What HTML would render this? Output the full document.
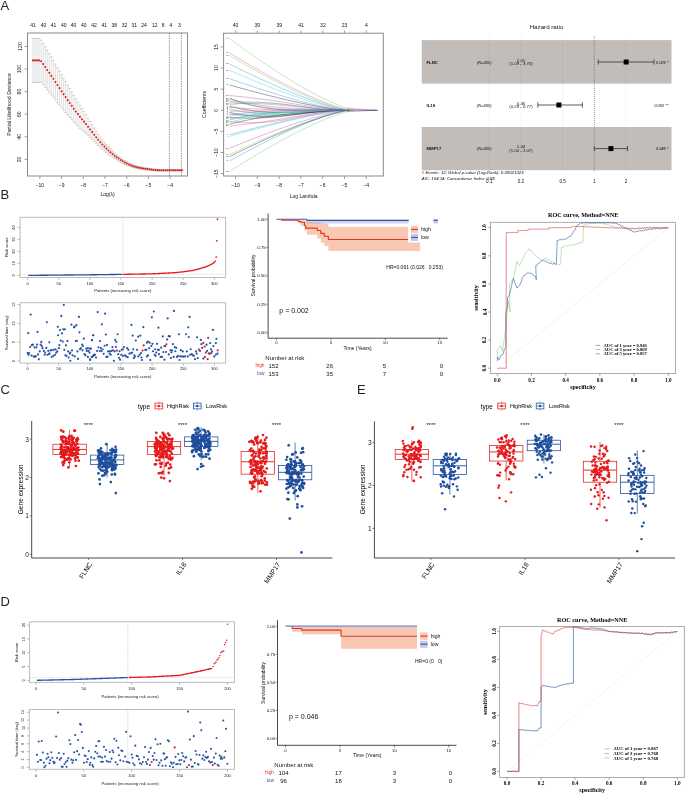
<!DOCTYPE html>
<html><head><meta charset="utf-8"><style>
html,body{margin:0;padding:0;background:#fff;}
svg{display:block;will-change:transform;}
text{font-family:"Liberation Sans",sans-serif;dominant-baseline:central;}
text.sf{font-family:"Liberation Serif",serif;}
</style></head><body>
<svg width="685" height="794" viewBox="0 0 685 794">
<rect x="0" y="0" width="685" height="794" fill="#fff"/>
<text x="0.5" y="5.2" font-size="13" fill="#231f20">A</text>
<text x="0.5" y="194" font-size="13" fill="#231f20">B</text>
<text x="0.5" y="389.7" font-size="13" fill="#231f20">C</text>
<text x="357" y="389.5" font-size="13" fill="#231f20">E</text>
<text x="0.5" y="601.3" font-size="13" fill="#231f20">D</text>
<rect x="27.5" y="33" width="160" height="143" fill="none" stroke="#8a8a8a" stroke-width="1"/>
<text x="33.1" y="24.9" font-size="5" fill="#111" text-anchor="middle">41</text>
<text x="43.5" y="24.9" font-size="5" fill="#111" text-anchor="middle">40</text>
<text x="53.6" y="24.9" font-size="5" fill="#111" text-anchor="middle">41</text>
<text x="63.8" y="24.9" font-size="5" fill="#111" text-anchor="middle">40</text>
<text x="73.6" y="24.9" font-size="5" fill="#111" text-anchor="middle">40</text>
<text x="83.7" y="24.9" font-size="5" fill="#111" text-anchor="middle">40</text>
<text x="94.1" y="24.9" font-size="5" fill="#111" text-anchor="middle">42</text>
<text x="104.2" y="24.9" font-size="5" fill="#111" text-anchor="middle">41</text>
<text x="114.3" y="24.9" font-size="5" fill="#111" text-anchor="middle">38</text>
<text x="124.5" y="24.9" font-size="5" fill="#111" text-anchor="middle">32</text>
<text x="134.3" y="24.9" font-size="5" fill="#111" text-anchor="middle">31</text>
<text x="144.1" y="24.9" font-size="5" fill="#111" text-anchor="middle">24</text>
<text x="154.8" y="24.9" font-size="5" fill="#111" text-anchor="middle">12</text>
<text x="163.1" y="24.9" font-size="5" fill="#111" text-anchor="middle">8</text>
<text x="170.8" y="24.9" font-size="5" fill="#111" text-anchor="middle">4</text>
<text x="179.3" y="24.9" font-size="5" fill="#111" text-anchor="middle">3</text>
<line x1="24.5" y1="46.5" x2="27.5" y2="46.5" stroke="#8a8a8a" stroke-width="0.8"/>
<text x="19.5" y="46.5" font-size="5" fill="#111" text-anchor="middle" transform="rotate(-90 19.5 46.5)">120</text>
<line x1="24.5" y1="69.1" x2="27.5" y2="69.1" stroke="#8a8a8a" stroke-width="0.8"/>
<text x="19.5" y="69.1" font-size="5" fill="#111" text-anchor="middle" transform="rotate(-90 19.5 69.1)">100</text>
<line x1="24.5" y1="91.6" x2="27.5" y2="91.6" stroke="#8a8a8a" stroke-width="0.8"/>
<text x="19.5" y="91.6" font-size="5" fill="#111" text-anchor="middle" transform="rotate(-90 19.5 91.6)">80</text>
<line x1="24.5" y1="114.2" x2="27.5" y2="114.2" stroke="#8a8a8a" stroke-width="0.8"/>
<text x="19.5" y="114.2" font-size="5" fill="#111" text-anchor="middle" transform="rotate(-90 19.5 114.2)">60</text>
<line x1="24.5" y1="136.8" x2="27.5" y2="136.8" stroke="#8a8a8a" stroke-width="0.8"/>
<text x="19.5" y="136.8" font-size="5" fill="#111" text-anchor="middle" transform="rotate(-90 19.5 136.8)">40</text>
<line x1="24.5" y1="159.4" x2="27.5" y2="159.4" stroke="#8a8a8a" stroke-width="0.8"/>
<text x="19.5" y="159.4" font-size="5" fill="#111" text-anchor="middle" transform="rotate(-90 19.5 159.4)">20</text>
<text x="9.2" y="104.5" font-size="5.2" fill="#111" text-anchor="middle" transform="rotate(-90 9.2 104.5)">Partial Likelihood Deviance</text>
<line x1="39.9" y1="176" x2="39.9" y2="179" stroke="#8a8a8a" stroke-width="0.8"/>
<text x="39.9" y="185" font-size="5" fill="#111" text-anchor="middle">&#8722;10</text>
<line x1="61.6" y1="176" x2="61.6" y2="179" stroke="#8a8a8a" stroke-width="0.8"/>
<text x="61.6" y="185" font-size="5" fill="#111" text-anchor="middle">&#8722;9</text>
<line x1="83.3" y1="176" x2="83.3" y2="179" stroke="#8a8a8a" stroke-width="0.8"/>
<text x="83.3" y="185" font-size="5" fill="#111" text-anchor="middle">&#8722;8</text>
<line x1="105" y1="176" x2="105" y2="179" stroke="#8a8a8a" stroke-width="0.8"/>
<text x="105" y="185" font-size="5" fill="#111" text-anchor="middle">&#8722;7</text>
<line x1="126.7" y1="176" x2="126.7" y2="179" stroke="#8a8a8a" stroke-width="0.8"/>
<text x="126.7" y="185" font-size="5" fill="#111" text-anchor="middle">&#8722;6</text>
<line x1="148.4" y1="176" x2="148.4" y2="179" stroke="#8a8a8a" stroke-width="0.8"/>
<text x="148.4" y="185" font-size="5" fill="#111" text-anchor="middle">&#8722;5</text>
<line x1="170.1" y1="176" x2="170.1" y2="179" stroke="#8a8a8a" stroke-width="0.8"/>
<text x="170.1" y="185" font-size="5" fill="#111" text-anchor="middle">&#8722;4</text>
<text x="107.5" y="194.2" font-size="5" fill="#111" text-anchor="middle">Log(&#955;)</text>
<line x1="33" y1="38.4" x2="33" y2="82.4" stroke="#c9c9c9" stroke-width="0.6"/>
<line x1="31.7" y1="38.4" x2="34.3" y2="38.4" stroke="#b5b5b5" stroke-width="0.6"/>
<line x1="31.7" y1="82.4" x2="34.3" y2="82.4" stroke="#b5b5b5" stroke-width="0.6"/>
<line x1="35.04" y1="38.4" x2="35.04" y2="82.4" stroke="#c9c9c9" stroke-width="0.6"/>
<line x1="33.74" y1="38.4" x2="36.34" y2="38.4" stroke="#b5b5b5" stroke-width="0.6"/>
<line x1="33.74" y1="82.4" x2="36.34" y2="82.4" stroke="#b5b5b5" stroke-width="0.6"/>
<line x1="37.08" y1="38.4" x2="37.08" y2="82.4" stroke="#c9c9c9" stroke-width="0.6"/>
<line x1="35.78" y1="38.4" x2="38.38" y2="38.4" stroke="#b5b5b5" stroke-width="0.6"/>
<line x1="35.78" y1="82.4" x2="38.38" y2="82.4" stroke="#b5b5b5" stroke-width="0.6"/>
<line x1="39.12" y1="38.4" x2="39.12" y2="82.4" stroke="#c9c9c9" stroke-width="0.6"/>
<line x1="37.82" y1="38.4" x2="40.42" y2="38.4" stroke="#b5b5b5" stroke-width="0.6"/>
<line x1="37.82" y1="82.4" x2="40.42" y2="82.4" stroke="#b5b5b5" stroke-width="0.6"/>
<line x1="41.16" y1="40.09" x2="41.16" y2="82.28" stroke="#c9c9c9" stroke-width="0.6"/>
<line x1="39.86" y1="40.09" x2="42.46" y2="40.09" stroke="#b5b5b5" stroke-width="0.6"/>
<line x1="39.86" y1="82.28" x2="42.46" y2="82.28" stroke="#b5b5b5" stroke-width="0.6"/>
<line x1="43.2" y1="43.53" x2="43.2" y2="84.71" stroke="#c9c9c9" stroke-width="0.6"/>
<line x1="41.9" y1="43.53" x2="44.5" y2="43.53" stroke="#b5b5b5" stroke-width="0.6"/>
<line x1="41.9" y1="84.71" x2="44.5" y2="84.71" stroke="#b5b5b5" stroke-width="0.6"/>
<line x1="45.24" y1="46.83" x2="45.24" y2="87.28" stroke="#c9c9c9" stroke-width="0.6"/>
<line x1="43.94" y1="46.83" x2="46.54" y2="46.83" stroke="#b5b5b5" stroke-width="0.6"/>
<line x1="43.94" y1="87.28" x2="46.54" y2="87.28" stroke="#b5b5b5" stroke-width="0.6"/>
<line x1="47.28" y1="50.14" x2="47.28" y2="89.85" stroke="#c9c9c9" stroke-width="0.6"/>
<line x1="45.98" y1="50.14" x2="48.58" y2="50.14" stroke="#b5b5b5" stroke-width="0.6"/>
<line x1="45.98" y1="89.85" x2="48.58" y2="89.85" stroke="#b5b5b5" stroke-width="0.6"/>
<line x1="49.32" y1="53.35" x2="49.32" y2="92.32" stroke="#c9c9c9" stroke-width="0.6"/>
<line x1="48.02" y1="53.35" x2="50.62" y2="53.35" stroke="#b5b5b5" stroke-width="0.6"/>
<line x1="48.02" y1="92.32" x2="50.62" y2="92.32" stroke="#b5b5b5" stroke-width="0.6"/>
<line x1="51.36" y1="56.87" x2="51.36" y2="94.89" stroke="#c9c9c9" stroke-width="0.6"/>
<line x1="50.06" y1="56.87" x2="52.66" y2="56.87" stroke="#b5b5b5" stroke-width="0.6"/>
<line x1="50.06" y1="94.89" x2="52.66" y2="94.89" stroke="#b5b5b5" stroke-width="0.6"/>
<line x1="53.4" y1="60.25" x2="53.4" y2="97.25" stroke="#c9c9c9" stroke-width="0.6"/>
<line x1="52.1" y1="60.25" x2="54.7" y2="60.25" stroke="#b5b5b5" stroke-width="0.6"/>
<line x1="52.1" y1="97.25" x2="54.7" y2="97.25" stroke="#b5b5b5" stroke-width="0.6"/>
<line x1="55.44" y1="64.02" x2="55.44" y2="100" stroke="#c9c9c9" stroke-width="0.6"/>
<line x1="54.14" y1="64.02" x2="56.74" y2="64.02" stroke="#b5b5b5" stroke-width="0.6"/>
<line x1="54.14" y1="100" x2="56.74" y2="100" stroke="#b5b5b5" stroke-width="0.6"/>
<line x1="57.48" y1="67.64" x2="57.48" y2="102.6" stroke="#c9c9c9" stroke-width="0.6"/>
<line x1="56.18" y1="67.64" x2="58.78" y2="67.64" stroke="#b5b5b5" stroke-width="0.6"/>
<line x1="56.18" y1="102.6" x2="58.78" y2="102.6" stroke="#b5b5b5" stroke-width="0.6"/>
<line x1="59.52" y1="71.14" x2="59.52" y2="105.14" stroke="#c9c9c9" stroke-width="0.6"/>
<line x1="58.22" y1="71.14" x2="60.82" y2="71.14" stroke="#b5b5b5" stroke-width="0.6"/>
<line x1="58.22" y1="105.14" x2="60.82" y2="105.14" stroke="#b5b5b5" stroke-width="0.6"/>
<line x1="61.56" y1="74.74" x2="61.56" y2="107.8" stroke="#c9c9c9" stroke-width="0.6"/>
<line x1="60.26" y1="74.74" x2="62.86" y2="74.74" stroke="#b5b5b5" stroke-width="0.6"/>
<line x1="60.26" y1="107.8" x2="62.86" y2="107.8" stroke="#b5b5b5" stroke-width="0.6"/>
<line x1="63.6" y1="78.09" x2="63.6" y2="110.2" stroke="#c9c9c9" stroke-width="0.6"/>
<line x1="62.3" y1="78.09" x2="64.9" y2="78.09" stroke="#b5b5b5" stroke-width="0.6"/>
<line x1="62.3" y1="110.2" x2="64.9" y2="110.2" stroke="#b5b5b5" stroke-width="0.6"/>
<line x1="65.64" y1="81.49" x2="65.64" y2="112.66" stroke="#c9c9c9" stroke-width="0.6"/>
<line x1="64.34" y1="81.49" x2="66.94" y2="81.49" stroke="#b5b5b5" stroke-width="0.6"/>
<line x1="64.34" y1="112.66" x2="66.94" y2="112.66" stroke="#b5b5b5" stroke-width="0.6"/>
<line x1="67.68" y1="85.12" x2="67.68" y2="115.2" stroke="#c9c9c9" stroke-width="0.6"/>
<line x1="66.38" y1="85.12" x2="68.98" y2="85.12" stroke="#b5b5b5" stroke-width="0.6"/>
<line x1="66.38" y1="115.2" x2="68.98" y2="115.2" stroke="#b5b5b5" stroke-width="0.6"/>
<line x1="69.72" y1="88.54" x2="69.72" y2="117.49" stroke="#c9c9c9" stroke-width="0.6"/>
<line x1="68.42" y1="88.54" x2="71.02" y2="88.54" stroke="#b5b5b5" stroke-width="0.6"/>
<line x1="68.42" y1="117.49" x2="71.02" y2="117.49" stroke="#b5b5b5" stroke-width="0.6"/>
<line x1="71.76" y1="91.95" x2="71.76" y2="119.78" stroke="#c9c9c9" stroke-width="0.6"/>
<line x1="70.46" y1="91.95" x2="73.06" y2="91.95" stroke="#b5b5b5" stroke-width="0.6"/>
<line x1="70.46" y1="119.78" x2="73.06" y2="119.78" stroke="#b5b5b5" stroke-width="0.6"/>
<line x1="73.8" y1="95.33" x2="73.8" y2="122.04" stroke="#c9c9c9" stroke-width="0.6"/>
<line x1="72.5" y1="95.33" x2="75.1" y2="95.33" stroke="#b5b5b5" stroke-width="0.6"/>
<line x1="72.5" y1="122.04" x2="75.1" y2="122.04" stroke="#b5b5b5" stroke-width="0.6"/>
<line x1="75.84" y1="98.73" x2="75.84" y2="124.17" stroke="#c9c9c9" stroke-width="0.6"/>
<line x1="74.54" y1="98.73" x2="77.14" y2="98.73" stroke="#b5b5b5" stroke-width="0.6"/>
<line x1="74.54" y1="124.17" x2="77.14" y2="124.17" stroke="#b5b5b5" stroke-width="0.6"/>
<line x1="77.88" y1="102.04" x2="77.88" y2="126.18" stroke="#c9c9c9" stroke-width="0.6"/>
<line x1="76.58" y1="102.04" x2="79.18" y2="102.04" stroke="#b5b5b5" stroke-width="0.6"/>
<line x1="76.58" y1="126.18" x2="79.18" y2="126.18" stroke="#b5b5b5" stroke-width="0.6"/>
<line x1="79.92" y1="105.4" x2="79.92" y2="128.25" stroke="#c9c9c9" stroke-width="0.6"/>
<line x1="78.62" y1="105.4" x2="81.22" y2="105.4" stroke="#b5b5b5" stroke-width="0.6"/>
<line x1="78.62" y1="128.25" x2="81.22" y2="128.25" stroke="#b5b5b5" stroke-width="0.6"/>
<line x1="81.96" y1="108.45" x2="81.96" y2="130" stroke="#c9c9c9" stroke-width="0.6"/>
<line x1="80.66" y1="108.45" x2="83.26" y2="108.45" stroke="#b5b5b5" stroke-width="0.6"/>
<line x1="80.66" y1="130" x2="83.26" y2="130" stroke="#b5b5b5" stroke-width="0.6"/>
<line x1="84" y1="111.58" x2="84" y2="131.71" stroke="#c9c9c9" stroke-width="0.6"/>
<line x1="82.7" y1="111.58" x2="85.3" y2="111.58" stroke="#b5b5b5" stroke-width="0.6"/>
<line x1="82.7" y1="131.71" x2="85.3" y2="131.71" stroke="#b5b5b5" stroke-width="0.6"/>
<line x1="86.04" y1="114.76" x2="86.04" y2="133.45" stroke="#c9c9c9" stroke-width="0.6"/>
<line x1="84.74" y1="114.76" x2="87.34" y2="114.76" stroke="#b5b5b5" stroke-width="0.6"/>
<line x1="84.74" y1="133.45" x2="87.34" y2="133.45" stroke="#b5b5b5" stroke-width="0.6"/>
<line x1="88.08" y1="118.14" x2="88.08" y2="135.38" stroke="#c9c9c9" stroke-width="0.6"/>
<line x1="86.78" y1="118.14" x2="89.38" y2="118.14" stroke="#b5b5b5" stroke-width="0.6"/>
<line x1="86.78" y1="135.38" x2="89.38" y2="135.38" stroke="#b5b5b5" stroke-width="0.6"/>
<line x1="90.12" y1="121.53" x2="90.12" y2="137.33" stroke="#c9c9c9" stroke-width="0.6"/>
<line x1="88.82" y1="121.53" x2="91.42" y2="121.53" stroke="#b5b5b5" stroke-width="0.6"/>
<line x1="88.82" y1="137.33" x2="91.42" y2="137.33" stroke="#b5b5b5" stroke-width="0.6"/>
<line x1="92.16" y1="124.8" x2="92.16" y2="139.38" stroke="#c9c9c9" stroke-width="0.6"/>
<line x1="90.86" y1="124.8" x2="93.46" y2="124.8" stroke="#b5b5b5" stroke-width="0.6"/>
<line x1="90.86" y1="139.38" x2="93.46" y2="139.38" stroke="#b5b5b5" stroke-width="0.6"/>
<line x1="94.2" y1="128.05" x2="94.2" y2="141.45" stroke="#c9c9c9" stroke-width="0.6"/>
<line x1="92.9" y1="128.05" x2="95.5" y2="128.05" stroke="#b5b5b5" stroke-width="0.6"/>
<line x1="92.9" y1="141.45" x2="95.5" y2="141.45" stroke="#b5b5b5" stroke-width="0.6"/>
<line x1="96.24" y1="131.18" x2="96.24" y2="143.4" stroke="#c9c9c9" stroke-width="0.6"/>
<line x1="94.94" y1="131.18" x2="97.54" y2="131.18" stroke="#b5b5b5" stroke-width="0.6"/>
<line x1="94.94" y1="143.4" x2="97.54" y2="143.4" stroke="#b5b5b5" stroke-width="0.6"/>
<line x1="98.28" y1="134.27" x2="98.28" y2="145.36" stroke="#c9c9c9" stroke-width="0.6"/>
<line x1="96.98" y1="134.27" x2="99.58" y2="134.27" stroke="#b5b5b5" stroke-width="0.6"/>
<line x1="96.98" y1="145.36" x2="99.58" y2="145.36" stroke="#b5b5b5" stroke-width="0.6"/>
<line x1="100.32" y1="137.07" x2="100.32" y2="147.34" stroke="#c9c9c9" stroke-width="0.6"/>
<line x1="99.02" y1="137.07" x2="101.62" y2="137.07" stroke="#b5b5b5" stroke-width="0.6"/>
<line x1="99.02" y1="147.34" x2="101.62" y2="147.34" stroke="#b5b5b5" stroke-width="0.6"/>
<line x1="102.36" y1="139.83" x2="102.36" y2="149.29" stroke="#c9c9c9" stroke-width="0.6"/>
<line x1="101.06" y1="139.83" x2="103.66" y2="139.83" stroke="#b5b5b5" stroke-width="0.6"/>
<line x1="101.06" y1="149.29" x2="103.66" y2="149.29" stroke="#b5b5b5" stroke-width="0.6"/>
<line x1="104.4" y1="142.28" x2="104.4" y2="150.92" stroke="#c9c9c9" stroke-width="0.6"/>
<line x1="103.1" y1="142.28" x2="105.7" y2="142.28" stroke="#b5b5b5" stroke-width="0.6"/>
<line x1="103.1" y1="150.92" x2="105.7" y2="150.92" stroke="#b5b5b5" stroke-width="0.6"/>
<line x1="106.44" y1="144.68" x2="106.44" y2="152.56" stroke="#c9c9c9" stroke-width="0.6"/>
<line x1="105.14" y1="144.68" x2="107.74" y2="144.68" stroke="#b5b5b5" stroke-width="0.6"/>
<line x1="105.14" y1="152.56" x2="107.74" y2="152.56" stroke="#b5b5b5" stroke-width="0.6"/>
<line x1="108.48" y1="146.85" x2="108.48" y2="154.16" stroke="#c9c9c9" stroke-width="0.6"/>
<line x1="107.18" y1="146.85" x2="109.78" y2="146.85" stroke="#b5b5b5" stroke-width="0.6"/>
<line x1="107.18" y1="154.16" x2="109.78" y2="154.16" stroke="#b5b5b5" stroke-width="0.6"/>
<line x1="110.52" y1="148.97" x2="110.52" y2="155.73" stroke="#c9c9c9" stroke-width="0.6"/>
<line x1="109.22" y1="148.97" x2="111.82" y2="148.97" stroke="#b5b5b5" stroke-width="0.6"/>
<line x1="109.22" y1="155.73" x2="111.82" y2="155.73" stroke="#b5b5b5" stroke-width="0.6"/>
<line x1="112.56" y1="150.94" x2="112.56" y2="157.14" stroke="#c9c9c9" stroke-width="0.6"/>
<line x1="111.26" y1="150.94" x2="113.86" y2="150.94" stroke="#b5b5b5" stroke-width="0.6"/>
<line x1="111.26" y1="157.14" x2="113.86" y2="157.14" stroke="#b5b5b5" stroke-width="0.6"/>
<line x1="114.6" y1="152.84" x2="114.6" y2="158.52" stroke="#c9c9c9" stroke-width="0.6"/>
<line x1="113.3" y1="152.84" x2="115.9" y2="152.84" stroke="#b5b5b5" stroke-width="0.6"/>
<line x1="113.3" y1="158.52" x2="115.9" y2="158.52" stroke="#b5b5b5" stroke-width="0.6"/>
<line x1="116.64" y1="154.49" x2="116.64" y2="159.76" stroke="#c9c9c9" stroke-width="0.6"/>
<line x1="115.34" y1="154.49" x2="117.94" y2="154.49" stroke="#b5b5b5" stroke-width="0.6"/>
<line x1="115.34" y1="159.76" x2="117.94" y2="159.76" stroke="#b5b5b5" stroke-width="0.6"/>
<line x1="118.68" y1="156.13" x2="118.68" y2="160.99" stroke="#c9c9c9" stroke-width="0.6"/>
<line x1="117.38" y1="156.13" x2="119.98" y2="156.13" stroke="#b5b5b5" stroke-width="0.6"/>
<line x1="117.38" y1="160.99" x2="119.98" y2="160.99" stroke="#b5b5b5" stroke-width="0.6"/>
<line x1="120.72" y1="157.72" x2="120.72" y2="162.18" stroke="#c9c9c9" stroke-width="0.6"/>
<line x1="119.42" y1="157.72" x2="122.02" y2="157.72" stroke="#b5b5b5" stroke-width="0.6"/>
<line x1="119.42" y1="162.18" x2="122.02" y2="162.18" stroke="#b5b5b5" stroke-width="0.6"/>
<line x1="122.76" y1="159.25" x2="122.76" y2="163.36" stroke="#c9c9c9" stroke-width="0.6"/>
<line x1="121.46" y1="159.25" x2="124.06" y2="159.25" stroke="#b5b5b5" stroke-width="0.6"/>
<line x1="121.46" y1="163.36" x2="124.06" y2="163.36" stroke="#b5b5b5" stroke-width="0.6"/>
<line x1="124.8" y1="160.51" x2="124.8" y2="164.38" stroke="#c9c9c9" stroke-width="0.6"/>
<line x1="123.5" y1="160.51" x2="126.1" y2="160.51" stroke="#b5b5b5" stroke-width="0.6"/>
<line x1="123.5" y1="164.38" x2="126.1" y2="164.38" stroke="#b5b5b5" stroke-width="0.6"/>
<line x1="126.84" y1="161.74" x2="126.84" y2="165.37" stroke="#c9c9c9" stroke-width="0.6"/>
<line x1="125.54" y1="161.74" x2="128.14" y2="161.74" stroke="#b5b5b5" stroke-width="0.6"/>
<line x1="125.54" y1="165.37" x2="128.14" y2="165.37" stroke="#b5b5b5" stroke-width="0.6"/>
<line x1="128.88" y1="162.77" x2="128.88" y2="166.17" stroke="#c9c9c9" stroke-width="0.6"/>
<line x1="127.58" y1="162.77" x2="130.18" y2="162.77" stroke="#b5b5b5" stroke-width="0.6"/>
<line x1="127.58" y1="166.17" x2="130.18" y2="166.17" stroke="#b5b5b5" stroke-width="0.6"/>
<line x1="130.92" y1="163.76" x2="130.92" y2="166.92" stroke="#c9c9c9" stroke-width="0.6"/>
<line x1="129.62" y1="163.76" x2="132.22" y2="163.76" stroke="#b5b5b5" stroke-width="0.6"/>
<line x1="129.62" y1="166.92" x2="132.22" y2="166.92" stroke="#b5b5b5" stroke-width="0.6"/>
<line x1="132.96" y1="164.58" x2="132.96" y2="167.5" stroke="#c9c9c9" stroke-width="0.6"/>
<line x1="131.66" y1="164.58" x2="134.26" y2="164.58" stroke="#b5b5b5" stroke-width="0.6"/>
<line x1="131.66" y1="167.5" x2="134.26" y2="167.5" stroke="#b5b5b5" stroke-width="0.6"/>
<line x1="135" y1="165.33" x2="135" y2="168.07" stroke="#c9c9c9" stroke-width="0.6"/>
<line x1="133.7" y1="165.33" x2="136.3" y2="165.33" stroke="#b5b5b5" stroke-width="0.6"/>
<line x1="133.7" y1="168.07" x2="136.3" y2="168.07" stroke="#b5b5b5" stroke-width="0.6"/>
<line x1="137.04" y1="165.91" x2="137.04" y2="168.52" stroke="#c9c9c9" stroke-width="0.6"/>
<line x1="135.74" y1="165.91" x2="138.34" y2="165.91" stroke="#b5b5b5" stroke-width="0.6"/>
<line x1="135.74" y1="168.52" x2="138.34" y2="168.52" stroke="#b5b5b5" stroke-width="0.6"/>
<line x1="139.08" y1="166.47" x2="139.08" y2="168.96" stroke="#c9c9c9" stroke-width="0.6"/>
<line x1="137.78" y1="166.47" x2="140.38" y2="166.47" stroke="#b5b5b5" stroke-width="0.6"/>
<line x1="137.78" y1="168.96" x2="140.38" y2="168.96" stroke="#b5b5b5" stroke-width="0.6"/>
<line x1="141.12" y1="166.91" x2="141.12" y2="169.26" stroke="#c9c9c9" stroke-width="0.6"/>
<line x1="139.82" y1="166.91" x2="142.42" y2="166.91" stroke="#b5b5b5" stroke-width="0.6"/>
<line x1="139.82" y1="169.26" x2="142.42" y2="169.26" stroke="#b5b5b5" stroke-width="0.6"/>
<line x1="143.16" y1="167.34" x2="143.16" y2="169.57" stroke="#c9c9c9" stroke-width="0.6"/>
<line x1="141.86" y1="167.34" x2="144.46" y2="167.34" stroke="#b5b5b5" stroke-width="0.6"/>
<line x1="141.86" y1="169.57" x2="144.46" y2="169.57" stroke="#b5b5b5" stroke-width="0.6"/>
<line x1="145.2" y1="167.7" x2="145.2" y2="169.8" stroke="#c9c9c9" stroke-width="0.6"/>
<line x1="143.9" y1="167.7" x2="146.5" y2="167.7" stroke="#b5b5b5" stroke-width="0.6"/>
<line x1="143.9" y1="169.8" x2="146.5" y2="169.8" stroke="#b5b5b5" stroke-width="0.6"/>
<line x1="147.24" y1="168.04" x2="147.24" y2="170.01" stroke="#c9c9c9" stroke-width="0.6"/>
<line x1="145.94" y1="168.04" x2="148.54" y2="168.04" stroke="#b5b5b5" stroke-width="0.6"/>
<line x1="145.94" y1="170.01" x2="148.54" y2="170.01" stroke="#b5b5b5" stroke-width="0.6"/>
<line x1="149.28" y1="168.38" x2="149.28" y2="170.23" stroke="#c9c9c9" stroke-width="0.6"/>
<line x1="147.98" y1="168.38" x2="150.58" y2="168.38" stroke="#b5b5b5" stroke-width="0.6"/>
<line x1="147.98" y1="170.23" x2="150.58" y2="170.23" stroke="#b5b5b5" stroke-width="0.6"/>
<line x1="151.32" y1="168.7" x2="151.32" y2="170.47" stroke="#c9c9c9" stroke-width="0.6"/>
<line x1="150.02" y1="168.7" x2="152.62" y2="168.7" stroke="#b5b5b5" stroke-width="0.6"/>
<line x1="150.02" y1="170.47" x2="152.62" y2="170.47" stroke="#b5b5b5" stroke-width="0.6"/>
<line x1="153.36" y1="169" x2="153.36" y2="170.74" stroke="#c9c9c9" stroke-width="0.6"/>
<line x1="152.06" y1="169" x2="154.66" y2="169" stroke="#b5b5b5" stroke-width="0.6"/>
<line x1="152.06" y1="170.74" x2="154.66" y2="170.74" stroke="#b5b5b5" stroke-width="0.6"/>
<line x1="155.4" y1="169.17" x2="155.4" y2="170.87" stroke="#c9c9c9" stroke-width="0.6"/>
<line x1="154.1" y1="169.17" x2="156.7" y2="169.17" stroke="#b5b5b5" stroke-width="0.6"/>
<line x1="154.1" y1="170.87" x2="156.7" y2="170.87" stroke="#b5b5b5" stroke-width="0.6"/>
<line x1="157.44" y1="169.33" x2="157.44" y2="170.99" stroke="#c9c9c9" stroke-width="0.6"/>
<line x1="156.14" y1="169.33" x2="158.74" y2="169.33" stroke="#b5b5b5" stroke-width="0.6"/>
<line x1="156.14" y1="170.99" x2="158.74" y2="170.99" stroke="#b5b5b5" stroke-width="0.6"/>
<line x1="159.48" y1="169.49" x2="159.48" y2="171.11" stroke="#c9c9c9" stroke-width="0.6"/>
<line x1="158.18" y1="169.49" x2="160.78" y2="169.49" stroke="#b5b5b5" stroke-width="0.6"/>
<line x1="158.18" y1="171.11" x2="160.78" y2="171.11" stroke="#b5b5b5" stroke-width="0.6"/>
<line x1="161.52" y1="169.51" x2="161.52" y2="171.09" stroke="#c9c9c9" stroke-width="0.6"/>
<line x1="160.22" y1="169.51" x2="162.82" y2="169.51" stroke="#b5b5b5" stroke-width="0.6"/>
<line x1="160.22" y1="171.09" x2="162.82" y2="171.09" stroke="#b5b5b5" stroke-width="0.6"/>
<line x1="163.56" y1="169.53" x2="163.56" y2="171.07" stroke="#c9c9c9" stroke-width="0.6"/>
<line x1="162.26" y1="169.53" x2="164.86" y2="169.53" stroke="#b5b5b5" stroke-width="0.6"/>
<line x1="162.26" y1="171.07" x2="164.86" y2="171.07" stroke="#b5b5b5" stroke-width="0.6"/>
<line x1="165.6" y1="169.55" x2="165.6" y2="171.05" stroke="#c9c9c9" stroke-width="0.6"/>
<line x1="164.3" y1="169.55" x2="166.9" y2="169.55" stroke="#b5b5b5" stroke-width="0.6"/>
<line x1="164.3" y1="171.05" x2="166.9" y2="171.05" stroke="#b5b5b5" stroke-width="0.6"/>
<line x1="167.64" y1="169.57" x2="167.64" y2="171.03" stroke="#c9c9c9" stroke-width="0.6"/>
<line x1="166.34" y1="169.57" x2="168.94" y2="169.57" stroke="#b5b5b5" stroke-width="0.6"/>
<line x1="166.34" y1="171.03" x2="168.94" y2="171.03" stroke="#b5b5b5" stroke-width="0.6"/>
<line x1="169.68" y1="169.58" x2="169.68" y2="171.02" stroke="#c9c9c9" stroke-width="0.6"/>
<line x1="168.38" y1="169.58" x2="170.98" y2="169.58" stroke="#b5b5b5" stroke-width="0.6"/>
<line x1="168.38" y1="171.02" x2="170.98" y2="171.02" stroke="#b5b5b5" stroke-width="0.6"/>
<line x1="171.72" y1="169.6" x2="171.72" y2="171" stroke="#c9c9c9" stroke-width="0.6"/>
<line x1="170.42" y1="169.6" x2="173.02" y2="169.6" stroke="#b5b5b5" stroke-width="0.6"/>
<line x1="170.42" y1="171" x2="173.02" y2="171" stroke="#b5b5b5" stroke-width="0.6"/>
<line x1="173.76" y1="169.62" x2="173.76" y2="170.98" stroke="#c9c9c9" stroke-width="0.6"/>
<line x1="172.46" y1="169.62" x2="175.06" y2="169.62" stroke="#b5b5b5" stroke-width="0.6"/>
<line x1="172.46" y1="170.98" x2="175.06" y2="170.98" stroke="#b5b5b5" stroke-width="0.6"/>
<line x1="175.8" y1="169.64" x2="175.8" y2="170.96" stroke="#c9c9c9" stroke-width="0.6"/>
<line x1="174.5" y1="169.64" x2="177.1" y2="169.64" stroke="#b5b5b5" stroke-width="0.6"/>
<line x1="174.5" y1="170.96" x2="177.1" y2="170.96" stroke="#b5b5b5" stroke-width="0.6"/>
<line x1="177.84" y1="169.66" x2="177.84" y2="170.94" stroke="#c9c9c9" stroke-width="0.6"/>
<line x1="176.54" y1="169.66" x2="179.14" y2="169.66" stroke="#b5b5b5" stroke-width="0.6"/>
<line x1="176.54" y1="170.94" x2="179.14" y2="170.94" stroke="#b5b5b5" stroke-width="0.6"/>
<line x1="179.88" y1="169.68" x2="179.88" y2="170.92" stroke="#c9c9c9" stroke-width="0.6"/>
<line x1="178.58" y1="169.68" x2="181.18" y2="169.68" stroke="#b5b5b5" stroke-width="0.6"/>
<line x1="178.58" y1="170.92" x2="181.18" y2="170.92" stroke="#b5b5b5" stroke-width="0.6"/>
<line x1="181.92" y1="169.7" x2="181.92" y2="170.9" stroke="#c9c9c9" stroke-width="0.6"/>
<line x1="180.62" y1="169.7" x2="183.22" y2="169.7" stroke="#b5b5b5" stroke-width="0.6"/>
<line x1="180.62" y1="170.9" x2="183.22" y2="170.9" stroke="#b5b5b5" stroke-width="0.6"/>
<circle cx="33" cy="60.4" r="1.05" fill="#e0201e"/>
<circle cx="35.04" cy="60.4" r="1.05" fill="#e0201e"/>
<circle cx="37.08" cy="60.4" r="1.05" fill="#e0201e"/>
<circle cx="39.12" cy="60.4" r="1.05" fill="#e0201e"/>
<circle cx="41.16" cy="61.19" r="1.05" fill="#e0201e"/>
<circle cx="43.2" cy="64.12" r="1.05" fill="#e0201e"/>
<circle cx="45.24" cy="67.05" r="1.05" fill="#e0201e"/>
<circle cx="47.28" cy="69.99" r="1.05" fill="#e0201e"/>
<circle cx="49.32" cy="72.84" r="1.05" fill="#e0201e"/>
<circle cx="51.36" cy="75.88" r="1.05" fill="#e0201e"/>
<circle cx="53.4" cy="78.75" r="1.05" fill="#e0201e"/>
<circle cx="55.44" cy="82.01" r="1.05" fill="#e0201e"/>
<circle cx="57.48" cy="85.12" r="1.05" fill="#e0201e"/>
<circle cx="59.52" cy="88.14" r="1.05" fill="#e0201e"/>
<circle cx="61.56" cy="91.27" r="1.05" fill="#e0201e"/>
<circle cx="63.6" cy="94.15" r="1.05" fill="#e0201e"/>
<circle cx="65.64" cy="97.08" r="1.05" fill="#e0201e"/>
<circle cx="67.68" cy="100.16" r="1.05" fill="#e0201e"/>
<circle cx="69.72" cy="103.02" r="1.05" fill="#e0201e"/>
<circle cx="71.76" cy="105.86" r="1.05" fill="#e0201e"/>
<circle cx="73.8" cy="108.69" r="1.05" fill="#e0201e"/>
<circle cx="75.84" cy="111.45" r="1.05" fill="#e0201e"/>
<circle cx="77.88" cy="114.11" r="1.05" fill="#e0201e"/>
<circle cx="79.92" cy="116.83" r="1.05" fill="#e0201e"/>
<circle cx="81.96" cy="119.22" r="1.05" fill="#e0201e"/>
<circle cx="84" cy="121.64" r="1.05" fill="#e0201e"/>
<circle cx="86.04" cy="124.11" r="1.05" fill="#e0201e"/>
<circle cx="88.08" cy="126.76" r="1.05" fill="#e0201e"/>
<circle cx="90.12" cy="129.43" r="1.05" fill="#e0201e"/>
<circle cx="92.16" cy="132.09" r="1.05" fill="#e0201e"/>
<circle cx="94.2" cy="134.75" r="1.05" fill="#e0201e"/>
<circle cx="96.24" cy="137.29" r="1.05" fill="#e0201e"/>
<circle cx="98.28" cy="139.81" r="1.05" fill="#e0201e"/>
<circle cx="100.32" cy="142.21" r="1.05" fill="#e0201e"/>
<circle cx="102.36" cy="144.56" r="1.05" fill="#e0201e"/>
<circle cx="104.4" cy="146.6" r="1.05" fill="#e0201e"/>
<circle cx="106.44" cy="148.62" r="1.05" fill="#e0201e"/>
<circle cx="108.48" cy="150.5" r="1.05" fill="#e0201e"/>
<circle cx="110.52" cy="152.35" r="1.05" fill="#e0201e"/>
<circle cx="112.56" cy="154.04" r="1.05" fill="#e0201e"/>
<circle cx="114.6" cy="155.68" r="1.05" fill="#e0201e"/>
<circle cx="116.64" cy="157.13" r="1.05" fill="#e0201e"/>
<circle cx="118.68" cy="158.56" r="1.05" fill="#e0201e"/>
<circle cx="120.72" cy="159.95" r="1.05" fill="#e0201e"/>
<circle cx="122.76" cy="161.3" r="1.05" fill="#e0201e"/>
<circle cx="124.8" cy="162.45" r="1.05" fill="#e0201e"/>
<circle cx="126.84" cy="163.55" r="1.05" fill="#e0201e"/>
<circle cx="128.88" cy="164.47" r="1.05" fill="#e0201e"/>
<circle cx="130.92" cy="165.34" r="1.05" fill="#e0201e"/>
<circle cx="132.96" cy="166.04" r="1.05" fill="#e0201e"/>
<circle cx="135" cy="166.7" r="1.05" fill="#e0201e"/>
<circle cx="137.04" cy="167.21" r="1.05" fill="#e0201e"/>
<circle cx="139.08" cy="167.71" r="1.05" fill="#e0201e"/>
<circle cx="141.12" cy="168.09" r="1.05" fill="#e0201e"/>
<circle cx="143.16" cy="168.46" r="1.05" fill="#e0201e"/>
<circle cx="145.2" cy="168.75" r="1.05" fill="#e0201e"/>
<circle cx="147.24" cy="169.02" r="1.05" fill="#e0201e"/>
<circle cx="149.28" cy="169.3" r="1.05" fill="#e0201e"/>
<circle cx="151.32" cy="169.59" r="1.05" fill="#e0201e"/>
<circle cx="153.36" cy="169.87" r="1.05" fill="#e0201e"/>
<circle cx="155.4" cy="170.02" r="1.05" fill="#e0201e"/>
<circle cx="157.44" cy="170.16" r="1.05" fill="#e0201e"/>
<circle cx="159.48" cy="170.3" r="1.05" fill="#e0201e"/>
<circle cx="161.52" cy="170.3" r="1.05" fill="#e0201e"/>
<circle cx="163.56" cy="170.3" r="1.05" fill="#e0201e"/>
<circle cx="165.6" cy="170.3" r="1.05" fill="#e0201e"/>
<circle cx="167.64" cy="170.3" r="1.05" fill="#e0201e"/>
<circle cx="169.68" cy="170.3" r="1.05" fill="#e0201e"/>
<circle cx="171.72" cy="170.3" r="1.05" fill="#e0201e"/>
<circle cx="173.76" cy="170.3" r="1.05" fill="#e0201e"/>
<circle cx="175.8" cy="170.3" r="1.05" fill="#e0201e"/>
<circle cx="177.84" cy="170.3" r="1.05" fill="#e0201e"/>
<circle cx="179.88" cy="170.3" r="1.05" fill="#e0201e"/>
<circle cx="181.92" cy="170.3" r="1.05" fill="#e0201e"/>
<line x1="169.4" y1="33" x2="169.4" y2="176" stroke="#333" stroke-width="0.6" stroke-dasharray="1.2,1.2"/>
<line x1="181.4" y1="33" x2="181.4" y2="176" stroke="#333" stroke-width="0.6" stroke-dasharray="1.2,1.2"/>
<rect x="223.6" y="33.2" width="159.7" height="142.8" fill="none" stroke="#8a8a8a" stroke-width="1"/>
<line x1="235.6" y1="33.2" x2="235.6" y2="30.5" stroke="#8a8a8a" stroke-width="0.8"/>
<text x="235.6" y="24.9" font-size="5" fill="#111" text-anchor="middle">40</text>
<line x1="257.3" y1="33.2" x2="257.3" y2="30.5" stroke="#8a8a8a" stroke-width="0.8"/>
<text x="257.3" y="24.9" font-size="5" fill="#111" text-anchor="middle">39</text>
<line x1="279.2" y1="33.2" x2="279.2" y2="30.5" stroke="#8a8a8a" stroke-width="0.8"/>
<text x="279.2" y="24.9" font-size="5" fill="#111" text-anchor="middle">39</text>
<line x1="301" y1="33.2" x2="301" y2="30.5" stroke="#8a8a8a" stroke-width="0.8"/>
<text x="301" y="24.9" font-size="5" fill="#111" text-anchor="middle">41</text>
<line x1="322.9" y1="33.2" x2="322.9" y2="30.5" stroke="#8a8a8a" stroke-width="0.8"/>
<text x="322.9" y="24.9" font-size="5" fill="#111" text-anchor="middle">32</text>
<line x1="344.5" y1="33.2" x2="344.5" y2="30.5" stroke="#8a8a8a" stroke-width="0.8"/>
<text x="344.5" y="24.9" font-size="5" fill="#111" text-anchor="middle">23</text>
<line x1="366.3" y1="33.2" x2="366.3" y2="30.5" stroke="#8a8a8a" stroke-width="0.8"/>
<text x="366.3" y="24.9" font-size="5" fill="#111" text-anchor="middle">4</text>
<line x1="220.6" y1="47" x2="223.6" y2="47" stroke="#8a8a8a" stroke-width="0.8"/>
<text x="216" y="47" font-size="5" fill="#111" text-anchor="middle" transform="rotate(-90 216 47)">15</text>
<line x1="220.6" y1="68.1" x2="223.6" y2="68.1" stroke="#8a8a8a" stroke-width="0.8"/>
<text x="216" y="68.1" font-size="5" fill="#111" text-anchor="middle" transform="rotate(-90 216 68.1)">10</text>
<line x1="220.6" y1="89.2" x2="223.6" y2="89.2" stroke="#8a8a8a" stroke-width="0.8"/>
<text x="216" y="89.2" font-size="5" fill="#111" text-anchor="middle" transform="rotate(-90 216 89.2)">5</text>
<line x1="220.6" y1="110.3" x2="223.6" y2="110.3" stroke="#8a8a8a" stroke-width="0.8"/>
<text x="216" y="110.3" font-size="5" fill="#111" text-anchor="middle" transform="rotate(-90 216 110.3)">0</text>
<line x1="220.6" y1="131.4" x2="223.6" y2="131.4" stroke="#8a8a8a" stroke-width="0.8"/>
<text x="216" y="131.4" font-size="5" fill="#111" text-anchor="middle" transform="rotate(-90 216 131.4)">&#8722;5</text>
<line x1="220.6" y1="152.5" x2="223.6" y2="152.5" stroke="#8a8a8a" stroke-width="0.8"/>
<text x="216" y="152.5" font-size="5" fill="#111" text-anchor="middle" transform="rotate(-90 216 152.5)">&#8722;10</text>
<line x1="220.6" y1="173.6" x2="223.6" y2="173.6" stroke="#8a8a8a" stroke-width="0.8"/>
<text x="216" y="173.6" font-size="5" fill="#111" text-anchor="middle" transform="rotate(-90 216 173.6)">&#8722;15</text>
<text x="204.3" y="104.4" font-size="5.2" fill="#111" text-anchor="middle" transform="rotate(-90 204.3 104.4)">Coefficients</text>
<line x1="235.6" y1="176" x2="235.6" y2="179" stroke="#8a8a8a" stroke-width="0.8"/>
<text x="235.6" y="184.8" font-size="5" fill="#111" text-anchor="middle">&#8722;10</text>
<line x1="257.38" y1="176" x2="257.38" y2="179" stroke="#8a8a8a" stroke-width="0.8"/>
<text x="257.38" y="184.8" font-size="5" fill="#111" text-anchor="middle">&#8722;9</text>
<line x1="279.16" y1="176" x2="279.16" y2="179" stroke="#8a8a8a" stroke-width="0.8"/>
<text x="279.16" y="184.8" font-size="5" fill="#111" text-anchor="middle">&#8722;8</text>
<line x1="300.94" y1="176" x2="300.94" y2="179" stroke="#8a8a8a" stroke-width="0.8"/>
<text x="300.94" y="184.8" font-size="5" fill="#111" text-anchor="middle">&#8722;7</text>
<line x1="322.72" y1="176" x2="322.72" y2="179" stroke="#8a8a8a" stroke-width="0.8"/>
<text x="322.72" y="184.8" font-size="5" fill="#111" text-anchor="middle">&#8722;6</text>
<line x1="344.5" y1="176" x2="344.5" y2="179" stroke="#8a8a8a" stroke-width="0.8"/>
<text x="344.5" y="184.8" font-size="5" fill="#111" text-anchor="middle">&#8722;5</text>
<line x1="366.28" y1="176" x2="366.28" y2="179" stroke="#8a8a8a" stroke-width="0.8"/>
<text x="366.28" y="184.8" font-size="5" fill="#111" text-anchor="middle">&#8722;4</text>
<text x="303.6" y="195.9" font-size="5" fill="#111" text-anchor="middle">Log Lambda</text>
<polyline points="229.5,38.56 232.63,40.88 235.77,43.19 238.9,45.47 242.03,47.74 245.17,49.99 248.3,52.22 251.44,54.43 254.57,56.62 257.7,58.79 260.84,60.94 263.97,63.07 267.11,65.18 270.24,67.26 273.37,69.32 276.51,71.36 279.64,73.37 282.77,75.36 285.91,77.32 289.04,79.26 292.18,81.16 295.31,83.04 298.44,84.89 301.58,86.71 304.71,88.5 307.84,90.26 310.98,91.97 314.11,93.66 317.25,95.3 320.38,96.91 323.51,98.47 326.65,99.98 329.78,101.45 332.91,102.86 336.05,104.21 339.18,105.49 342.31,106.7 345.45,107.83 348.58,108.84 351.72,109.71 354.85,110.3" fill="none" stroke="#6fc65e" stroke-width="0.5" stroke-linejoin="round" stroke-opacity="0.8"/>
<polyline points="229.5,52.91 232.55,54.77 235.59,56.61 238.64,58.44 241.68,60.25 244.73,62.05 247.77,63.84 250.82,65.61 253.87,67.36 256.91,69.1 259.96,70.82 263,72.52 266.05,74.2 269.09,75.87 272.14,77.52 275.19,79.15 278.23,80.76 281.28,82.35 284.32,83.92 287.37,85.47 290.41,86.99 293.46,88.5 296.51,89.98 299.55,91.43 302.6,92.86 305.64,94.26 308.69,95.64 311.74,96.99 314.78,98.3 317.83,99.59 320.87,100.83 323.92,102.05 326.96,103.22 330.01,104.35 333.06,105.43 336.1,106.46 339.15,107.42 342.19,108.32 345.24,109.13 348.28,109.83 351.33,110.3" fill="none" stroke="#d9546a" stroke-width="0.5" stroke-linejoin="round" stroke-opacity="0.8"/>
<polyline points="229.5,55.44 232.47,57.22 235.43,58.98 238.4,60.73 241.37,62.46 244.33,64.18 247.3,65.89 250.26,67.58 253.23,69.25 256.2,70.91 259.16,72.56 262.13,74.18 265.09,75.79 268.06,77.39 271.03,78.96 273.99,80.52 276.96,82.06 279.93,83.58 282.89,85.08 285.86,86.56 288.82,88.02 291.79,89.46 294.76,90.87 297.72,92.26 300.69,93.63 303.66,94.97 306.62,96.29 309.59,97.57 312.55,98.83 315.52,100.06 318.49,101.25 321.45,102.41 324.42,103.53 327.39,104.61 330.35,105.64 333.32,106.63 336.28,107.55 339.25,108.41 342.22,109.18 345.18,109.85 348.15,110.3" fill="none" stroke="#6fc65e" stroke-width="0.5" stroke-linejoin="round" stroke-opacity="0.8"/>
<polyline points="229.5,63.88 232.48,65.38 235.47,66.87 238.45,68.35 241.43,69.82 244.41,71.28 247.4,72.72 250.38,74.15 253.36,75.57 256.34,76.97 259.32,78.36 262.31,79.74 265.29,81.1 268.27,82.45 271.25,83.78 274.24,85.1 277.22,86.41 280.2,87.69 283.19,88.96 286.17,90.21 289.15,91.45 292.13,92.66 295.12,93.86 298.1,95.04 301.08,96.19 304.06,97.33 307.05,98.44 310.03,99.53 313.01,100.6 315.99,101.63 318.98,102.64 321.96,103.62 324.94,104.57 327.92,105.48 330.9,106.36 333.89,107.19 336.87,107.97 339.85,108.7 342.84,109.36 345.82,109.92 348.8,110.3" fill="none" stroke="#2f8fd8" stroke-width="0.5" stroke-linejoin="round" stroke-opacity="0.8"/>
<polyline points="229.5,70.21 232.45,71.51 235.41,72.8 238.36,74.07 241.31,75.34 244.26,76.6 247.22,77.85 250.17,79.08 253.12,80.3 256.07,81.52 259.02,82.72 261.98,83.91 264.93,85.08 267.88,86.25 270.84,87.4 273.79,88.54 276.74,89.66 279.69,90.77 282.64,91.87 285.6,92.95 288.55,94.02 291.5,95.07 294.46,96.1 297.41,97.12 300.36,98.12 303.31,99.1 306.26,100.06 309.22,101 312.17,101.92 315.12,102.82 318.08,103.69 321.03,104.53 323.98,105.35 326.93,106.14 329.88,106.9 332.84,107.61 335.79,108.29 338.74,108.92 341.7,109.48 344.65,109.97 347.6,110.3" fill="none" stroke="#3ccbd6" stroke-width="0.5" stroke-linejoin="round" stroke-opacity="0.8"/>
<polyline points="229.5,78.65 232.39,79.67 235.29,80.69 238.18,81.7 241.07,82.7 243.97,83.69 246.86,84.68 249.76,85.65 252.65,86.62 255.54,87.58 258.44,88.53 261.33,89.46 264.23,90.39 267.12,91.31 270.01,92.22 272.91,93.12 275.8,94.01 278.69,94.89 281.59,95.75 284.48,96.6 287.38,97.45 290.27,98.28 293.16,99.09 296.06,99.89 298.95,100.68 301.84,101.46 304.74,102.22 307.63,102.96 310.52,103.68 313.42,104.39 316.31,105.08 319.21,105.75 322.1,106.39 324.99,107.02 327.89,107.61 330.78,108.18 333.68,108.71 336.57,109.21 339.46,109.66 342.36,110.04 345.25,110.3" fill="none" stroke="#2f8fd8" stroke-width="0.5" stroke-linejoin="round" stroke-opacity="0.8"/>
<polyline points="229.5,84.98 232.4,85.8 235.3,86.61 238.2,87.42 241.1,88.22 244.01,89.01 246.91,89.8 249.81,90.58 252.71,91.36 255.61,92.12 258.51,92.88 261.41,93.63 264.31,94.37 267.22,95.11 270.12,95.84 273.02,96.56 275.92,97.27 278.82,97.97 281.72,98.66 284.62,99.34 287.52,100.02 290.43,100.68 293.33,101.33 296.23,101.98 299.13,102.61 302.03,103.23 304.93,103.83 307.83,104.43 310.74,105.01 313.64,105.57 316.54,106.12 319.44,106.66 322.34,107.18 325.24,107.67 328.14,108.15 331.04,108.6 333.94,109.03 336.85,109.43 339.75,109.78 342.65,110.09 345.55,110.3" fill="none" stroke="#1a1a1a" stroke-width="0.5" stroke-linejoin="round" stroke-opacity="0.8"/>
<polyline points="229.5,95.53 232.44,95.81 235.39,96.1 238.34,96.39 241.28,96.7 244.22,97.02 247.17,97.34 250.12,97.68 253.06,98.03 256,98.39 258.95,98.77 261.89,99.15 264.84,99.54 267.79,99.95 270.73,100.36 273.68,100.79 276.62,101.22 279.56,101.66 282.51,102.1 285.45,102.55 288.4,103.01 291.35,103.46 294.29,103.92 297.24,104.37 300.18,104.83 303.12,105.28 306.07,105.72 309.01,106.16 311.96,106.58 314.9,107 317.85,107.41 320.8,107.8 323.74,108.17 326.69,108.53 329.63,108.87 332.57,109.19 335.52,109.48 338.47,109.75 341.41,109.98 344.36,110.17 347.3,110.3" fill="none" stroke="#c23cb2" stroke-width="0.5" stroke-linejoin="round" stroke-opacity="0.8"/>
<polyline points="229.5,98.06 232.33,99.13 235.16,100.16 237.98,101.15 240.81,102.08 243.64,102.97 246.47,103.8 249.3,104.57 252.12,105.29 254.95,105.95 257.78,106.56 260.61,107.11 263.44,107.6 266.26,108.03 269.09,108.42 271.92,108.75 274.75,109.03 277.58,109.27 280.4,109.47 283.23,109.62 286.06,109.74 288.89,109.83 291.72,109.89 294.54,109.92 297.37,109.94 300.2,109.94 303.03,109.92 305.86,109.91 308.68,109.88 311.51,109.86 314.34,109.84 317.17,109.83 320,109.83 322.82,109.84 325.65,109.86 328.48,109.9 331.31,109.96 334.14,110.03 336.96,110.12 339.79,110.22 342.62,110.3" fill="none" stroke="#1a1a1a" stroke-width="0.5" stroke-linejoin="round" stroke-opacity="0.8"/>
<polyline points="229.5,99.33 232.42,100 235.34,100.66 238.26,101.29 241.18,101.89 244.1,102.48 247.02,103.03 249.94,103.56 252.86,104.06 255.78,104.53 258.69,104.97 261.61,105.38 264.53,105.76 267.45,106.12 270.37,106.45 273.29,106.76 276.21,107.04 279.13,107.29 282.05,107.53 284.97,107.74 287.89,107.93 290.81,108.11 293.73,108.27 296.65,108.42 299.57,108.56 302.49,108.68 305.41,108.8 308.33,108.91 311.25,109.02 314.17,109.13 317.08,109.23 320,109.33 322.92,109.44 325.84,109.54 328.76,109.65 331.68,109.76 334.6,109.88 337.52,109.99 340.44,110.11 343.36,110.22 346.28,110.3" fill="none" stroke="#d9546a" stroke-width="0.5" stroke-linejoin="round" stroke-opacity="0.8"/>
<polyline points="229.5,100.59 232.35,101.3 235.21,101.98 238.06,102.64 240.92,103.27 243.77,103.86 246.63,104.43 249.48,104.96 252.34,105.45 255.19,105.92 258.05,106.35 260.9,106.74 263.76,107.11 266.61,107.44 269.47,107.73 272.32,108 275.18,108.24 278.03,108.45 280.89,108.63 283.74,108.79 286.6,108.93 289.45,109.05 292.3,109.15 295.16,109.23 298.01,109.31 300.87,109.37 303.72,109.42 306.58,109.47 309.43,109.52 312.29,109.56 315.14,109.61 318,109.66 320.85,109.71 323.71,109.76 326.56,109.83 329.42,109.9 332.27,109.97 335.13,110.06 337.98,110.14 340.84,110.23 343.69,110.3" fill="none" stroke="#3ccbd6" stroke-width="0.5" stroke-linejoin="round" stroke-opacity="0.8"/>
<polyline points="229.5,101.86 232.29,101.8 235.08,101.75 237.87,101.73 240.66,101.72 243.45,101.73 246.24,101.77 249.03,101.83 251.82,101.92 254.61,102.03 257.4,102.16 260.19,102.32 262.98,102.5 265.77,102.71 268.56,102.94 271.35,103.18 274.14,103.45 276.93,103.73 279.72,104.03 282.51,104.35 285.3,104.68 288.09,105.01 290.88,105.36 293.67,105.71 296.46,106.07 299.25,106.42 302.04,106.77 304.83,107.13 307.62,107.47 310.41,107.81 313.2,108.13 315.99,108.44 318.78,108.74 321.57,109.02 324.36,109.28 327.15,109.52 329.94,109.74 332.73,109.93 335.52,110.09 338.31,110.22 341.1,110.3" fill="none" stroke="#6fc65e" stroke-width="0.5" stroke-linejoin="round" stroke-opacity="0.8"/>
<polyline points="229.5,103.13 232.38,103.11 235.26,103.1 238.14,103.11 241.03,103.13 243.91,103.17 246.79,103.23 249.67,103.3 252.55,103.39 255.43,103.5 258.31,103.62 261.2,103.77 264.08,103.93 266.96,104.11 269.84,104.3 272.72,104.51 275.6,104.73 278.49,104.97 281.37,105.22 284.25,105.48 287.13,105.75 290.01,106.02 292.89,106.3 295.77,106.59 298.66,106.87 301.54,107.16 304.42,107.44 307.3,107.73 310.18,108 313.06,108.27 315.94,108.54 318.83,108.79 321.71,109.03 324.59,109.26 327.47,109.47 330.35,109.66 333.23,109.84 336.12,110 339,110.13 341.88,110.23 344.76,110.3" fill="none" stroke="#d9546a" stroke-width="0.5" stroke-linejoin="round" stroke-opacity="0.8"/>
<polyline points="229.5,104.81 232.32,104.43 235.13,104.09 237.95,103.77 240.76,103.49 243.58,103.25 246.4,103.05 249.21,102.89 252.03,102.77 254.84,102.7 257.66,102.66 260.48,102.67 263.29,102.73 266.11,102.82 268.92,102.95 271.74,103.12 274.56,103.32 277.37,103.56 280.19,103.82 283,104.11 285.82,104.43 288.64,104.77 291.45,105.12 294.27,105.49 297.08,105.86 299.9,106.24 302.72,106.63 305.53,107.01 308.35,107.39 311.16,107.75 313.98,108.11 316.8,108.45 319.61,108.77 322.43,109.07 325.24,109.34 328.06,109.58 330.88,109.8 333.69,109.98 336.51,110.13 339.32,110.24 342.14,110.3" fill="none" stroke="#2f8fd8" stroke-width="0.5" stroke-linejoin="round" stroke-opacity="0.8"/>
<polyline points="229.5,106.08 232.34,106.8 235.19,107.49 238.03,108.14 240.88,108.75 243.72,109.32 246.57,109.84 249.41,110.32 252.26,110.75 255.1,111.13 257.95,111.46 260.8,111.75 263.64,111.99 266.49,112.18 269.33,112.33 272.18,112.44 275.02,112.5 277.87,112.53 280.71,112.53 283.56,112.49 286.4,112.42 289.25,112.33 292.09,112.21 294.94,112.08 297.78,111.94 300.62,111.78 303.47,111.61 306.31,111.45 309.16,111.28 312,111.12 314.85,110.96 317.69,110.81 320.54,110.68 323.38,110.56 326.23,110.46 329.08,110.38 331.92,110.33 334.76,110.29 337.61,110.27 340.46,110.28 343.3,110.3" fill="none" stroke="#1a1a1a" stroke-width="0.5" stroke-linejoin="round" stroke-opacity="0.8"/>
<polyline points="229.5,107.35 232.25,107.55 235,107.75 237.75,107.94 240.5,108.13 243.25,108.3 245.99,108.47 248.74,108.62 251.49,108.77 254.24,108.91 256.99,109.04 259.74,109.15 262.49,109.26 265.24,109.36 267.99,109.45 270.74,109.53 273.48,109.61 276.23,109.67 278.98,109.73 281.73,109.78 284.48,109.83 287.23,109.86 289.98,109.9 292.73,109.93 295.48,109.95 298.23,109.98 300.97,110 303.72,110.02 306.47,110.03 309.22,110.05 311.97,110.07 314.72,110.09 317.47,110.11 320.22,110.13 322.97,110.15 325.71,110.17 328.46,110.2 331.21,110.22 333.96,110.25 336.71,110.28 339.46,110.3" fill="none" stroke="#c23cb2" stroke-width="0.5" stroke-linejoin="round" stroke-opacity="0.8"/>
<polyline points="229.5,108.61 232.31,109.33 235.12,110.02 237.93,110.66 240.74,111.26 243.55,111.8 246.36,112.3 249.16,112.75 251.97,113.14 254.78,113.48 257.59,113.77 260.4,114 263.21,114.18 266.02,114.31 268.83,114.39 271.64,114.43 274.45,114.41 277.26,114.36 280.07,114.27 282.88,114.14 285.69,113.98 288.49,113.79 291.3,113.58 294.11,113.35 296.92,113.11 299.73,112.85 302.54,112.59 305.35,112.33 308.16,112.07 310.97,111.81 313.78,111.56 316.59,111.33 319.4,111.12 322.21,110.92 325.01,110.75 327.82,110.6 330.63,110.49 333.44,110.39 336.25,110.33 339.06,110.3 341.87,110.3" fill="none" stroke="#3ccbd6" stroke-width="0.5" stroke-linejoin="round" stroke-opacity="0.8"/>
<polyline points="229.5,109.88 232.21,110.29 234.93,110.68 237.64,111.05 240.35,111.38 243.07,111.69 245.78,111.97 248.49,112.22 251.21,112.44 253.92,112.63 256.63,112.78 259.35,112.9 262.06,112.99 264.77,113.05 267.49,113.08 270.2,113.09 272.91,113.06 275.63,113.02 278.34,112.94 281.05,112.85 283.76,112.74 286.48,112.61 289.19,112.47 291.9,112.32 294.62,112.16 297.33,111.99 300.04,111.82 302.76,111.65 305.47,111.48 308.18,111.31 310.9,111.15 313.61,111 316.32,110.86 319.04,110.73 321.75,110.62 324.46,110.52 327.18,110.44 329.89,110.38 332.6,110.33 335.32,110.31 338.03,110.3" fill="none" stroke="#6fc65e" stroke-width="0.5" stroke-linejoin="round" stroke-opacity="0.8"/>
<polyline points="229.5,111.14 232.31,111.11 235.12,111.07 237.92,111.04 240.73,111.01 243.54,110.98 246.35,110.94 249.15,110.91 251.96,110.88 254.77,110.86 257.58,110.83 260.39,110.8 263.19,110.77 266,110.75 268.81,110.72 271.62,110.7 274.42,110.68 277.23,110.66 280.04,110.63 282.85,110.61 285.65,110.59 288.46,110.57 291.27,110.55 294.08,110.54 296.89,110.52 299.69,110.5 302.5,110.48 305.31,110.47 308.12,110.45 310.92,110.44 313.73,110.42 316.54,110.41 319.35,110.39 322.16,110.38 324.96,110.36 327.77,110.35 330.58,110.34 333.39,110.33 336.19,110.32 339,110.31 341.81,110.3" fill="none" stroke="#d9546a" stroke-width="0.5" stroke-linejoin="round" stroke-opacity="0.8"/>
<polyline points="229.5,112.41 232.25,113.01 235,113.58 237.74,114.1 240.49,114.58 243.24,115.02 245.98,115.4 248.73,115.73 251.48,116.01 254.23,116.24 256.98,116.41 259.72,116.54 262.47,116.61 265.22,116.63 267.96,116.6 270.71,116.52 273.46,116.4 276.21,116.24 278.95,116.05 281.7,115.81 284.45,115.55 287.2,115.26 289.94,114.95 292.69,114.63 295.44,114.29 298.19,113.94 300.94,113.58 303.68,113.23 306.43,112.87 309.18,112.53 311.92,112.2 314.67,111.89 317.42,111.59 320.17,111.32 322.91,111.08 325.66,110.86 328.41,110.68 331.16,110.53 333.9,110.41 336.65,110.33 339.4,110.3" fill="none" stroke="#1a1a1a" stroke-width="0.5" stroke-linejoin="round" stroke-opacity="0.8"/>
<polyline points="229.5,113.68 232.34,113.99 235.19,114.29 238.03,114.56 240.87,114.8 243.72,115.01 246.56,115.19 249.4,115.34 252.25,115.46 255.09,115.54 257.94,115.59 260.78,115.61 263.62,115.59 266.47,115.54 269.31,115.47 272.15,115.36 275,115.23 277.84,115.07 280.68,114.89 283.53,114.69 286.37,114.47 289.21,114.23 292.06,113.98 294.9,113.72 297.74,113.45 300.59,113.18 303.43,112.91 306.27,112.63 309.12,112.36 311.96,112.1 314.81,111.85 317.65,111.6 320.49,111.37 323.34,111.16 326.18,110.97 329.02,110.79 331.87,110.64 334.71,110.51 337.55,110.41 340.4,110.34 343.24,110.3" fill="none" stroke="#2f8fd8" stroke-width="0.5" stroke-linejoin="round" stroke-opacity="0.8"/>
<polyline points="229.5,114.94 232.28,114.58 235.07,114.23 237.85,113.89 240.63,113.57 243.42,113.27 246.2,112.98 248.98,112.72 251.77,112.46 254.55,112.23 257.33,112.02 260.12,111.82 262.9,111.64 265.68,111.48 268.47,111.34 271.25,111.21 274.03,111.1 276.82,111 279.6,110.92 282.38,110.85 285.16,110.79 287.95,110.75 290.73,110.71 293.51,110.68 296.3,110.65 299.08,110.63 301.86,110.62 304.65,110.61 307.43,110.59 310.21,110.58 313,110.57 315.78,110.56 318.56,110.55 321.35,110.53 324.13,110.5 326.91,110.48 329.7,110.45 332.48,110.41 335.26,110.37 338.05,110.33 340.83,110.3" fill="none" stroke="#c23cb2" stroke-width="0.5" stroke-linejoin="round" stroke-opacity="0.8"/>
<polyline points="229.5,116.21 232.38,115.95 235.26,115.7 238.14,115.46 241.02,115.22 243.9,114.99 246.78,114.76 249.65,114.54 252.53,114.33 255.41,114.12 258.29,113.92 261.17,113.73 264.05,113.54 266.93,113.36 269.81,113.19 272.69,113.03 275.57,112.86 278.45,112.71 281.33,112.56 284.21,112.42 287.09,112.28 289.96,112.15 292.84,112.02 295.72,111.9 298.6,111.78 301.48,111.66 304.36,111.55 307.24,111.44 310.12,111.33 313,111.23 315.88,111.13 318.76,111.03 321.64,110.93 324.52,110.84 327.39,110.74 330.27,110.66 333.15,110.57 336.03,110.49 338.91,110.41 341.79,110.35 344.67,110.3" fill="none" stroke="#3ccbd6" stroke-width="0.5" stroke-linejoin="round" stroke-opacity="0.8"/>
<polyline points="229.5,117.47 232.32,117.64 235.14,117.78 237.96,117.9 240.78,118 243.59,118.07 246.41,118.11 249.23,118.12 252.05,118.11 254.87,118.06 257.69,117.99 260.51,117.88 263.33,117.75 266.15,117.59 268.97,117.4 271.78,117.19 274.6,116.95 277.42,116.7 280.24,116.42 283.06,116.12 285.88,115.81 288.7,115.48 291.52,115.15 294.34,114.8 297.16,114.45 299.98,114.1 302.79,113.75 305.61,113.4 308.43,113.06 311.25,112.72 314.07,112.4 316.89,112.09 319.71,111.8 322.53,111.52 325.35,111.26 328.16,111.03 330.98,110.82 333.8,110.64 336.62,110.49 339.44,110.37 342.26,110.3" fill="none" stroke="#1a1a1a" stroke-width="0.5" stroke-linejoin="round" stroke-opacity="0.8"/>
<polyline points="229.5,118.74 232.26,118.34 235.02,117.95 237.78,117.57 240.53,117.2 243.29,116.84 246.05,116.49 248.81,116.16 251.57,115.84 254.33,115.53 257.09,115.23 259.85,114.94 262.61,114.67 265.36,114.41 268.12,114.16 270.88,113.92 273.64,113.7 276.4,113.48 279.16,113.28 281.92,113.08 284.68,112.9 287.43,112.72 290.19,112.55 292.95,112.39 295.71,112.23 298.47,112.08 301.23,111.94 303.99,111.8 306.75,111.66 309.5,111.53 312.26,111.4 315.02,111.27 317.78,111.15 320.54,111.02 323.3,110.9 326.06,110.79 328.82,110.67 331.57,110.56 334.33,110.46 337.09,110.37 339.85,110.3" fill="none" stroke="#6fc65e" stroke-width="0.5" stroke-linejoin="round" stroke-opacity="0.8"/>
<polyline points="229.5,120.01 232.42,119.25 235.33,118.53 238.25,117.83 241.17,117.17 244.09,116.54 247,115.94 249.92,115.38 252.84,114.86 255.76,114.38 258.67,113.93 261.59,113.52 264.51,113.15 267.42,112.82 270.34,112.52 273.26,112.25 276.18,112.02 279.09,111.81 282.01,111.64 284.93,111.49 287.85,111.37 290.76,111.27 293.68,111.18 296.6,111.12 299.51,111.06 302.43,111.02 305.35,110.99 308.27,110.96 311.18,110.93 314.1,110.91 317.02,110.89 319.93,110.86 322.85,110.82 325.77,110.78 328.69,110.73 331.6,110.68 334.52,110.61 337.44,110.53 340.36,110.45 343.27,110.37 346.19,110.3" fill="none" stroke="#2f8fd8" stroke-width="0.5" stroke-linejoin="round" stroke-opacity="0.8"/>
<polyline points="229.5,121.27 232.36,121.62 235.21,121.93 238.07,122.19 240.93,122.42 243.78,122.59 246.64,122.72 249.5,122.79 252.36,122.82 255.21,122.79 258.07,122.71 260.93,122.57 263.78,122.39 266.64,122.16 269.5,121.87 272.36,121.55 275.21,121.18 278.07,120.77 280.93,120.32 283.78,119.84 286.64,119.34 289.5,118.81 292.35,118.26 295.21,117.69 298.07,117.12 300.92,116.54 303.78,115.96 306.64,115.38 309.5,114.82 312.35,114.26 315.21,113.73 318.07,113.22 320.92,112.73 323.78,112.28 326.64,111.86 329.5,111.47 332.35,111.13 335.21,110.84 338.07,110.6 340.92,110.41 343.78,110.3" fill="none" stroke="#d9546a" stroke-width="0.5" stroke-linejoin="round" stroke-opacity="0.8"/>
<polyline points="229.5,122.54 232.3,121.71 235.09,120.9 237.89,120.13 240.69,119.39 243.48,118.69 246.28,118.02 249.08,117.38 251.87,116.79 254.67,116.23 257.47,115.71 260.26,115.23 263.06,114.78 265.86,114.37 268.65,114 271.45,113.66 274.25,113.36 277.04,113.09 279.84,112.84 282.64,112.62 285.44,112.43 288.23,112.26 291.03,112.11 293.83,111.98 296.62,111.86 299.42,111.75 302.22,111.66 305.01,111.57 307.81,111.48 310.61,111.4 313.4,111.31 316.2,111.23 319,111.14 321.79,111.05 324.59,110.95 327.39,110.85 330.18,110.74 332.98,110.62 335.78,110.5 338.57,110.39 341.37,110.3" fill="none" stroke="#3ccbd6" stroke-width="0.5" stroke-linejoin="round" stroke-opacity="0.8"/>
<polyline points="229.5,124.23 232.42,123.49 235.35,122.78 238.27,122.09 241.2,121.42 244.12,120.77 247.05,120.15 249.97,119.56 252.9,118.99 255.82,118.45 258.75,117.93 261.67,117.44 264.6,116.98 267.52,116.54 270.45,116.12 273.37,115.73 276.3,115.37 279.22,115.03 282.15,114.7 285.07,114.4 288,114.12 290.92,113.85 293.84,113.6 296.77,113.36 299.69,113.13 302.62,112.92 305.54,112.71 308.47,112.51 311.39,112.32 314.32,112.13 317.24,111.95 320.17,111.77 323.09,111.59 326.02,111.41 328.94,111.23 331.87,111.06 334.79,110.88 337.72,110.72 340.64,110.55 343.57,110.41 346.49,110.3" fill="none" stroke="#1a1a1a" stroke-width="0.5" stroke-linejoin="round" stroke-opacity="0.8"/>
<polyline points="229.5,125.91 232.33,125.64 235.17,125.35 238,125.05 240.84,124.74 243.67,124.42 246.5,124.08 249.34,123.74 252.17,123.38 255.01,123 257.84,122.62 260.67,122.21 263.51,121.8 266.34,121.37 269.18,120.94 272.01,120.49 274.84,120.03 277.68,119.56 280.51,119.09 283.35,118.61 286.18,118.12 289.01,117.64 291.85,117.15 294.68,116.66 297.52,116.17 300.35,115.69 303.18,115.21 306.02,114.74 308.85,114.28 311.69,113.84 314.52,113.4 317.35,112.98 320.19,112.58 323.02,112.19 325.86,111.83 328.69,111.49 331.52,111.17 334.36,110.89 337.19,110.64 340.03,110.43 342.86,110.3" fill="none" stroke="#c23cb2" stroke-width="0.5" stroke-linejoin="round" stroke-opacity="0.8"/>
<polyline points="229.5,134.78 232.41,133.98 235.32,133.2 238.24,132.42 241.15,131.64 244.06,130.88 246.97,130.11 249.89,129.36 252.8,128.61 255.71,127.87 258.62,127.14 261.53,126.41 264.45,125.69 267.36,124.98 270.27,124.28 273.18,123.59 276.1,122.9 279.01,122.22 281.92,121.55 284.83,120.89 287.75,120.24 290.66,119.6 293.57,118.97 296.48,118.35 299.39,117.74 302.31,117.14 305.22,116.55 308.13,115.98 311.04,115.42 313.96,114.87 316.87,114.34 319.78,113.82 322.69,113.32 325.6,112.84 328.52,112.38 331.43,111.94 334.34,111.53 337.25,111.14 340.17,110.8 343.08,110.5 345.99,110.3" fill="none" stroke="#2f8fd8" stroke-width="0.5" stroke-linejoin="round" stroke-opacity="0.8"/>
<polyline points="229.5,136.46 232.45,135.62 235.39,134.78 238.34,133.94 241.29,133.11 244.23,132.29 247.18,131.48 250.13,130.67 253.07,129.88 256.02,129.08 258.97,128.3 261.91,127.52 264.86,126.76 267.8,126 270.75,125.24 273.7,124.5 276.64,123.77 279.59,123.04 282.54,122.33 285.48,121.62 288.43,120.93 291.38,120.24 294.32,119.57 297.27,118.9 300.22,118.25 303.16,117.61 306.11,116.98 309.06,116.37 312,115.77 314.95,115.18 317.89,114.62 320.84,114.06 323.79,113.53 326.73,113.01 329.68,112.52 332.63,112.05 335.57,111.61 338.52,111.2 341.47,110.83 344.41,110.52 347.36,110.3" fill="none" stroke="#3ccbd6" stroke-width="0.5" stroke-linejoin="round" stroke-opacity="0.8"/>
<polyline points="229.5,148.28 232.47,147.05 235.44,145.83 238.4,144.62 241.37,143.42 244.34,142.23 247.31,141.05 250.27,139.88 253.24,138.72 256.21,137.57 259.18,136.43 262.14,135.3 265.11,134.19 268.08,133.09 271.05,131.99 274.01,130.92 276.98,129.85 279.95,128.8 282.92,127.76 285.88,126.73 288.85,125.72 291.82,124.73 294.78,123.75 297.75,122.79 300.72,121.84 303.69,120.91 306.65,120 309.62,119.11 312.59,118.24 315.56,117.39 318.52,116.56 321.49,115.76 324.46,114.99 327.43,114.24 330.39,113.52 333.36,112.84 336.33,112.2 339.3,111.61 342.26,111.07 345.23,110.61 348.2,110.3" fill="none" stroke="#c23cb2" stroke-width="0.5" stroke-linejoin="round" stroke-opacity="0.8"/>
<polyline points="229.5,154.61 232.51,153.18 235.52,151.75 238.53,150.34 241.54,148.94 244.55,147.55 247.56,146.17 250.57,144.81 253.58,143.45 256.59,142.11 259.6,140.78 262.61,139.47 265.62,138.17 268.63,136.88 271.64,135.61 274.65,134.35 277.66,133.11 280.67,131.88 283.68,130.67 286.69,129.47 289.7,128.3 292.71,127.13 295.72,125.99 298.73,124.87 301.74,123.76 304.75,122.68 307.76,121.62 310.77,120.58 313.78,119.56 316.79,118.57 319.8,117.61 322.81,116.67 325.82,115.77 328.83,114.9 331.84,114.06 334.85,113.27 337.86,112.52 340.87,111.83 343.88,111.2 346.89,110.67 349.9,110.3" fill="none" stroke="#6fc65e" stroke-width="0.5" stroke-linejoin="round" stroke-opacity="0.8"/>
<polyline points="229.5,156.72 232.5,155.22 235.5,153.73 238.5,152.25 241.5,150.78 244.51,149.32 247.51,147.88 250.51,146.45 253.51,145.03 256.51,143.63 259.51,142.24 262.51,140.86 265.51,139.5 268.52,138.15 271.52,136.82 274.52,135.5 277.52,134.19 280.52,132.91 283.52,131.64 286.52,130.39 289.52,129.15 292.53,127.94 295.53,126.74 298.53,125.56 301.53,124.41 304.53,123.27 307.53,122.16 310.53,121.07 313.54,120 316.54,118.97 319.54,117.96 322.54,116.98 325.54,116.03 328.54,115.12 331.54,114.24 334.54,113.41 337.55,112.63 340.55,111.9 343.55,111.24 346.55,110.68 349.55,110.3" fill="none" stroke="#1a1a1a" stroke-width="0.5" stroke-linejoin="round" stroke-opacity="0.8"/>
<polyline points="229.5,160.94 232.47,159.3 235.44,157.67 238.41,156.06 241.38,154.46 244.36,152.87 247.33,151.3 250.3,149.74 253.27,148.19 256.24,146.66 259.21,145.14 262.18,143.64 265.16,142.15 268.13,140.68 271.1,139.23 274.07,137.79 277.04,136.37 280.01,134.96 282.98,133.58 285.95,132.21 288.93,130.87 291.9,129.54 294.87,128.23 297.84,126.95 300.81,125.69 303.78,124.45 306.75,123.24 309.72,122.05 312.7,120.89 315.67,119.75 318.64,118.65 321.61,117.58 324.58,116.55 327.55,115.55 330.52,114.6 333.49,113.69 336.47,112.84 339.44,112.05 342.41,111.33 345.38,110.72 348.35,110.3" fill="none" stroke="#2f8fd8" stroke-width="0.5" stroke-linejoin="round" stroke-opacity="0.8"/>
<polyline points="229.5,171.49 232.6,169.51 235.71,167.54 238.81,165.59 241.91,163.66 245.01,161.74 248.12,159.84 251.22,157.95 254.32,156.08 257.42,154.23 260.52,152.4 263.63,150.58 266.73,148.79 269.83,147.01 272.94,145.25 276.04,143.51 279.14,141.8 282.24,140.1 285.35,138.43 288.45,136.78 291.55,135.15 294.65,133.55 297.75,131.97 300.86,130.42 303.96,128.89 307.06,127.4 310.17,125.93 313.27,124.49 316.37,123.09 319.47,121.72 322.58,120.39 325.68,119.1 328.78,117.85 331.88,116.65 334.99,115.5 338.09,114.4 341.19,113.37 344.29,112.41 347.4,111.55 350.5,110.81 353.6,110.3" fill="none" stroke="#6fc65e" stroke-width="0.5" stroke-linejoin="round" stroke-opacity="0.8"/>
<polyline points="347,108.19 348.52,108.3 350.05,108.4 351.57,108.51 353.1,108.61 354.62,108.72 356.15,108.82 357.68,108.93 359.2,109.03 360.73,109.14 362.25,109.24 363.77,109.35 365.3,109.46 366.82,109.56 368.35,109.67 369.88,109.77 371.4,109.88 372.93,109.98 374.45,110.09 375.98,110.19 377.5,110.3" fill="none" stroke="#DF536B" stroke-width="0.55" stroke-linejoin="round" stroke-opacity="0.8"/>
<polyline points="347,111.78 348.52,111.7 350.05,111.63 351.57,111.56 353.1,111.48 354.62,111.41 356.15,111.33 357.68,111.26 359.2,111.19 360.73,111.11 362.25,111.04 363.77,110.96 365.3,110.89 366.82,110.82 368.35,110.74 369.88,110.67 371.4,110.6 372.93,110.52 374.45,110.45 375.98,110.37 377.5,110.3" fill="none" stroke="#28E2E5" stroke-width="0.55" stroke-linejoin="round" stroke-opacity="0.8"/>
<polyline points="347,109.24 348.52,109.3 350.05,109.35 351.57,109.4 353.1,109.46 354.62,109.51 356.15,109.56 357.68,109.61 359.2,109.67 360.73,109.72 362.25,109.77 363.77,109.83 365.3,109.88 366.82,109.93 368.35,109.98 369.88,110.04 371.4,110.09 372.93,110.14 374.45,110.19 375.98,110.25 377.5,110.3" fill="none" stroke="#CD0BBC" stroke-width="0.55" stroke-linejoin="round" stroke-opacity="0.8"/>
<polyline points="347,110.93 348.52,110.9 350.05,110.87 351.57,110.84 353.1,110.81 354.62,110.77 356.15,110.74 357.68,110.71 359.2,110.68 360.73,110.65 362.25,110.62 363.77,110.58 365.3,110.55 366.82,110.52 368.35,110.49 369.88,110.46 371.4,110.43 372.93,110.39 374.45,110.36 375.98,110.33 377.5,110.3" fill="none" stroke="#000000" stroke-width="0.55" stroke-linejoin="round" stroke-opacity="0.8"/>
<text x="227.3" y="38.56" font-size="2.4" fill="#444" text-anchor="middle">40</text>
<text x="227.3" y="52.91" font-size="2.4" fill="#444" text-anchor="middle">16</text>
<text x="227.3" y="55.44" font-size="2.4" fill="#444" text-anchor="middle">12</text>
<text x="227.3" y="63.88" font-size="2.4" fill="#444" text-anchor="middle">38</text>
<text x="227.3" y="70.21" font-size="2.4" fill="#444" text-anchor="middle">27</text>
<text x="227.3" y="78.65" font-size="2.4" fill="#444" text-anchor="middle">13</text>
<text x="227.3" y="84.98" font-size="2.4" fill="#444" text-anchor="middle">3</text>
<text x="227.3" y="95.53" font-size="2.4" fill="#444" text-anchor="middle">25</text>
<text x="227.3" y="98.06" font-size="2.4" fill="#444" text-anchor="middle">21</text>
<text x="227.3" y="99.33" font-size="2.4" fill="#444" text-anchor="middle">19</text>
<text x="227.3" y="100.59" font-size="2.4" fill="#444" text-anchor="middle">17</text>
<text x="227.3" y="101.86" font-size="2.4" fill="#444" text-anchor="middle">15</text>
<text x="227.3" y="103.13" font-size="2.4" fill="#444" text-anchor="middle">12</text>
<text x="227.3" y="104.81" font-size="2.4" fill="#444" text-anchor="middle">10</text>
<text x="227.3" y="106.08" font-size="2.4" fill="#444" text-anchor="middle">8</text>
<text x="227.3" y="107.35" font-size="2.4" fill="#444" text-anchor="middle">5</text>
<text x="227.3" y="108.61" font-size="2.4" fill="#444" text-anchor="middle">3</text>
<text x="227.3" y="109.88" font-size="2.4" fill="#444" text-anchor="middle">1</text>
<text x="227.3" y="111.14" font-size="2.4" fill="#444" text-anchor="middle">2</text>
<text x="227.3" y="112.41" font-size="2.4" fill="#444" text-anchor="middle">4</text>
<text x="227.3" y="113.68" font-size="2.4" fill="#444" text-anchor="middle">6</text>
<text x="227.3" y="114.94" font-size="2.4" fill="#444" text-anchor="middle">8</text>
<text x="227.3" y="116.21" font-size="2.4" fill="#444" text-anchor="middle">10</text>
<text x="227.3" y="117.47" font-size="2.4" fill="#444" text-anchor="middle">12</text>
<text x="227.3" y="118.74" font-size="2.4" fill="#444" text-anchor="middle">15</text>
<text x="227.3" y="120.01" font-size="2.4" fill="#444" text-anchor="middle">17</text>
<text x="227.3" y="121.27" font-size="2.4" fill="#444" text-anchor="middle">19</text>
<text x="227.3" y="122.54" font-size="2.4" fill="#444" text-anchor="middle">21</text>
<text x="227.3" y="124.23" font-size="2.4" fill="#444" text-anchor="middle">24</text>
<text x="227.3" y="125.91" font-size="2.4" fill="#444" text-anchor="middle">26</text>
<text x="227.3" y="134.78" font-size="2.4" fill="#444" text-anchor="middle">1</text>
<text x="227.3" y="136.46" font-size="2.4" fill="#444" text-anchor="middle">4</text>
<text x="227.3" y="148.28" font-size="2.4" fill="#444" text-anchor="middle">24</text>
<text x="227.3" y="154.61" font-size="2.4" fill="#444" text-anchor="middle">34</text>
<text x="227.3" y="156.72" font-size="2.4" fill="#444" text-anchor="middle">38</text>
<text x="227.3" y="160.94" font-size="2.4" fill="#444" text-anchor="middle">5</text>
<text x="227.3" y="171.49" font-size="2.4" fill="#444" text-anchor="middle">22</text>
<text x="546.5" y="26.8" font-size="6.2" fill="#111" text-anchor="middle">Hazard ratio</text>
<rect x="421.75" y="40.1" width="249.75" height="43.5" fill="#c2bdb9" stroke="none" stroke-width="1"/>
<rect x="421.75" y="127" width="249.75" height="43.2" fill="#c2bdb9" stroke="none" stroke-width="1"/>
<line x1="489.3" y1="36" x2="489.3" y2="172" stroke="rgba(0,0,0,0.07)" stroke-width="0.6"/>
<text x="489.3" y="181.3" font-size="4.6" fill="#111" text-anchor="middle">0.1</text>
<line x1="520.91" y1="36" x2="520.91" y2="172" stroke="rgba(0,0,0,0.07)" stroke-width="0.6"/>
<text x="520.91" y="181.3" font-size="4.6" fill="#111" text-anchor="middle">0.2</text>
<line x1="562.69" y1="36" x2="562.69" y2="172" stroke="rgba(0,0,0,0.07)" stroke-width="0.6"/>
<text x="562.69" y="181.3" font-size="4.6" fill="#111" text-anchor="middle">0.5</text>
<text x="594.3" y="181.3" font-size="4.6" fill="#111" text-anchor="middle">1</text>
<line x1="625.91" y1="36" x2="625.91" y2="172" stroke="rgba(0,0,0,0.07)" stroke-width="0.6"/>
<text x="625.91" y="181.3" font-size="4.6" fill="#111" text-anchor="middle">2</text>
<line x1="594.3" y1="36" x2="594.3" y2="172" stroke="#555" stroke-width="0.6" stroke-dasharray="1,1"/>
<text x="426.5" y="62" font-size="4.3" fill="#111" font-weight="bold">FLNC</text>
<text x="477" y="62" font-size="4" fill="#111" font-style="italic">(N=305)</text>
<text x="521" y="60.2" font-size="4.3" fill="#111" text-anchor="middle">2.01</text>
<text x="521" y="63.8" font-size="4.3" fill="#111" text-anchor="middle">(1.09 - 3.70)</text>
<line x1="598.23" y1="62" x2="653.96" y2="62" stroke="#333" stroke-width="0.8"/>
<line x1="598.23" y1="59.4" x2="598.23" y2="64.6" stroke="#333" stroke-width="0.8"/>
<line x1="653.96" y1="59.4" x2="653.96" y2="64.6" stroke="#333" stroke-width="0.8"/>
<rect x="623.64" y="59.5" width="5" height="5" fill="#000" stroke="none" stroke-width="1"/>
<text x="668.5" y="62" font-size="4" fill="#111" text-anchor="end" font-style="italic">0.026 *</text>
<text x="426.5" y="105" font-size="4.3" fill="#111" font-weight="bold">IL18</text>
<text x="477" y="105" font-size="4" fill="#111" font-style="italic">(N=305)</text>
<text x="521" y="103.2" font-size="4.3" fill="#111" text-anchor="middle">0.46</text>
<text x="521" y="106.8" font-size="4.3" fill="#111" text-anchor="middle">(0.29 - 0.77)</text>
<line x1="537.85" y1="105" x2="582.38" y2="105" stroke="#333" stroke-width="0.8"/>
<line x1="537.85" y1="102.4" x2="537.85" y2="107.6" stroke="#333" stroke-width="0.8"/>
<line x1="582.38" y1="102.4" x2="582.38" y2="107.6" stroke="#333" stroke-width="0.8"/>
<rect x="556.39" y="102.5" width="5" height="5" fill="#000" stroke="none" stroke-width="1"/>
<text x="668.5" y="105" font-size="4" fill="#111" text-anchor="end" font-style="italic">0.002 **</text>
<text x="426.5" y="148.6" font-size="4.3" fill="#111" font-weight="bold">MMP17</text>
<text x="477" y="148.6" font-size="4" fill="#111" font-style="italic">(N=305)</text>
<text x="521" y="146.8" font-size="4.3" fill="#111" text-anchor="middle">1.44</text>
<text x="521" y="150.4" font-size="4.3" fill="#111" text-anchor="middle">(1.00 - 2.07)</text>
<line x1="594.3" y1="148.6" x2="627.48" y2="148.6" stroke="#333" stroke-width="0.8"/>
<line x1="594.3" y1="146" x2="594.3" y2="151.2" stroke="#333" stroke-width="0.8"/>
<line x1="627.48" y1="146" x2="627.48" y2="151.2" stroke="#333" stroke-width="0.8"/>
<rect x="608.43" y="146.1" width="5" height="5" fill="#000" stroke="none" stroke-width="1"/>
<text x="668.5" y="148.6" font-size="4" fill="#111" text-anchor="end" font-style="italic">0.046 *</text>
<text x="421.8" y="172.5" font-size="4.3" fill="#111" font-style="italic"># Events: 12; Global p-value (Log-Rank): 0.00021023</text>
<text x="421.8" y="178" font-size="4.3" fill="#111" font-style="italic">AIC: 104.14; Concordance Index: 0.86</text>
<rect x="20.1" y="217.3" width="205.5" height="60.2" fill="none" stroke="#bdbdbd" stroke-width="1"/>
<line x1="122.8" y1="217.3" x2="122.8" y2="277.5" stroke="#aaa" stroke-width="0.5" stroke-dasharray="1.2,1"/>
<line x1="20.1" y1="274.4" x2="225.6" y2="274.4" stroke="#bbb" stroke-width="0.5" stroke-dasharray="1.2,1"/>
<line x1="17.3" y1="275.4" x2="20.1" y2="275.4" stroke="#999" stroke-width="0.6"/>
<text x="13.6" y="275.4" font-size="4" fill="#151515" text-anchor="middle" transform="rotate(-90 13.6 275.4)">0</text>
<line x1="17.3" y1="263.3" x2="20.1" y2="263.3" stroke="#999" stroke-width="0.6"/>
<text x="13.6" y="263.3" font-size="4" fill="#151515" text-anchor="middle" transform="rotate(-90 13.6 263.3)">10</text>
<line x1="17.3" y1="251.4" x2="20.1" y2="251.4" stroke="#999" stroke-width="0.6"/>
<text x="13.6" y="251.4" font-size="4" fill="#151515" text-anchor="middle" transform="rotate(-90 13.6 251.4)">20</text>
<line x1="17.3" y1="239.4" x2="20.1" y2="239.4" stroke="#999" stroke-width="0.6"/>
<text x="13.6" y="239.4" font-size="4" fill="#151515" text-anchor="middle" transform="rotate(-90 13.6 239.4)">30</text>
<line x1="17.3" y1="227.4" x2="20.1" y2="227.4" stroke="#999" stroke-width="0.6"/>
<text x="13.6" y="227.4" font-size="4" fill="#151515" text-anchor="middle" transform="rotate(-90 13.6 227.4)">40</text>
<text x="6.6" y="247.3" font-size="4.2" fill="#151515" text-anchor="middle" transform="rotate(-90 6.6 247.3)">Risk score</text>
<line x1="27.6" y1="277.5" x2="27.6" y2="280" stroke="#999" stroke-width="0.6"/>
<text x="27.6" y="283.6" font-size="4" fill="#151515" text-anchor="middle">0</text>
<line x1="58.73" y1="277.5" x2="58.73" y2="280" stroke="#999" stroke-width="0.6"/>
<text x="58.73" y="283.6" font-size="4" fill="#151515" text-anchor="middle">50</text>
<line x1="89.85" y1="277.5" x2="89.85" y2="280" stroke="#999" stroke-width="0.6"/>
<text x="89.85" y="283.6" font-size="4" fill="#151515" text-anchor="middle">100</text>
<line x1="120.98" y1="277.5" x2="120.98" y2="280" stroke="#999" stroke-width="0.6"/>
<text x="120.98" y="283.6" font-size="4" fill="#151515" text-anchor="middle">150</text>
<line x1="152.1" y1="277.5" x2="152.1" y2="280" stroke="#999" stroke-width="0.6"/>
<text x="152.1" y="283.6" font-size="4" fill="#151515" text-anchor="middle">200</text>
<line x1="183.22" y1="277.5" x2="183.22" y2="280" stroke="#999" stroke-width="0.6"/>
<text x="183.22" y="283.6" font-size="4" fill="#151515" text-anchor="middle">250</text>
<line x1="214.35" y1="277.5" x2="214.35" y2="280" stroke="#999" stroke-width="0.6"/>
<text x="214.35" y="283.6" font-size="4" fill="#151515" text-anchor="middle">300</text>
<text x="122.8" y="290.4" font-size="4.2" fill="#151515" text-anchor="middle">Patients (increasing risk score)</text>
<polyline points="28.22,275.4 28.85,275.39 29.47,275.39 30.09,275.38 30.71,275.38 31.34,275.37 31.96,275.36 32.58,275.36 33.2,275.35 33.83,275.34 34.45,275.34 35.07,275.33 35.69,275.33 36.31,275.32 36.94,275.31 37.56,275.31 38.18,275.3 38.81,275.3 39.43,275.29 40.05,275.28 40.67,275.28 41.3,275.27 41.92,275.27 42.54,275.26 43.16,275.25 43.79,275.25 44.41,275.24 45.03,275.23 45.65,275.23 46.28,275.22 46.9,275.22 47.52,275.21 48.14,275.2 48.77,275.2 49.39,275.19 50.01,275.19 50.63,275.18 51.26,275.17 51.88,275.17 52.5,275.16 53.12,275.16 53.75,275.15 54.37,275.14 54.99,275.14 55.61,275.13 56.23,275.12 56.86,275.12 57.48,275.11 58.1,275.11 58.73,275.1 59.35,275.09 59.97,275.09 60.59,275.08 61.22,275.08 61.84,275.07 62.46,275.06 63.08,275.06 63.71,275.05 64.33,275.05 64.95,275.04 65.57,275.03 66.2,275.03 66.82,275.02 67.44,275.02 68.06,275.01 68.69,275 69.31,275 69.93,274.99 70.55,274.99 71.18,274.98 71.8,274.97 72.42,274.97 73.04,274.96 73.67,274.96 74.29,274.95 74.91,274.94 75.53,274.94 76.16,274.93 76.78,274.93 77.4,274.92 78.02,274.91 78.65,274.91 79.27,274.9 79.89,274.9 80.51,274.89 81.14,274.88 81.76,274.88 82.38,274.87 83,274.87 83.62,274.86 84.25,274.85 84.87,274.85 85.49,274.84 86.12,274.84 86.74,274.83 87.36,274.82 87.98,274.82 88.61,274.81 89.23,274.81 89.85,274.8 90.47,274.79 91.09,274.78 91.72,274.78 92.34,274.77 92.96,274.76 93.59,274.75 94.21,274.74 94.83,274.74 95.45,274.73 96.08,274.72 96.7,274.71 97.32,274.7 97.94,274.69 98.56,274.69 99.19,274.68 99.81,274.67 100.43,274.66 101.06,274.65 101.68,274.65 102.3,274.64 102.92,274.63 103.55,274.62 104.17,274.61 104.79,274.61 105.41,274.6 106.03,274.59 106.66,274.58 107.28,274.57 107.9,274.57 108.53,274.56 109.15,274.55 109.77,274.54 110.39,274.53 111.02,274.53 111.64,274.52 112.26,274.51 112.88,274.5 113.5,274.49 114.13,274.48 114.75,274.48 115.37,274.47 116,274.46 116.62,274.45 117.24,274.44 117.86,274.44 118.49,274.43 119.11,274.42 119.73,274.41 120.35,274.4 120.98,274.4 121.6,274.39 122.22,274.38" fill="none" stroke="#2a54a3" stroke-width="1.35" stroke-linejoin="round"/>
<polyline points="122.84,274.37 123.47,274.36 124.09,274.35 124.71,274.33 125.33,274.32 125.96,274.31 126.58,274.3 127.2,274.29 127.82,274.28 128.45,274.27 129.07,274.26 129.69,274.25 130.31,274.23 130.94,274.22 131.56,274.21 132.18,274.2 132.8,274.19 133.43,274.18 134.05,274.17 134.67,274.15 135.29,274.14 135.92,274.13 136.54,274.12 137.16,274.11 137.78,274.1 138.41,274.09 139.03,274.08 139.65,274.06 140.27,274.05 140.9,274.04 141.52,274.03 142.14,274.02 142.76,274.01 143.39,274 144.01,273.99 144.63,273.97 145.25,273.96 145.88,273.95 146.5,273.94 147.12,273.93 147.74,273.92 148.37,273.91 148.99,273.9 149.61,273.88 150.23,273.87 150.86,273.86 151.48,273.85 152.1,273.84 152.72,273.81 153.34,273.78 153.97,273.75 154.59,273.72 155.21,273.69 155.84,273.65 156.46,273.62 157.08,273.59 157.7,273.56 158.33,273.53 158.95,273.5 159.57,273.47 160.19,273.44 160.81,273.41 161.44,273.38 162.06,273.35 162.68,273.32 163.31,273.28 163.93,273.25 164.55,273.22 165.17,273.19 165.8,273.16 166.42,273.13 167.04,273.1 167.66,273.07 168.28,273.04 168.91,273.01 169.53,272.98 170.15,272.95 170.78,272.91 171.4,272.88 172.02,272.85 172.64,272.82 173.27,272.79 173.89,272.76 174.51,272.7 175.13,272.63 175.75,272.57 176.38,272.5 177,272.44 177.62,272.38 178.25,272.31 178.87,272.25 179.49,272.18 180.11,272.12 180.74,272.06 181.36,271.99 181.98,271.93 182.6,271.86 183.22,271.8 183.85,271.71 184.47,271.62 185.09,271.54 185.72,271.45 186.34,271.36 186.96,271.27 187.58,271.18 188.21,271.1 188.83,271.01 189.45,270.92 190.07,270.83 190.7,270.74 191.32,270.66 191.94,270.57 192.56,270.48 193.19,270.32 193.81,270.17 194.43,270.01 195.05,269.86 195.68,269.7 196.3,269.54 196.92,269.39 197.54,269.23 198.17,269.08 198.79,268.92 199.41,268.74 200.03,268.55 200.66,268.37 201.28,268.18 201.9,268 202.52,267.81 203.15,267.63 203.77,267.44 204.39,267.26 205.01,267.07 205.64,266.89 206.26,266.7 206.88,266.52 207.5,266.2 208.12,265.89 208.75,265.57 209.37,265.26 209.99,264.94 210.62,264.63 211.24,264.31 211.86,264 212.48,263.61 213.11,263.22 213.73,262.83 214.35,262.44 214.97,261.48 215.59,260.64" fill="none" stroke="#e41a1c" stroke-width="1.35" stroke-linejoin="round"/>
<circle cx="216.22" cy="257.04" r="0.9" fill="#e41a1c"/>
<circle cx="216.84" cy="240.84" r="0.9" fill="#e41a1c"/>
<circle cx="217.46" cy="219.24" r="0.9" fill="#e41a1c"/>
<rect x="20.1" y="302.7" width="205.5" height="60.4" fill="none" stroke="#bdbdbd" stroke-width="1"/>
<line x1="122.8" y1="302.7" x2="122.8" y2="363.1" stroke="#aaa" stroke-width="0.5" stroke-dasharray="1.2,1"/>
<line x1="17.3" y1="361" x2="20.1" y2="361" stroke="#999" stroke-width="0.6"/>
<text x="13.6" y="361" font-size="4" fill="#151515" text-anchor="middle" transform="rotate(-90 13.6 361)">0</text>
<line x1="17.3" y1="342.2" x2="20.1" y2="342.2" stroke="#999" stroke-width="0.6"/>
<text x="13.6" y="342.2" font-size="4" fill="#151515" text-anchor="middle" transform="rotate(-90 13.6 342.2)">5</text>
<line x1="17.3" y1="323.4" x2="20.1" y2="323.4" stroke="#999" stroke-width="0.6"/>
<text x="13.6" y="323.4" font-size="4" fill="#151515" text-anchor="middle" transform="rotate(-90 13.6 323.4)">10</text>
<line x1="17.3" y1="304.6" x2="20.1" y2="304.6" stroke="#999" stroke-width="0.6"/>
<text x="13.6" y="304.6" font-size="4" fill="#151515" text-anchor="middle" transform="rotate(-90 13.6 304.6)">15</text>
<text x="6.8" y="333" font-size="4.2" fill="#151515" text-anchor="middle" transform="rotate(-90 6.8 333)">Survival time (day)</text>
<line x1="27.6" y1="363.1" x2="27.6" y2="365.8" stroke="#999" stroke-width="0.6"/>
<text x="27.6" y="368.9" font-size="4" fill="#151515" text-anchor="middle">0</text>
<line x1="58.73" y1="363.1" x2="58.73" y2="365.8" stroke="#999" stroke-width="0.6"/>
<text x="58.73" y="368.9" font-size="4" fill="#151515" text-anchor="middle">50</text>
<line x1="89.85" y1="363.1" x2="89.85" y2="365.8" stroke="#999" stroke-width="0.6"/>
<text x="89.85" y="368.9" font-size="4" fill="#151515" text-anchor="middle">100</text>
<line x1="120.98" y1="363.1" x2="120.98" y2="365.8" stroke="#999" stroke-width="0.6"/>
<text x="120.98" y="368.9" font-size="4" fill="#151515" text-anchor="middle">150</text>
<line x1="152.1" y1="363.1" x2="152.1" y2="365.8" stroke="#999" stroke-width="0.6"/>
<text x="152.1" y="368.9" font-size="4" fill="#151515" text-anchor="middle">200</text>
<line x1="183.22" y1="363.1" x2="183.22" y2="365.8" stroke="#999" stroke-width="0.6"/>
<text x="183.22" y="368.9" font-size="4" fill="#151515" text-anchor="middle">250</text>
<line x1="214.35" y1="363.1" x2="214.35" y2="365.8" stroke="#999" stroke-width="0.6"/>
<text x="214.35" y="368.9" font-size="4" fill="#151515" text-anchor="middle">300</text>
<text x="122.8" y="376.5" font-size="4.2" fill="#151515" text-anchor="middle">Patients (increasing risk score)</text>
<circle cx="30.62" cy="314.56" r="1.1" fill="#2a54a3"/>
<circle cx="28.21" cy="333.07" r="1.1" fill="#2a54a3"/>
<circle cx="37.52" cy="331.97" r="1.1" fill="#2a54a3"/>
<circle cx="46.83" cy="322.23" r="1.1" fill="#2a54a3"/>
<circle cx="63.8" cy="304.93" r="1.1" fill="#2a54a3"/>
<circle cx="61.28" cy="315.88" r="1.1" fill="#2a54a3"/>
<circle cx="78.91" cy="316.97" r="1.1" fill="#2a54a3"/>
<circle cx="57.78" cy="326.83" r="1.1" fill="#2a54a3"/>
<circle cx="59.96" cy="330.11" r="1.1" fill="#2a54a3"/>
<circle cx="63.25" cy="329.34" r="1.1" fill="#2a54a3"/>
<circle cx="64.89" cy="329.34" r="1.1" fill="#2a54a3"/>
<circle cx="61.94" cy="333.4" r="1.1" fill="#2a54a3"/>
<circle cx="58.1" cy="335.26" r="1.1" fill="#2a54a3"/>
<circle cx="71.46" cy="324.64" r="1.1" fill="#2a54a3"/>
<circle cx="73.98" cy="327.37" r="1.1" fill="#2a54a3"/>
<circle cx="74.75" cy="326.61" r="1.1" fill="#2a54a3"/>
<circle cx="76.39" cy="325.18" r="1.1" fill="#2a54a3"/>
<circle cx="79.45" cy="332.3" r="1.1" fill="#2a54a3"/>
<circle cx="93.36" cy="335.26" r="1.1" fill="#2a54a3"/>
<circle cx="41.35" cy="341.94" r="1.1" fill="#2a54a3"/>
<circle cx="49.34" cy="342.37" r="1.1" fill="#2a54a3"/>
<circle cx="60.73" cy="340.51" r="1.1" fill="#2a54a3"/>
<circle cx="62.7" cy="341.61" r="1.1" fill="#2a54a3"/>
<circle cx="67.41" cy="341.06" r="1.1" fill="#2a54a3"/>
<circle cx="75.84" cy="341.06" r="1.1" fill="#2a54a3"/>
<circle cx="76.94" cy="340.73" r="1.1" fill="#2a54a3"/>
<circle cx="83.83" cy="338.65" r="1.1" fill="#2a54a3"/>
<circle cx="92.05" cy="340.18" r="1.1" fill="#2a54a3"/>
<circle cx="32.92" cy="344.67" r="1.1" fill="#2a54a3"/>
<circle cx="31.83" cy="345.22" r="1.1" fill="#2a54a3"/>
<circle cx="30.07" cy="347.08" r="1.1" fill="#2a54a3"/>
<circle cx="34.56" cy="347.41" r="1.1" fill="#2a54a3"/>
<circle cx="36.42" cy="347.3" r="1.1" fill="#2a54a3"/>
<circle cx="36.97" cy="344.56" r="1.1" fill="#2a54a3"/>
<circle cx="40.58" cy="344.67" r="1.1" fill="#2a54a3"/>
<circle cx="41.9" cy="345.99" r="1.1" fill="#2a54a3"/>
<circle cx="42.45" cy="348.18" r="1.1" fill="#2a54a3"/>
<circle cx="46.28" cy="347.96" r="1.1" fill="#2a54a3"/>
<circle cx="39.71" cy="351.46" r="1.1" fill="#2a54a3"/>
<circle cx="43.87" cy="350.91" r="1.1" fill="#2a54a3"/>
<circle cx="45.18" cy="352.56" r="1.1" fill="#2a54a3"/>
<circle cx="48.25" cy="350.91" r="1.1" fill="#2a54a3"/>
<circle cx="50.66" cy="350.37" r="1.1" fill="#2a54a3"/>
<circle cx="51.75" cy="350.15" r="1.1" fill="#2a54a3"/>
<circle cx="53.94" cy="349.82" r="1.1" fill="#2a54a3"/>
<circle cx="55.59" cy="349.27" r="1.1" fill="#2a54a3"/>
<circle cx="59.42" cy="345.11" r="1.1" fill="#2a54a3"/>
<circle cx="58.87" cy="348.18" r="1.1" fill="#2a54a3"/>
<circle cx="65.99" cy="345.44" r="1.1" fill="#2a54a3"/>
<circle cx="64.34" cy="349.82" r="1.1" fill="#2a54a3"/>
<circle cx="68.18" cy="351.46" r="1.1" fill="#2a54a3"/>
<circle cx="72.01" cy="350.37" r="1.1" fill="#2a54a3"/>
<circle cx="77.48" cy="351.46" r="1.1" fill="#2a54a3"/>
<circle cx="82.19" cy="344.67" r="1.1" fill="#2a54a3"/>
<circle cx="82.96" cy="345.99" r="1.1" fill="#2a54a3"/>
<circle cx="80.77" cy="348.18" r="1.1" fill="#2a54a3"/>
<circle cx="80" cy="349.27" r="1.1" fill="#2a54a3"/>
<circle cx="82.41" cy="350.37" r="1.1" fill="#2a54a3"/>
<circle cx="86.24" cy="348.72" r="1.1" fill="#2a54a3"/>
<circle cx="87.89" cy="348.18" r="1.1" fill="#2a54a3"/>
<circle cx="90.08" cy="348.72" r="1.1" fill="#2a54a3"/>
<circle cx="86.79" cy="350.91" r="1.1" fill="#2a54a3"/>
<circle cx="88.43" cy="350.91" r="1.1" fill="#2a54a3"/>
<circle cx="89.53" cy="352.56" r="1.1" fill="#2a54a3"/>
<circle cx="27.66" cy="353.1" r="1.1" fill="#2a54a3"/>
<circle cx="28.98" cy="353.1" r="1.1" fill="#2a54a3"/>
<circle cx="28.54" cy="354.75" r="1.1" fill="#2a54a3"/>
<circle cx="31.5" cy="355.62" r="1.1" fill="#2a54a3"/>
<circle cx="33.69" cy="356.39" r="1.1" fill="#2a54a3"/>
<circle cx="34.78" cy="356.94" r="1.1" fill="#2a54a3"/>
<circle cx="35.88" cy="356.06" r="1.1" fill="#2a54a3"/>
<circle cx="38.07" cy="354.42" r="1.1" fill="#2a54a3"/>
<circle cx="38.83" cy="359.35" r="1.1" fill="#2a54a3"/>
<circle cx="44.64" cy="354.75" r="1.1" fill="#2a54a3"/>
<circle cx="47.37" cy="354.75" r="1.1" fill="#2a54a3"/>
<circle cx="49.02" cy="354.2" r="1.1" fill="#2a54a3"/>
<circle cx="49.56" cy="353.43" r="1.1" fill="#2a54a3"/>
<circle cx="51.75" cy="356.94" r="1.1" fill="#2a54a3"/>
<circle cx="53.4" cy="355.84" r="1.1" fill="#2a54a3"/>
<circle cx="55.04" cy="354.75" r="1.1" fill="#2a54a3"/>
<circle cx="56.13" cy="352.56" r="1.1" fill="#2a54a3"/>
<circle cx="57.23" cy="351.46" r="1.1" fill="#2a54a3"/>
<circle cx="65.44" cy="355.29" r="1.1" fill="#2a54a3"/>
<circle cx="66.53" cy="355.84" r="1.1" fill="#2a54a3"/>
<circle cx="68.72" cy="357.48" r="1.1" fill="#2a54a3"/>
<circle cx="70.37" cy="360.77" r="1.1" fill="#2a54a3"/>
<circle cx="69.82" cy="353.65" r="1.1" fill="#2a54a3"/>
<circle cx="70.37" cy="352.56" r="1.1" fill="#2a54a3"/>
<circle cx="72.56" cy="355.29" r="1.1" fill="#2a54a3"/>
<circle cx="74.75" cy="356.39" r="1.1" fill="#2a54a3"/>
<circle cx="78.03" cy="358.91" r="1.1" fill="#2a54a3"/>
<circle cx="84.6" cy="354.2" r="1.1" fill="#2a54a3"/>
<circle cx="85.48" cy="355.29" r="1.1" fill="#2a54a3"/>
<circle cx="87.89" cy="356.94" r="1.1" fill="#2a54a3"/>
<circle cx="90.08" cy="359.67" r="1.1" fill="#2a54a3"/>
<circle cx="91.72" cy="356.94" r="1.1" fill="#2a54a3"/>
<circle cx="93.36" cy="355.84" r="1.1" fill="#2a54a3"/>
<circle cx="94.46" cy="354.75" r="1.1" fill="#2a54a3"/>
<circle cx="97.66" cy="312.04" r="1.1" fill="#2a54a3"/>
<circle cx="105.11" cy="313.69" r="1.1" fill="#2a54a3"/>
<circle cx="101.83" cy="324.31" r="1.1" fill="#2a54a3"/>
<circle cx="93.07" cy="335.26" r="1.1" fill="#2a54a3"/>
<circle cx="105.88" cy="334.49" r="1.1" fill="#2a54a3"/>
<circle cx="117.7" cy="334.27" r="1.1" fill="#2a54a3"/>
<circle cx="91.97" cy="340.18" r="1.1" fill="#2a54a3"/>
<circle cx="100.07" cy="341.06" r="1.1" fill="#2a54a3"/>
<circle cx="115.18" cy="339.96" r="1.1" fill="#2a54a3"/>
<circle cx="116.28" cy="341.83" r="1.1" fill="#2a54a3"/>
<circle cx="104.56" cy="345.77" r="1.1" fill="#2a54a3"/>
<circle cx="106.97" cy="344.89" r="1.1" fill="#2a54a3"/>
<circle cx="98.54" cy="347.3" r="1.1" fill="#2a54a3"/>
<circle cx="100.95" cy="348.18" r="1.1" fill="#2a54a3"/>
<circle cx="102.59" cy="349.49" r="1.1" fill="#2a54a3"/>
<circle cx="90.88" cy="348.72" r="1.1" fill="#2a54a3"/>
<circle cx="97.12" cy="350.91" r="1.1" fill="#2a54a3"/>
<circle cx="99.85" cy="350.91" r="1.1" fill="#2a54a3"/>
<circle cx="101.5" cy="351.24" r="1.1" fill="#2a54a3"/>
<circle cx="112.45" cy="347.08" r="1.1" fill="#2a54a3"/>
<circle cx="115.95" cy="346.86" r="1.1" fill="#2a54a3"/>
<circle cx="108.07" cy="351.46" r="1.1" fill="#2a54a3"/>
<circle cx="109.71" cy="351.24" r="1.1" fill="#2a54a3"/>
<circle cx="111.35" cy="350.91" r="1.1" fill="#2a54a3"/>
<circle cx="112.99" cy="350.37" r="1.1" fill="#2a54a3"/>
<circle cx="114.64" cy="351.46" r="1.1" fill="#2a54a3"/>
<circle cx="118.25" cy="354.2" r="1.1" fill="#2a54a3"/>
<circle cx="119.56" cy="351.24" r="1.1" fill="#2a54a3"/>
<circle cx="121.75" cy="349.82" r="1.1" fill="#2a54a3"/>
<circle cx="122.85" cy="349.27" r="1.1" fill="#2a54a3"/>
<circle cx="123.94" cy="347.08" r="1.1" fill="#2a54a3"/>
<circle cx="127.23" cy="348.18" r="1.1" fill="#2a54a3"/>
<circle cx="128.32" cy="349.82" r="1.1" fill="#2a54a3"/>
<circle cx="103.69" cy="353.87" r="1.1" fill="#2a54a3"/>
<circle cx="106.42" cy="356.94" r="1.1" fill="#2a54a3"/>
<circle cx="107.52" cy="356.72" r="1.1" fill="#2a54a3"/>
<circle cx="109.71" cy="353.65" r="1.1" fill="#2a54a3"/>
<circle cx="110.8" cy="354.75" r="1.1" fill="#2a54a3"/>
<circle cx="93.83" cy="354.75" r="1.1" fill="#2a54a3"/>
<circle cx="94.93" cy="354.75" r="1.1" fill="#2a54a3"/>
<circle cx="92.19" cy="356.94" r="1.1" fill="#2a54a3"/>
<circle cx="96.02" cy="357.48" r="1.1" fill="#2a54a3"/>
<circle cx="90" cy="359.67" r="1.1" fill="#2a54a3"/>
<circle cx="113.87" cy="360.77" r="1.1" fill="#2a54a3"/>
<circle cx="119.02" cy="357.81" r="1.1" fill="#2a54a3"/>
<circle cx="120.11" cy="359.67" r="1.1" fill="#2a54a3"/>
<circle cx="121.21" cy="354.75" r="1.1" fill="#2a54a3"/>
<circle cx="122.85" cy="355.84" r="1.1" fill="#2a54a3"/>
<circle cx="125.04" cy="355.29" r="1.1" fill="#2a54a3"/>
<circle cx="126.13" cy="356.39" r="1.1" fill="#2a54a3"/>
<circle cx="127.78" cy="357.16" r="1.1" fill="#2a54a3"/>
<circle cx="129.42" cy="353.65" r="1.1" fill="#2a54a3"/>
<circle cx="131.06" cy="353.1" r="1.1" fill="#2a54a3"/>
<circle cx="132.15" cy="352.56" r="1.1" fill="#2a54a3"/>
<circle cx="134.34" cy="355.29" r="1.1" fill="#2a54a3"/>
<circle cx="134.89" cy="356.72" r="1.1" fill="#2a54a3"/>
<circle cx="133.8" cy="358.03" r="1.1" fill="#2a54a3"/>
<circle cx="137.08" cy="349.82" r="1.1" fill="#2a54a3"/>
<circle cx="138.18" cy="356.39" r="1.1" fill="#2a54a3"/>
<circle cx="139.82" cy="354.75" r="1.1" fill="#2a54a3"/>
<circle cx="140.91" cy="353.1" r="1.1" fill="#2a54a3"/>
<circle cx="141.46" cy="357.48" r="1.1" fill="#2a54a3"/>
<circle cx="142.01" cy="360" r="1.1" fill="#2a54a3"/>
<circle cx="131.39" cy="324.96" r="1.1" fill="#2a54a3"/>
<circle cx="143.32" cy="327.15" r="1.1" fill="#2a54a3"/>
<circle cx="132.7" cy="335.59" r="1.1" fill="#2a54a3"/>
<circle cx="138.18" cy="336.68" r="1.1" fill="#2a54a3"/>
<circle cx="140.37" cy="335.59" r="1.1" fill="#2a54a3"/>
<circle cx="135.77" cy="340.51" r="1.1" fill="#2a54a3"/>
<circle cx="133.25" cy="349.27" r="1.1" fill="#2a54a3"/>
<circle cx="145.29" cy="349.82" r="1.1" fill="#2a54a3"/>
<circle cx="146.39" cy="349.82" r="1.1" fill="#2a54a3"/>
<circle cx="146.94" cy="342.7" r="1.1" fill="#2a54a3"/>
<circle cx="148.03" cy="341.61" r="1.1" fill="#2a54a3"/>
<circle cx="149.67" cy="342.7" r="1.1" fill="#2a54a3"/>
<circle cx="151.32" cy="345.99" r="1.1" fill="#2a54a3"/>
<circle cx="152.41" cy="343.8" r="1.1" fill="#2a54a3"/>
<circle cx="149.13" cy="348.18" r="1.1" fill="#2a54a3"/>
<circle cx="146.94" cy="356.39" r="1.1" fill="#2a54a3"/>
<circle cx="148.03" cy="355.29" r="1.1" fill="#2a54a3"/>
<circle cx="150.22" cy="360" r="1.1" fill="#2a54a3"/>
<circle cx="151.86" cy="317.3" r="1.1" fill="#2a54a3"/>
<circle cx="153.83" cy="311.5" r="1.1" fill="#2a54a3"/>
<circle cx="158.43" cy="327.7" r="1.1" fill="#2a54a3"/>
<circle cx="162.81" cy="336.46" r="1.1" fill="#2a54a3"/>
<circle cx="157.01" cy="343.8" r="1.1" fill="#2a54a3"/>
<circle cx="152.96" cy="351.24" r="1.1" fill="#2a54a3"/>
<circle cx="155.15" cy="349.27" r="1.1" fill="#2a54a3"/>
<circle cx="156.24" cy="352.56" r="1.1" fill="#2a54a3"/>
<circle cx="157.89" cy="349.82" r="1.1" fill="#2a54a3"/>
<circle cx="158.98" cy="349.82" r="1.1" fill="#2a54a3"/>
<circle cx="161.17" cy="347.63" r="1.1" fill="#2a54a3"/>
<circle cx="154.6" cy="354.75" r="1.1" fill="#2a54a3"/>
<circle cx="155.7" cy="355.84" r="1.1" fill="#2a54a3"/>
<circle cx="158.98" cy="354.2" r="1.1" fill="#2a54a3"/>
<circle cx="160.62" cy="356.94" r="1.1" fill="#2a54a3"/>
<circle cx="162.05" cy="356.94" r="1.1" fill="#2a54a3"/>
<circle cx="163.36" cy="352.01" r="1.1" fill="#2a54a3"/>
<circle cx="164.46" cy="359.67" r="1.1" fill="#2a54a3"/>
<circle cx="164.46" cy="345.99" r="1.1" fill="#2a54a3"/>
<circle cx="173.91" cy="310.95" r="1.1" fill="#2a54a3"/>
<circle cx="167.66" cy="318.39" r="1.1" fill="#2a54a3"/>
<circle cx="189.56" cy="316.97" r="1.1" fill="#2a54a3"/>
<circle cx="188.25" cy="327.37" r="1.1" fill="#2a54a3"/>
<circle cx="212.89" cy="329.89" r="1.1" fill="#2a54a3"/>
<circle cx="168.76" cy="336.13" r="1.1" fill="#2a54a3"/>
<circle cx="169.85" cy="336.35" r="1.1" fill="#2a54a3"/>
<circle cx="178.94" cy="334.27" r="1.1" fill="#2a54a3"/>
<circle cx="185.95" cy="334.27" r="1.1" fill="#2a54a3"/>
<circle cx="188.8" cy="337.01" r="1.1" fill="#2a54a3"/>
<circle cx="197.01" cy="337.23" r="1.1" fill="#2a54a3"/>
<circle cx="167.12" cy="339.42" r="1.1" fill="#2a54a3"/>
<circle cx="200.84" cy="339.96" r="1.1" fill="#2a54a3"/>
<circle cx="208.18" cy="337.78" r="1.1" fill="#2a54a3"/>
<circle cx="216.39" cy="338.87" r="1.1" fill="#2a54a3"/>
<circle cx="165.15" cy="346.21" r="1.1" fill="#2a54a3"/>
<circle cx="172.92" cy="344.13" r="1.1" fill="#2a54a3"/>
<circle cx="174.78" cy="347.08" r="1.1" fill="#2a54a3"/>
<circle cx="176.2" cy="347.96" r="1.1" fill="#2a54a3"/>
<circle cx="201.39" cy="344.13" r="1.1" fill="#2a54a3"/>
<circle cx="206.53" cy="344.67" r="1.1" fill="#2a54a3"/>
<circle cx="210.15" cy="343.03" r="1.1" fill="#2a54a3"/>
<circle cx="215.84" cy="343.03" r="1.1" fill="#2a54a3"/>
<circle cx="213.43" cy="345.99" r="1.1" fill="#2a54a3"/>
<circle cx="202.15" cy="347.85" r="1.1" fill="#2a54a3"/>
<circle cx="198.87" cy="349.49" r="1.1" fill="#2a54a3"/>
<circle cx="166.02" cy="352.01" r="1.1" fill="#2a54a3"/>
<circle cx="170.4" cy="350.37" r="1.1" fill="#2a54a3"/>
<circle cx="172.04" cy="350.37" r="1.1" fill="#2a54a3"/>
<circle cx="171.5" cy="352.34" r="1.1" fill="#2a54a3"/>
<circle cx="175.33" cy="351.24" r="1.1" fill="#2a54a3"/>
<circle cx="180.8" cy="350.15" r="1.1" fill="#2a54a3"/>
<circle cx="182.77" cy="351.46" r="1.1" fill="#2a54a3"/>
<circle cx="186.83" cy="351.46" r="1.1" fill="#2a54a3"/>
<circle cx="190.66" cy="349.27" r="1.1" fill="#2a54a3"/>
<circle cx="196.13" cy="351.46" r="1.1" fill="#2a54a3"/>
<circle cx="196.68" cy="353.65" r="1.1" fill="#2a54a3"/>
<circle cx="207.08" cy="350.91" r="1.1" fill="#2a54a3"/>
<circle cx="210.91" cy="349.27" r="1.1" fill="#2a54a3"/>
<circle cx="212.01" cy="351.24" r="1.1" fill="#2a54a3"/>
<circle cx="168.76" cy="354.42" r="1.1" fill="#2a54a3"/>
<circle cx="170.95" cy="358.03" r="1.1" fill="#2a54a3"/>
<circle cx="173.69" cy="356.94" r="1.1" fill="#2a54a3"/>
<circle cx="176.97" cy="356.94" r="1.1" fill="#2a54a3"/>
<circle cx="178.07" cy="355.84" r="1.1" fill="#2a54a3"/>
<circle cx="180.26" cy="356.39" r="1.1" fill="#2a54a3"/>
<circle cx="181.9" cy="356.39" r="1.1" fill="#2a54a3"/>
<circle cx="183.54" cy="356.72" r="1.1" fill="#2a54a3"/>
<circle cx="185.18" cy="356.39" r="1.1" fill="#2a54a3"/>
<circle cx="187.92" cy="356.39" r="1.1" fill="#2a54a3"/>
<circle cx="190.11" cy="354.75" r="1.1" fill="#2a54a3"/>
<circle cx="191.75" cy="354.2" r="1.1" fill="#2a54a3"/>
<circle cx="192.85" cy="355.29" r="1.1" fill="#2a54a3"/>
<circle cx="193.94" cy="355.84" r="1.1" fill="#2a54a3"/>
<circle cx="195.04" cy="359.13" r="1.1" fill="#2a54a3"/>
<circle cx="197.78" cy="358.03" r="1.1" fill="#2a54a3"/>
<circle cx="203.25" cy="358.58" r="1.1" fill="#2a54a3"/>
<circle cx="204.89" cy="356.94" r="1.1" fill="#2a54a3"/>
<circle cx="209.82" cy="353.65" r="1.1" fill="#2a54a3"/>
<circle cx="211.46" cy="353.1" r="1.1" fill="#2a54a3"/>
<circle cx="214.2" cy="356.39" r="1.1" fill="#2a54a3"/>
<circle cx="215.84" cy="354.53" r="1.1" fill="#2a54a3"/>
<circle cx="217.48" cy="353.65" r="1.1" fill="#2a54a3"/>
<circle cx="179.49" cy="360" r="1.1" fill="#2a54a3"/>
<circle cx="116.83" cy="350.59" r="1.1" fill="#e41a1c"/>
<circle cx="143.65" cy="345.44" r="1.1" fill="#e41a1c"/>
<circle cx="142.56" cy="350.59" r="1.1" fill="#e41a1c"/>
<circle cx="166.35" cy="344.34" r="1.1" fill="#e41a1c"/>
<circle cx="199.96" cy="350.91" r="1.1" fill="#e41a1c"/>
<circle cx="203.25" cy="342.92" r="1.1" fill="#e41a1c"/>
<circle cx="204.67" cy="346.53" r="1.1" fill="#e41a1c"/>
<circle cx="205.77" cy="352.56" r="1.1" fill="#e41a1c"/>
<circle cx="208.72" cy="353.43" r="1.1" fill="#e41a1c"/>
<circle cx="207.63" cy="359.13" r="1.1" fill="#e41a1c"/>
<circle cx="217.7" cy="350.37" r="1.1" fill="#e41a1c"/>
<path d="M298.04 220.33 L300.44 220.33 L300.44 220.33 L304.46 220.33 L304.46 220.9 L306.96 220.9 L306.96 222.04 L317.3 222.04 L317.3 222.6 L320.78 222.6 L320.78 223.17 L324.26 223.17 L324.26 223.4 L328.4 223.4 L328.4 226.91 L408.69 226.91 L408.69 238.48 L420.12 238.48 L420.12 251.07 L408.69 251.07 L408.69 251.07 L328.4 251.07 L328.4 245.96 L324.26 245.96 L324.26 242.67 L320.78 242.67 L320.78 238.59 L317.3 238.59 L317.3 234.85 L306.96 234.85 L306.96 230.54 L304.46 230.54 L304.46 225.78 L300.44 225.78 L300.44 222.83 L298.04 222.83 Z" fill="#f8c8b3"/>
<path d="M306.75 219.77 L408.69 219.77 L408.69 223.4 L306.75 223.4 Z" fill="rgba(150,160,215,0.45)"/>
<path d="M433.5 219.2 L437.96 219.2 L437.96 223.4 L433.5 223.4 Z" fill="#c3c8e6"/>
<polyline points="276.5,219.2 306.75,219.2 306.75,220.33 408.69,220.33" fill="none" stroke="#3b55a5" stroke-width="1.1" stroke-linejoin="round"/>
<polyline points="433.5,220.33 437.96,220.33" fill="none" stroke="#3b55a5" stroke-width="1.1" stroke-linejoin="round"/>
<polyline points="281.07,220.22 298.04,220.22 298.04,221.35 300.44,221.35 300.44,222.26 304.46,222.26 304.46,225.21 305.55,225.21 305.55,228.16 317.3,228.16 317.3,230.43 320.78,230.43 320.78,233.38 324.26,233.38 324.26,236.32 328.4,236.32 328.4,239.5 408.69,239.5" fill="none" stroke="#e3342a" stroke-width="1.1" stroke-linejoin="round"/>
<line x1="268.1" y1="213.5" x2="268.1" y2="338.2" stroke="#4a4a4a" stroke-width="1"/>
<line x1="268.1" y1="338.2" x2="447.6" y2="338.2" stroke="#4a4a4a" stroke-width="1"/>
<line x1="266.2" y1="219.2" x2="268.1" y2="219.2" stroke="#444" stroke-width="0.6"/>
<text x="265.8" y="219.2" font-size="4.4" fill="#111" text-anchor="end">1.00</text>
<line x1="266.2" y1="247.55" x2="268.1" y2="247.55" stroke="#444" stroke-width="0.6"/>
<text x="265.8" y="247.55" font-size="4.4" fill="#111" text-anchor="end">0.75</text>
<line x1="266.2" y1="275.9" x2="268.1" y2="275.9" stroke="#444" stroke-width="0.6"/>
<text x="265.8" y="275.9" font-size="4.4" fill="#111" text-anchor="end">0.50</text>
<line x1="266.2" y1="304.25" x2="268.1" y2="304.25" stroke="#444" stroke-width="0.6"/>
<text x="265.8" y="304.25" font-size="4.4" fill="#111" text-anchor="end">0.25</text>
<line x1="266.2" y1="332.6" x2="268.1" y2="332.6" stroke="#444" stroke-width="0.6"/>
<text x="265.8" y="332.6" font-size="4.4" fill="#111" text-anchor="end">0.00</text>
<line x1="276.5" y1="338.2" x2="276.5" y2="340.2" stroke="#333" stroke-width="0.6"/>
<text x="276.5" y="342.5" font-size="4.4" fill="#151515" text-anchor="middle">0</text>
<line x1="330.9" y1="338.2" x2="330.9" y2="340.2" stroke="#333" stroke-width="0.6"/>
<text x="330.9" y="342.5" font-size="4.4" fill="#151515" text-anchor="middle">5</text>
<line x1="385.3" y1="338.2" x2="385.3" y2="340.2" stroke="#333" stroke-width="0.6"/>
<text x="385.3" y="342.5" font-size="4.4" fill="#151515" text-anchor="middle">10</text>
<line x1="439.7" y1="338.2" x2="439.7" y2="340.2" stroke="#333" stroke-width="0.6"/>
<text x="439.7" y="342.5" font-size="4.4" fill="#151515" text-anchor="middle">15</text>
<text x="357.6" y="348" font-size="5" fill="#111" text-anchor="middle">Time (Years)</text>
<text x="252.8" y="275.5" font-size="5" fill="#111" text-anchor="middle" transform="rotate(-90 252.8 275.5)">Survival probability</text>
<text x="279.3" y="310.1" font-size="7" fill="#111">p = 0.002</text>
<text x="386.3" y="267.2" font-size="5" fill="#111">HR=0.061 (0.026&#160;&#160;&#160;0.253)</text>
<rect x="408.2" y="224.5" width="24" height="18" fill="#fff" stroke="none" stroke-width="1"/>
<rect x="411" y="225.7" width="7" height="7.3" fill="#f8c8b3" stroke="none" stroke-width="1"/>
<line x1="411" y1="229.4" x2="418" y2="229.4" stroke="#e3342a" stroke-width="1.1"/>
<rect x="411" y="233.9" width="7" height="7.1" fill="#c3c8e6" stroke="none" stroke-width="1"/>
<line x1="411" y1="237.4" x2="418" y2="237.4" stroke="#3b55a5" stroke-width="1.1"/>
<text x="421" y="229.4" font-size="5.2" fill="#111">high</text>
<text x="421" y="237.4" font-size="5.2" fill="#111">low</text>
<text x="265.3" y="357.8" font-size="6" fill="#111">Number at risk</text>
<text x="264.5" y="365.6" font-size="4.8" fill="#e3342a" text-anchor="end">high</text>
<text x="264.5" y="373.6" font-size="4.8" fill="#3b55a5" text-anchor="end">low</text>
<text x="273.5" y="365.6" font-size="6" fill="#111" text-anchor="middle">152</text>
<text x="273.5" y="373.6" font-size="6" fill="#111" text-anchor="middle">153</text>
<text x="329.7" y="365.6" font-size="6" fill="#111" text-anchor="middle">26</text>
<text x="329.7" y="373.6" font-size="6" fill="#111" text-anchor="middle">35</text>
<text x="384.5" y="365.6" font-size="6" fill="#111" text-anchor="middle">5</text>
<text x="384.5" y="373.6" font-size="6" fill="#111" text-anchor="middle">7</text>
<text x="441.5" y="365.6" font-size="6" fill="#111" text-anchor="middle">0</text>
<text x="441.5" y="373.6" font-size="6" fill="#111" text-anchor="middle">0</text>
<text x="583.2" y="214.8" font-size="6.2" fill="#000" text-anchor="middle" font-weight="bold" class="sf">ROC curve, Method=NNE</text>
<rect x="490.5" y="222.3" width="184.9" height="151.3" fill="none" stroke="#999" stroke-width="0.8"/>
<line x1="497.3" y1="368.2" x2="668.3" y2="227.7" stroke="#ece4e4" stroke-width="0.55"/>
<line x1="488" y1="368.2" x2="490.5" y2="368.2" stroke="#777" stroke-width="0.6"/>
<text x="484.5" y="368.2" font-size="5.2" fill="#000" text-anchor="middle" font-weight="bold" class="sf" transform="rotate(-90 484.5 368.2)">0.0</text>
<line x1="497.3" y1="373.6" x2="497.3" y2="376" stroke="#777" stroke-width="0.6"/>
<text x="497.3" y="379.6" font-size="5.2" fill="#000" text-anchor="middle" font-weight="bold" class="sf">0.0</text>
<line x1="488" y1="340.1" x2="490.5" y2="340.1" stroke="#777" stroke-width="0.6"/>
<text x="484.5" y="340.1" font-size="5.2" fill="#000" text-anchor="middle" font-weight="bold" class="sf" transform="rotate(-90 484.5 340.1)">0.2</text>
<line x1="531.5" y1="373.6" x2="531.5" y2="376" stroke="#777" stroke-width="0.6"/>
<text x="531.5" y="379.6" font-size="5.2" fill="#000" text-anchor="middle" font-weight="bold" class="sf">0.2</text>
<line x1="488" y1="312" x2="490.5" y2="312" stroke="#777" stroke-width="0.6"/>
<text x="484.5" y="312" font-size="5.2" fill="#000" text-anchor="middle" font-weight="bold" class="sf" transform="rotate(-90 484.5 312)">0.4</text>
<line x1="565.7" y1="373.6" x2="565.7" y2="376" stroke="#777" stroke-width="0.6"/>
<text x="565.7" y="379.6" font-size="5.2" fill="#000" text-anchor="middle" font-weight="bold" class="sf">0.4</text>
<line x1="488" y1="283.9" x2="490.5" y2="283.9" stroke="#777" stroke-width="0.6"/>
<text x="484.5" y="283.9" font-size="5.2" fill="#000" text-anchor="middle" font-weight="bold" class="sf" transform="rotate(-90 484.5 283.9)">0.6</text>
<line x1="599.9" y1="373.6" x2="599.9" y2="376" stroke="#777" stroke-width="0.6"/>
<text x="599.9" y="379.6" font-size="5.2" fill="#000" text-anchor="middle" font-weight="bold" class="sf">0.6</text>
<line x1="488" y1="255.8" x2="490.5" y2="255.8" stroke="#777" stroke-width="0.6"/>
<text x="484.5" y="255.8" font-size="5.2" fill="#000" text-anchor="middle" font-weight="bold" class="sf" transform="rotate(-90 484.5 255.8)">0.8</text>
<line x1="634.1" y1="373.6" x2="634.1" y2="376" stroke="#777" stroke-width="0.6"/>
<text x="634.1" y="379.6" font-size="5.2" fill="#000" text-anchor="middle" font-weight="bold" class="sf">0.8</text>
<line x1="488" y1="227.7" x2="490.5" y2="227.7" stroke="#777" stroke-width="0.6"/>
<text x="484.5" y="227.7" font-size="5.2" fill="#000" text-anchor="middle" font-weight="bold" class="sf" transform="rotate(-90 484.5 227.7)">1.0</text>
<line x1="668.3" y1="373.6" x2="668.3" y2="376" stroke="#777" stroke-width="0.6"/>
<text x="668.3" y="379.6" font-size="5.2" fill="#000" text-anchor="middle" font-weight="bold" class="sf">1.0</text>
<text x="475.5" y="298" font-size="6" fill="#000" text-anchor="middle" font-weight="bold" class="sf" transform="rotate(-90 475.5 298)">sensitivity</text>
<text x="583" y="386.5" font-size="6" fill="#000" text-anchor="middle" font-weight="bold" class="sf">specificity</text>
<polyline points="497.3,356.96 497.3,349.94 499.01,348.2 500.72,345.72 502.43,351.34 505,334.48 505.85,324.64 508.42,300.76 510.12,312 509.27,283.9 510.69,282.32 512.12,279.69 513.54,278.28 515.25,270.18 516.97,261.42 519.53,265.63 521.03,262.75 522.52,258.85 524.02,256.91 525.51,252.99 527.23,251.57 528.94,248.77 530.3,250.85 531.67,251.22 533.04,253.53 534.41,254 535.77,255.8 537.27,257.19 538.77,257.61 540.26,259.32 541.76,260.01 543.18,260.31 544.61,258.37 546.03,258.61 547.57,260.14 549.11,259.61 550.65,261.49 552.19,261.57 553.73,262.82 555.44,264.12 557.15,264.23 558.86,264.88 560.57,264.23 561.42,247.37 562.85,247.62 564.27,245.7 565.7,245.96 567.12,246.02 568.55,244.92 569.98,245.88 571.4,244.5 572.83,245.13 574.25,244.56 575.67,244.6 577.1,243.33 578.52,243.92 579.95,241.96 581.38,242.77 582.8,241.75 583.65,224.89 585.19,225.02 586.73,223.58 588.27,224.61 589.81,223.03 591.35,223.48 592.77,223.97 594.2,222.8 595.62,223.25 597.05,222.8 598.48,222.8 599.9,222.8 601.33,222.88 602.75,222.8 604.17,224.18 605.6,223.69 607.03,224.69 608.45,224.89 609.88,225.95 611.3,225.43 612.73,226.83 614.15,226.26 615.58,227.66 617,227.7 618.32,228.61 619.63,227.57 620.95,228.5 622.26,227.78 623.58,228.83 624.89,227.95 626.21,228.9 627.52,227.91 628.84,229.09 630.15,228.23 631.47,229.64 632.78,228.7 634.1,229.1 635.42,229.27 636.73,228.52 638.05,229.45 639.36,228.09 640.68,228.94 641.99,228.03 643.31,228.69 644.62,227.74 645.94,228.4 647.25,227.39 648.57,228.66 649.88,227.03 651.2,227.7 652.52,228.35 653.83,226.92 655.15,227.95 656.46,227.3 657.78,228.48 659.09,227.03 660.41,228.17 661.72,226.93 663.04,228.29 664.35,227 665.67,228.1 666.98,227.35 668.3,227.7" fill="none" stroke="#8cc97c" stroke-width="0.55" stroke-linejoin="round"/>
<polyline points="497.3,361.18 497.3,356.96 499.01,359.77 500.72,355.56 503.29,354.15 504.14,349.94 505.85,347.12 505.85,312 507.56,306.38 507.56,297.95 509.27,295.14 510.69,290.11 512.12,283.24 513.54,278.28 515.25,283.88 516.97,288.12 519.53,285.31 520.96,282.79 522.38,278.09 523.81,275.47 525.23,275.29 526.66,273.34 528.08,272.66 529.5,273.63 530.93,272.83 532.36,274.06 534.07,276.07 535.77,276.88 536.29,279.69 535.77,265.63 537.14,265.26 538.51,263.08 539.88,262.77 541.25,260.76 542.62,260.01 544.11,261.26 545.61,260.86 547.1,262.37 548.6,262.82 549.97,263.47 551.34,262.99 552.7,264.42 554.07,263.28 555.44,264.23 556.29,264.23 557.15,240.34 558.58,240.44 560,239.19 561.42,239.96 562.85,238.82 564.28,239.49 565.7,238.94 567.41,238.24 569.12,236.34 570.83,236.13 572.2,234.24 573.57,231.27 574.93,230.18 576.3,226.41 577.67,224.89 579.1,224.59 580.52,222.8 581.94,223.32 583.37,222.8 584.8,222.8 586.22,222.8 587.59,222.8 588.96,222.8 590.32,222.8 591.69,222.8 593.06,222.8 594.43,222.8 595.8,222.8 597.16,222.8 598.53,222.8 599.9,222.8 601.33,222.8 602.75,222.8 604.17,222.8 605.6,222.8 607.03,222.8 608.45,222.8 609.88,222.8 611.3,222.8 612.73,223.29 614.15,222.8 615.58,223.76 617,223.48 618.42,224.82 619.85,224.62 621.27,226.38 622.7,226.04 624.12,227.66 625.55,227.7 626.97,229.12 628.4,228.85 629.83,230.49 631.25,230.06 632.67,231.78 634.1,231.91 635.52,231.93 636.95,231.18 638.38,231.55 639.8,230.2 641.23,231.09 642.65,230.51 644.08,230.94 645.5,229.28 646.92,230.58 648.35,229.14 649.78,229.78 651.2,229.1 652.62,229.52 654.05,228.2 655.48,229.05 656.9,227.98 658.33,229.21 659.75,228.4 661.17,229.01 662.6,227.91 664.02,228.82 665.45,227.64 666.88,228.25 668.3,227.7" fill="none" stroke="#2d5ca8" stroke-width="0.6" stroke-linejoin="round"/>
<polyline points="497.3,368.2 498.78,368.46 500.26,367.94 501.75,368.39 503.23,368.06 504.71,368.29 506.19,368.2 506.19,232.48 507.65,232.71 509.1,232.29 510.55,232.73 512.01,232.31 513.46,232.73 514.91,232.33 516.37,232.74 517.82,232.48 517.82,230.51 519.29,230.75 520.75,230.33 522.22,230.71 523.68,230.28 525.15,230.64 526.61,230.3 528.08,230.51 528.08,229.1 529.45,229.36 530.82,228.96 532.18,229.36 533.55,228.87 534.92,229.37 536.29,228.94 537.66,229.21 539.02,228.85 540.39,229.36 541.76,228.92 543.13,229.21 544.5,228.97 545.86,229.33 547.23,228.95 548.6,229.1 548.6,227.7 549.97,227.99 551.34,227.49 552.7,227.83 554.07,227.47 555.44,227.87 556.81,227.41 558.18,227.98 559.54,227.5 560.91,227.93 562.28,227.46 563.65,227.96 565.02,227.4 566.38,227.8 567.75,227.53 569.12,227.7 570.83,227.45 572.54,226.61 574.25,226.29 575.57,226.56 576.88,226.29 578.2,226.73 579.51,226.31 580.83,226.68 582.14,226.39 583.46,226.83 584.77,226.6 586.09,226.97 587.4,226.72 588.72,227.02 590.03,226.67 591.35,227 592.67,227.29 593.98,227.01 595.3,227.41 596.61,227.12 597.93,227.43 599.24,227.04 600.56,227.6 601.87,227.28 603.19,227.65 604.5,227.37 605.82,227.71 607.13,227.35 608.45,227.7 609.8,227.84 611.15,227.6 612.5,228.06 613.85,227.67 615.2,228.18 616.55,227.78 617.9,228.25 619.25,227.72 620.6,228.26 621.95,227.79 623.3,228.29 624.65,227.88 626,228.44 627.35,228.02 628.7,228.44 630.05,228.05 631.4,228.5 632.75,228.26 634.1,228.4 635.42,228.6 636.73,228.15 638.05,228.43 639.36,227.93 640.68,228.26 641.99,227.98 643.31,228.14 644.62,227.76 645.94,228.08 647.25,227.72 648.57,227.99 649.88,227.47 651.2,227.7 652.52,227.84 653.83,227.52 655.15,227.97 656.46,227.48 657.78,227.85 659.09,227.51 660.41,227.89 661.72,227.58 663.04,227.87 664.35,227.55 665.67,227.96 666.98,227.54 668.3,227.7" fill="none" stroke="#e03a3a" stroke-width="0.6" stroke-linejoin="round"/>
<line x1="595.5" y1="345.4" x2="600.2" y2="345.4" stroke="#e05a5a" stroke-width="0.7"/>
<text x="603.5" y="345.4" font-size="4.6" fill="#000" font-weight="bold" class="sf">AUC of 1 year = 0.946</text>
<line x1="595.5" y1="349.6" x2="600.2" y2="349.6" stroke="#7fc97f" stroke-width="0.7"/>
<text x="603.5" y="349.6" font-size="4.6" fill="#000" font-weight="bold" class="sf">AUC of 3 year = 0.869</text>
<line x1="595.5" y1="353.8" x2="600.2" y2="353.8" stroke="#6d8fd0" stroke-width="0.7"/>
<text x="603.5" y="353.8" font-size="4.6" fill="#000" font-weight="bold" class="sf">AUC of 5 year = 0.857</text>
<line x1="31.7" y1="421" x2="31.7" y2="558" stroke="#4a4a4a" stroke-width="1"/>
<line x1="31.7" y1="558" x2="332.4" y2="558" stroke="#4a4a4a" stroke-width="1"/>
<line x1="29.7" y1="554.3" x2="31.7" y2="554.3" stroke="#333" stroke-width="0.6"/>
<text x="28.9" y="554.3" font-size="6.6" fill="#1a1a1a" text-anchor="end">0</text>
<line x1="29.7" y1="515.9" x2="31.7" y2="515.9" stroke="#333" stroke-width="0.6"/>
<text x="28.9" y="515.9" font-size="6.6" fill="#1a1a1a" text-anchor="end">1</text>
<line x1="29.7" y1="477.5" x2="31.7" y2="477.5" stroke="#333" stroke-width="0.6"/>
<text x="28.9" y="477.5" font-size="6.6" fill="#1a1a1a" text-anchor="end">2</text>
<line x1="29.7" y1="439.1" x2="31.7" y2="439.1" stroke="#333" stroke-width="0.6"/>
<text x="28.9" y="439.1" font-size="6.6" fill="#1a1a1a" text-anchor="end">3</text>
<line x1="88.4" y1="558" x2="88.4" y2="560" stroke="#333" stroke-width="0.6"/>
<text x="90.4" y="563" font-size="6.8" fill="#000" text-anchor="end" transform="rotate(-57 90.4 563)">FLNC</text>
<text x="88.4" y="424.6" font-size="6" fill="#111" text-anchor="middle">****</text>
<line x1="182.6" y1="558" x2="182.6" y2="560" stroke="#333" stroke-width="0.6"/>
<text x="184.6" y="563" font-size="6.8" fill="#000" text-anchor="end" transform="rotate(-57 184.6 563)">IL18</text>
<text x="182.6" y="424.6" font-size="6" fill="#111" text-anchor="middle">****</text>
<line x1="276.5" y1="558" x2="276.5" y2="560" stroke="#333" stroke-width="0.6"/>
<text x="278.5" y="563" font-size="6.8" fill="#000" text-anchor="end" transform="rotate(-57 278.5 563)">MMP17</text>
<text x="276.5" y="424.6" font-size="6" fill="#111" text-anchor="middle">****</text>
<text x="20.1" y="489.4" font-size="6.6" fill="#000" text-anchor="middle" transform="rotate(-90 20.1 489.4)">Gene expression</text>
<text x="137.9" y="406" font-size="6.4" fill="#000">type</text>
<rect x="155" y="403.1" width="7.7" height="5.8" fill="none" stroke="#e41a1c" stroke-width="0.75"/>
<line x1="158.85" y1="401.7" x2="158.85" y2="403.1" stroke="#e41a1c" stroke-width="0.6"/>
<line x1="158.85" y1="408.9" x2="158.85" y2="410.3" stroke="#e41a1c" stroke-width="0.6"/>
<line x1="155" y1="406" x2="162.7" y2="406" stroke="#e41a1c" stroke-width="0.6"/>
<circle cx="158.85" cy="406" r="1.2" fill="#e41a1c"/>
<text x="167.1" y="406" font-size="5.5" fill="#000">HighRisk</text>
<rect x="193.4" y="403.1" width="7.7" height="5.8" fill="none" stroke="#1f4e9d" stroke-width="0.75"/>
<line x1="197.25" y1="401.7" x2="197.25" y2="403.1" stroke="#1f4e9d" stroke-width="0.6"/>
<line x1="197.25" y1="408.9" x2="197.25" y2="410.3" stroke="#1f4e9d" stroke-width="0.6"/>
<line x1="193.4" y1="406" x2="201.1" y2="406" stroke="#1f4e9d" stroke-width="0.6"/>
<circle cx="197.25" cy="406" r="1.2" fill="#1f4e9d"/>
<text x="206.1" y="406" font-size="5.5" fill="#000">LowRisk</text>
<line x1="69.6" y1="429.88" x2="69.6" y2="444.21" stroke="#e41a1c" stroke-width="0.7"/>
<line x1="69.6" y1="454.61" x2="69.6" y2="467.52" stroke="#e41a1c" stroke-width="0.7"/>
<rect x="52.9" y="444.21" width="33.4" height="10.41" fill="none" stroke="#e41a1c" stroke-width="0.75"/>
<line x1="52.9" y1="449.47" x2="86.3" y2="449.47" stroke="#e41a1c" stroke-width="0.9"/>
<circle cx="72.03" cy="450.13" r="1.35" fill="#e41a1c"/>
<circle cx="69.27" cy="462.23" r="1.35" fill="#e41a1c"/>
<circle cx="77.18" cy="447.93" r="1.35" fill="#e41a1c"/>
<circle cx="67.49" cy="450.28" r="1.35" fill="#e41a1c"/>
<circle cx="67.61" cy="458.62" r="1.35" fill="#e41a1c"/>
<circle cx="76.07" cy="449.86" r="1.35" fill="#e41a1c"/>
<circle cx="64.02" cy="461.89" r="1.35" fill="#e41a1c"/>
<circle cx="65.85" cy="450.51" r="1.35" fill="#e41a1c"/>
<circle cx="75.67" cy="449.99" r="1.35" fill="#e41a1c"/>
<circle cx="61.62" cy="438.89" r="1.35" fill="#e41a1c"/>
<circle cx="75.79" cy="455.6" r="1.35" fill="#e41a1c"/>
<circle cx="73.18" cy="443.07" r="1.35" fill="#e41a1c"/>
<circle cx="68.36" cy="467.45" r="1.35" fill="#e41a1c"/>
<circle cx="65.67" cy="441.85" r="1.35" fill="#e41a1c"/>
<circle cx="74.77" cy="445.08" r="1.35" fill="#e41a1c"/>
<circle cx="77.16" cy="440.79" r="1.35" fill="#e41a1c"/>
<circle cx="63.03" cy="451.61" r="1.35" fill="#e41a1c"/>
<circle cx="69.2" cy="439.22" r="1.35" fill="#e41a1c"/>
<circle cx="70.5" cy="453.45" r="1.35" fill="#e41a1c"/>
<circle cx="69.56" cy="451.52" r="1.35" fill="#e41a1c"/>
<circle cx="66.49" cy="442.99" r="1.35" fill="#e41a1c"/>
<circle cx="63.22" cy="465.06" r="1.35" fill="#e41a1c"/>
<circle cx="71.18" cy="449.94" r="1.35" fill="#e41a1c"/>
<circle cx="75.34" cy="449.82" r="1.35" fill="#e41a1c"/>
<circle cx="61.66" cy="454.35" r="1.35" fill="#e41a1c"/>
<circle cx="64.63" cy="437.14" r="1.35" fill="#e41a1c"/>
<circle cx="75.48" cy="460.6" r="1.35" fill="#e41a1c"/>
<circle cx="74.97" cy="430.82" r="1.35" fill="#e41a1c"/>
<circle cx="72.61" cy="439.3" r="1.35" fill="#e41a1c"/>
<circle cx="60.87" cy="448.15" r="1.35" fill="#e41a1c"/>
<circle cx="73.7" cy="437.87" r="1.35" fill="#e41a1c"/>
<circle cx="78.41" cy="450.32" r="1.35" fill="#e41a1c"/>
<circle cx="78.77" cy="460.71" r="1.35" fill="#e41a1c"/>
<circle cx="73.3" cy="449.93" r="1.35" fill="#e41a1c"/>
<circle cx="61.3" cy="448.87" r="1.35" fill="#e41a1c"/>
<circle cx="75.89" cy="465.99" r="1.35" fill="#e41a1c"/>
<circle cx="64.43" cy="454.82" r="1.35" fill="#e41a1c"/>
<circle cx="72.28" cy="442.54" r="1.35" fill="#e41a1c"/>
<circle cx="77.92" cy="439.35" r="1.35" fill="#e41a1c"/>
<circle cx="73.51" cy="448.22" r="1.35" fill="#e41a1c"/>
<circle cx="62.88" cy="450.98" r="1.35" fill="#e41a1c"/>
<circle cx="65.78" cy="454.69" r="1.35" fill="#e41a1c"/>
<circle cx="77.29" cy="443.77" r="1.35" fill="#e41a1c"/>
<circle cx="63.16" cy="452.69" r="1.35" fill="#e41a1c"/>
<circle cx="71.64" cy="451.86" r="1.35" fill="#e41a1c"/>
<circle cx="68.02" cy="443.68" r="1.35" fill="#e41a1c"/>
<circle cx="63.37" cy="461.91" r="1.35" fill="#e41a1c"/>
<circle cx="71.85" cy="445.21" r="1.35" fill="#e41a1c"/>
<circle cx="61.2" cy="430.38" r="1.35" fill="#e41a1c"/>
<circle cx="62.39" cy="449.56" r="1.35" fill="#e41a1c"/>
<circle cx="67.38" cy="448.7" r="1.35" fill="#e41a1c"/>
<circle cx="61.72" cy="439.86" r="1.35" fill="#e41a1c"/>
<circle cx="61.46" cy="451.61" r="1.35" fill="#e41a1c"/>
<circle cx="70.98" cy="448.32" r="1.35" fill="#e41a1c"/>
<circle cx="74.06" cy="448.94" r="1.35" fill="#e41a1c"/>
<circle cx="76.56" cy="441.53" r="1.35" fill="#e41a1c"/>
<circle cx="62.87" cy="440.95" r="1.35" fill="#e41a1c"/>
<circle cx="68.34" cy="448.66" r="1.35" fill="#e41a1c"/>
<circle cx="66.19" cy="452.78" r="1.35" fill="#e41a1c"/>
<circle cx="71.44" cy="435.73" r="1.35" fill="#e41a1c"/>
<circle cx="69.41" cy="441.53" r="1.35" fill="#e41a1c"/>
<circle cx="77.67" cy="457.42" r="1.35" fill="#e41a1c"/>
<circle cx="67.29" cy="447.08" r="1.35" fill="#e41a1c"/>
<circle cx="61.43" cy="451.33" r="1.35" fill="#e41a1c"/>
<circle cx="73.23" cy="453.33" r="1.35" fill="#e41a1c"/>
<circle cx="63.18" cy="442.41" r="1.35" fill="#e41a1c"/>
<circle cx="72.02" cy="455.36" r="1.35" fill="#e41a1c"/>
<circle cx="69.71" cy="455.51" r="1.35" fill="#e41a1c"/>
<circle cx="77.15" cy="457.27" r="1.35" fill="#e41a1c"/>
<circle cx="70.61" cy="444.9" r="1.35" fill="#e41a1c"/>
<circle cx="71.82" cy="454.5" r="1.35" fill="#e41a1c"/>
<circle cx="65.24" cy="453.08" r="1.35" fill="#e41a1c"/>
<circle cx="70.55" cy="459.43" r="1.35" fill="#e41a1c"/>
<circle cx="65.08" cy="451.11" r="1.35" fill="#e41a1c"/>
<circle cx="74.21" cy="455.06" r="1.35" fill="#e41a1c"/>
<circle cx="69.91" cy="451.64" r="1.35" fill="#e41a1c"/>
<circle cx="62.86" cy="455.05" r="1.35" fill="#e41a1c"/>
<circle cx="64.71" cy="450.43" r="1.35" fill="#e41a1c"/>
<circle cx="67.23" cy="450" r="1.35" fill="#e41a1c"/>
<circle cx="73.96" cy="453.25" r="1.35" fill="#e41a1c"/>
<circle cx="63.7" cy="456.52" r="1.35" fill="#e41a1c"/>
<circle cx="73.52" cy="447.51" r="1.35" fill="#e41a1c"/>
<circle cx="72.45" cy="455.81" r="1.35" fill="#e41a1c"/>
<circle cx="61.97" cy="446.33" r="1.35" fill="#e41a1c"/>
<circle cx="72.69" cy="455.34" r="1.35" fill="#e41a1c"/>
<circle cx="62.08" cy="456.88" r="1.35" fill="#e41a1c"/>
<circle cx="62.7" cy="453.72" r="1.35" fill="#e41a1c"/>
<circle cx="71.33" cy="450.26" r="1.35" fill="#e41a1c"/>
<circle cx="64.79" cy="460.36" r="1.35" fill="#e41a1c"/>
<circle cx="76.54" cy="447.9" r="1.35" fill="#e41a1c"/>
<circle cx="69.24" cy="443.57" r="1.35" fill="#e41a1c"/>
<circle cx="66.35" cy="438.45" r="1.35" fill="#e41a1c"/>
<circle cx="75.05" cy="458.29" r="1.35" fill="#e41a1c"/>
<circle cx="60.94" cy="444.68" r="1.35" fill="#e41a1c"/>
<circle cx="73.74" cy="449.78" r="1.35" fill="#e41a1c"/>
<circle cx="61.39" cy="451.14" r="1.35" fill="#e41a1c"/>
<circle cx="63.17" cy="452.43" r="1.35" fill="#e41a1c"/>
<circle cx="77.92" cy="453.55" r="1.35" fill="#e41a1c"/>
<circle cx="72.93" cy="441.64" r="1.35" fill="#e41a1c"/>
<circle cx="64.5" cy="447.36" r="1.35" fill="#e41a1c"/>
<circle cx="62.54" cy="462.49" r="1.35" fill="#e41a1c"/>
<circle cx="78.3" cy="447.51" r="1.35" fill="#e41a1c"/>
<circle cx="72.64" cy="450" r="1.35" fill="#e41a1c"/>
<circle cx="75.5" cy="445.19" r="1.35" fill="#e41a1c"/>
<circle cx="62.97" cy="453.93" r="1.35" fill="#e41a1c"/>
<circle cx="71.9" cy="452.31" r="1.35" fill="#e41a1c"/>
<circle cx="66.92" cy="452.26" r="1.35" fill="#e41a1c"/>
<circle cx="64.72" cy="452.46" r="1.35" fill="#e41a1c"/>
<circle cx="66.53" cy="447.57" r="1.35" fill="#e41a1c"/>
<circle cx="71.69" cy="439.82" r="1.35" fill="#e41a1c"/>
<circle cx="66.82" cy="447" r="1.35" fill="#e41a1c"/>
<circle cx="67.5" cy="447.24" r="1.35" fill="#e41a1c"/>
<circle cx="62.91" cy="436.66" r="1.35" fill="#e41a1c"/>
<circle cx="75.69" cy="452.9" r="1.35" fill="#e41a1c"/>
<circle cx="72.32" cy="453.78" r="1.35" fill="#e41a1c"/>
<circle cx="75.2" cy="445.09" r="1.35" fill="#e41a1c"/>
<circle cx="68.37" cy="454.84" r="1.35" fill="#e41a1c"/>
<circle cx="76.07" cy="439.84" r="1.35" fill="#e41a1c"/>
<circle cx="69.92" cy="451.43" r="1.35" fill="#e41a1c"/>
<circle cx="71.3" cy="446.04" r="1.35" fill="#e41a1c"/>
<circle cx="70.95" cy="449.45" r="1.35" fill="#e41a1c"/>
<circle cx="74.02" cy="443.06" r="1.35" fill="#e41a1c"/>
<circle cx="67.68" cy="441.65" r="1.35" fill="#e41a1c"/>
<circle cx="62.18" cy="454.14" r="1.35" fill="#e41a1c"/>
<circle cx="61.01" cy="447.33" r="1.35" fill="#e41a1c"/>
<circle cx="64.12" cy="462.78" r="1.35" fill="#e41a1c"/>
<circle cx="61.13" cy="436.93" r="1.35" fill="#e41a1c"/>
<circle cx="76.76" cy="450.71" r="1.35" fill="#e41a1c"/>
<circle cx="69.25" cy="458.17" r="1.35" fill="#e41a1c"/>
<circle cx="74.39" cy="430.71" r="1.35" fill="#e41a1c"/>
<circle cx="60.41" cy="453.09" r="1.35" fill="#e41a1c"/>
<circle cx="69.05" cy="448.94" r="1.35" fill="#e41a1c"/>
<circle cx="76.77" cy="452.82" r="1.35" fill="#e41a1c"/>
<circle cx="71.8" cy="437.4" r="1.35" fill="#e41a1c"/>
<circle cx="68.29" cy="447.47" r="1.35" fill="#e41a1c"/>
<circle cx="68.97" cy="437.97" r="1.35" fill="#e41a1c"/>
<circle cx="62.24" cy="454.42" r="1.35" fill="#e41a1c"/>
<circle cx="63.25" cy="437.35" r="1.35" fill="#e41a1c"/>
<circle cx="63.33" cy="431.69" r="1.35" fill="#e41a1c"/>
<circle cx="67.29" cy="459.66" r="1.35" fill="#e41a1c"/>
<circle cx="67.5" cy="447.83" r="1.35" fill="#e41a1c"/>
<circle cx="76.6" cy="440.53" r="1.35" fill="#e41a1c"/>
<circle cx="63.2" cy="441.26" r="1.35" fill="#e41a1c"/>
<circle cx="65.07" cy="452.57" r="1.35" fill="#e41a1c"/>
<circle cx="65.5" cy="444.31" r="1.35" fill="#e41a1c"/>
<circle cx="63.37" cy="457.09" r="1.35" fill="#e41a1c"/>
<circle cx="65.68" cy="440.38" r="1.35" fill="#e41a1c"/>
<circle cx="64.73" cy="458.02" r="1.35" fill="#e41a1c"/>
<circle cx="69.27" cy="436.47" r="1.35" fill="#e41a1c"/>
<circle cx="60.99" cy="456.98" r="1.35" fill="#e41a1c"/>
<circle cx="77.41" cy="438.22" r="1.35" fill="#e41a1c"/>
<circle cx="67.19" cy="459.48" r="1.35" fill="#e41a1c"/>
<line x1="107.1" y1="443.4" x2="107.1" y2="455.11" stroke="#1f4e9d" stroke-width="0.7"/>
<line x1="107.1" y1="464.6" x2="107.1" y2="477.5" stroke="#1f4e9d" stroke-width="0.7"/>
<rect x="90.4" y="455.11" width="33.4" height="9.48" fill="none" stroke="#1f4e9d" stroke-width="0.75"/>
<line x1="90.4" y1="459.91" x2="123.8" y2="459.91" stroke="#1f4e9d" stroke-width="0.9"/>
<circle cx="113.55" cy="464.61" r="1.35" fill="#1f4e9d"/>
<circle cx="109.77" cy="463.32" r="1.35" fill="#1f4e9d"/>
<circle cx="114.95" cy="466.47" r="1.35" fill="#1f4e9d"/>
<circle cx="102.11" cy="454.7" r="1.35" fill="#1f4e9d"/>
<circle cx="110.72" cy="464.75" r="1.35" fill="#1f4e9d"/>
<circle cx="113.37" cy="469.32" r="1.35" fill="#1f4e9d"/>
<circle cx="106.67" cy="455.24" r="1.35" fill="#1f4e9d"/>
<circle cx="99.75" cy="463.82" r="1.35" fill="#1f4e9d"/>
<circle cx="101.46" cy="459.17" r="1.35" fill="#1f4e9d"/>
<circle cx="100.78" cy="462.7" r="1.35" fill="#1f4e9d"/>
<circle cx="99.61" cy="453.11" r="1.35" fill="#1f4e9d"/>
<circle cx="100.7" cy="460.69" r="1.35" fill="#1f4e9d"/>
<circle cx="109.23" cy="463.74" r="1.35" fill="#1f4e9d"/>
<circle cx="99.83" cy="451.14" r="1.35" fill="#1f4e9d"/>
<circle cx="111.85" cy="463.36" r="1.35" fill="#1f4e9d"/>
<circle cx="111.45" cy="457.6" r="1.35" fill="#1f4e9d"/>
<circle cx="112.92" cy="459.82" r="1.35" fill="#1f4e9d"/>
<circle cx="112.69" cy="451.99" r="1.35" fill="#1f4e9d"/>
<circle cx="111.02" cy="457.61" r="1.35" fill="#1f4e9d"/>
<circle cx="114.9" cy="461.62" r="1.35" fill="#1f4e9d"/>
<circle cx="115.51" cy="446.85" r="1.35" fill="#1f4e9d"/>
<circle cx="109.4" cy="457.56" r="1.35" fill="#1f4e9d"/>
<circle cx="115.66" cy="455.3" r="1.35" fill="#1f4e9d"/>
<circle cx="99.8" cy="463.95" r="1.35" fill="#1f4e9d"/>
<circle cx="99.79" cy="468.79" r="1.35" fill="#1f4e9d"/>
<circle cx="99.09" cy="458.29" r="1.35" fill="#1f4e9d"/>
<circle cx="101.7" cy="458.2" r="1.35" fill="#1f4e9d"/>
<circle cx="104.79" cy="459.34" r="1.35" fill="#1f4e9d"/>
<circle cx="106.34" cy="466.54" r="1.35" fill="#1f4e9d"/>
<circle cx="110.42" cy="460.27" r="1.35" fill="#1f4e9d"/>
<circle cx="111.57" cy="466.8" r="1.35" fill="#1f4e9d"/>
<circle cx="99.44" cy="459.02" r="1.35" fill="#1f4e9d"/>
<circle cx="105.32" cy="470.43" r="1.35" fill="#1f4e9d"/>
<circle cx="107.9" cy="467.38" r="1.35" fill="#1f4e9d"/>
<circle cx="104.8" cy="459.1" r="1.35" fill="#1f4e9d"/>
<circle cx="100.06" cy="465.64" r="1.35" fill="#1f4e9d"/>
<circle cx="108.89" cy="462.67" r="1.35" fill="#1f4e9d"/>
<circle cx="104.79" cy="455.12" r="1.35" fill="#1f4e9d"/>
<circle cx="110.48" cy="462.83" r="1.35" fill="#1f4e9d"/>
<circle cx="107.02" cy="459.38" r="1.35" fill="#1f4e9d"/>
<circle cx="115.61" cy="456.71" r="1.35" fill="#1f4e9d"/>
<circle cx="115.29" cy="451.16" r="1.35" fill="#1f4e9d"/>
<circle cx="99.23" cy="461.24" r="1.35" fill="#1f4e9d"/>
<circle cx="111.88" cy="469.15" r="1.35" fill="#1f4e9d"/>
<circle cx="111.17" cy="462.88" r="1.35" fill="#1f4e9d"/>
<circle cx="103.35" cy="456.73" r="1.35" fill="#1f4e9d"/>
<circle cx="100.05" cy="450.5" r="1.35" fill="#1f4e9d"/>
<circle cx="106.71" cy="470.69" r="1.35" fill="#1f4e9d"/>
<circle cx="104.42" cy="456.09" r="1.35" fill="#1f4e9d"/>
<circle cx="111.47" cy="454.35" r="1.35" fill="#1f4e9d"/>
<circle cx="114.8" cy="455.95" r="1.35" fill="#1f4e9d"/>
<circle cx="104.93" cy="472.98" r="1.35" fill="#1f4e9d"/>
<circle cx="103.25" cy="464.72" r="1.35" fill="#1f4e9d"/>
<circle cx="107.08" cy="466.22" r="1.35" fill="#1f4e9d"/>
<circle cx="110.72" cy="463.11" r="1.35" fill="#1f4e9d"/>
<circle cx="112.42" cy="449.78" r="1.35" fill="#1f4e9d"/>
<circle cx="108.49" cy="462.87" r="1.35" fill="#1f4e9d"/>
<circle cx="103.35" cy="457.47" r="1.35" fill="#1f4e9d"/>
<circle cx="104.1" cy="475.25" r="1.35" fill="#1f4e9d"/>
<circle cx="113.5" cy="465.85" r="1.35" fill="#1f4e9d"/>
<circle cx="107.45" cy="462.32" r="1.35" fill="#1f4e9d"/>
<circle cx="98.83" cy="451.46" r="1.35" fill="#1f4e9d"/>
<circle cx="105.64" cy="464.71" r="1.35" fill="#1f4e9d"/>
<circle cx="102.28" cy="475.77" r="1.35" fill="#1f4e9d"/>
<circle cx="110.16" cy="465.32" r="1.35" fill="#1f4e9d"/>
<circle cx="99.25" cy="451.37" r="1.35" fill="#1f4e9d"/>
<circle cx="102.89" cy="462.74" r="1.35" fill="#1f4e9d"/>
<circle cx="99.67" cy="463.71" r="1.35" fill="#1f4e9d"/>
<circle cx="106.69" cy="457.57" r="1.35" fill="#1f4e9d"/>
<circle cx="116.02" cy="455.46" r="1.35" fill="#1f4e9d"/>
<circle cx="107.86" cy="453.27" r="1.35" fill="#1f4e9d"/>
<circle cx="105.01" cy="455.38" r="1.35" fill="#1f4e9d"/>
<circle cx="115.08" cy="474.49" r="1.35" fill="#1f4e9d"/>
<circle cx="99.59" cy="454.79" r="1.35" fill="#1f4e9d"/>
<circle cx="104.45" cy="466.69" r="1.35" fill="#1f4e9d"/>
<circle cx="112.82" cy="466.68" r="1.35" fill="#1f4e9d"/>
<circle cx="97.99" cy="458.22" r="1.35" fill="#1f4e9d"/>
<circle cx="111.99" cy="452.48" r="1.35" fill="#1f4e9d"/>
<circle cx="104.54" cy="463.06" r="1.35" fill="#1f4e9d"/>
<circle cx="98.2" cy="450.36" r="1.35" fill="#1f4e9d"/>
<circle cx="102.52" cy="452.64" r="1.35" fill="#1f4e9d"/>
<circle cx="106.33" cy="444.15" r="1.35" fill="#1f4e9d"/>
<circle cx="104.94" cy="457.83" r="1.35" fill="#1f4e9d"/>
<circle cx="107.41" cy="455.1" r="1.35" fill="#1f4e9d"/>
<circle cx="98.88" cy="464.33" r="1.35" fill="#1f4e9d"/>
<circle cx="101.92" cy="457.37" r="1.35" fill="#1f4e9d"/>
<circle cx="115.83" cy="451.9" r="1.35" fill="#1f4e9d"/>
<circle cx="106.04" cy="459.59" r="1.35" fill="#1f4e9d"/>
<circle cx="106.58" cy="453.83" r="1.35" fill="#1f4e9d"/>
<circle cx="99.47" cy="453.07" r="1.35" fill="#1f4e9d"/>
<circle cx="103.04" cy="470.66" r="1.35" fill="#1f4e9d"/>
<circle cx="115.47" cy="452.23" r="1.35" fill="#1f4e9d"/>
<circle cx="110.54" cy="450.25" r="1.35" fill="#1f4e9d"/>
<circle cx="107.24" cy="471.72" r="1.35" fill="#1f4e9d"/>
<circle cx="98.88" cy="453.03" r="1.35" fill="#1f4e9d"/>
<circle cx="105.13" cy="456.26" r="1.35" fill="#1f4e9d"/>
<circle cx="112.22" cy="448.82" r="1.35" fill="#1f4e9d"/>
<circle cx="105.9" cy="453.95" r="1.35" fill="#1f4e9d"/>
<circle cx="108.82" cy="466.84" r="1.35" fill="#1f4e9d"/>
<circle cx="114.5" cy="452.1" r="1.35" fill="#1f4e9d"/>
<circle cx="109.77" cy="459.42" r="1.35" fill="#1f4e9d"/>
<circle cx="109.6" cy="464.3" r="1.35" fill="#1f4e9d"/>
<circle cx="98.56" cy="466.86" r="1.35" fill="#1f4e9d"/>
<circle cx="98.34" cy="456.25" r="1.35" fill="#1f4e9d"/>
<circle cx="112.06" cy="461.82" r="1.35" fill="#1f4e9d"/>
<circle cx="105.5" cy="466.23" r="1.35" fill="#1f4e9d"/>
<circle cx="113.99" cy="450.99" r="1.35" fill="#1f4e9d"/>
<circle cx="113.09" cy="464.54" r="1.35" fill="#1f4e9d"/>
<circle cx="114.74" cy="458.04" r="1.35" fill="#1f4e9d"/>
<circle cx="104.87" cy="465.83" r="1.35" fill="#1f4e9d"/>
<circle cx="116.28" cy="465.21" r="1.35" fill="#1f4e9d"/>
<circle cx="111.81" cy="474.52" r="1.35" fill="#1f4e9d"/>
<circle cx="114.31" cy="460.66" r="1.35" fill="#1f4e9d"/>
<circle cx="100.63" cy="459.29" r="1.35" fill="#1f4e9d"/>
<circle cx="112.27" cy="470.25" r="1.35" fill="#1f4e9d"/>
<circle cx="105.67" cy="461.51" r="1.35" fill="#1f4e9d"/>
<circle cx="115.79" cy="451.81" r="1.35" fill="#1f4e9d"/>
<circle cx="116.19" cy="449.66" r="1.35" fill="#1f4e9d"/>
<circle cx="101.89" cy="451.95" r="1.35" fill="#1f4e9d"/>
<circle cx="105.65" cy="465.92" r="1.35" fill="#1f4e9d"/>
<circle cx="102.88" cy="463.34" r="1.35" fill="#1f4e9d"/>
<circle cx="106.55" cy="462.79" r="1.35" fill="#1f4e9d"/>
<circle cx="103.17" cy="458.7" r="1.35" fill="#1f4e9d"/>
<circle cx="110.16" cy="453.41" r="1.35" fill="#1f4e9d"/>
<circle cx="100.17" cy="459.79" r="1.35" fill="#1f4e9d"/>
<circle cx="101.01" cy="448.32" r="1.35" fill="#1f4e9d"/>
<circle cx="106.32" cy="468.39" r="1.35" fill="#1f4e9d"/>
<circle cx="99.26" cy="452.17" r="1.35" fill="#1f4e9d"/>
<circle cx="104.91" cy="453.6" r="1.35" fill="#1f4e9d"/>
<circle cx="114.41" cy="469.51" r="1.35" fill="#1f4e9d"/>
<circle cx="114.19" cy="450.2" r="1.35" fill="#1f4e9d"/>
<circle cx="101.52" cy="460.92" r="1.35" fill="#1f4e9d"/>
<circle cx="98.24" cy="450.84" r="1.35" fill="#1f4e9d"/>
<circle cx="113.14" cy="467.41" r="1.35" fill="#1f4e9d"/>
<circle cx="115.58" cy="468.18" r="1.35" fill="#1f4e9d"/>
<circle cx="108.92" cy="458.2" r="1.35" fill="#1f4e9d"/>
<circle cx="100.41" cy="452.28" r="1.35" fill="#1f4e9d"/>
<circle cx="102.25" cy="467.21" r="1.35" fill="#1f4e9d"/>
<circle cx="114.83" cy="473.87" r="1.35" fill="#1f4e9d"/>
<circle cx="115.15" cy="462.46" r="1.35" fill="#1f4e9d"/>
<circle cx="98.47" cy="473.36" r="1.35" fill="#1f4e9d"/>
<circle cx="101.3" cy="470.4" r="1.35" fill="#1f4e9d"/>
<circle cx="105.79" cy="473.56" r="1.35" fill="#1f4e9d"/>
<circle cx="102.81" cy="463.23" r="1.35" fill="#1f4e9d"/>
<circle cx="111.77" cy="462.44" r="1.35" fill="#1f4e9d"/>
<circle cx="104.76" cy="465.98" r="1.35" fill="#1f4e9d"/>
<circle cx="112.16" cy="467.88" r="1.35" fill="#1f4e9d"/>
<circle cx="100.7" cy="460.97" r="1.35" fill="#1f4e9d"/>
<circle cx="107.44" cy="454.39" r="1.35" fill="#1f4e9d"/>
<circle cx="115.84" cy="493.09" r="1.35" fill="#1f4e9d"/>
<circle cx="110.82" cy="482.11" r="1.35" fill="#1f4e9d"/>
<circle cx="99.56" cy="479.42" r="1.35" fill="#1f4e9d"/>
<circle cx="99.94" cy="484.03" r="1.35" fill="#1f4e9d"/>
<line x1="164" y1="432.19" x2="164" y2="441.4" stroke="#e41a1c" stroke-width="0.7"/>
<line x1="164" y1="454.61" x2="164" y2="475.58" stroke="#e41a1c" stroke-width="0.7"/>
<rect x="147.3" y="441.4" width="33.4" height="13.21" fill="none" stroke="#e41a1c" stroke-width="0.75"/>
<line x1="147.3" y1="446.59" x2="180.7" y2="446.59" stroke="#e41a1c" stroke-width="0.9"/>
<circle cx="156.76" cy="448.71" r="1.35" fill="#e41a1c"/>
<circle cx="163.23" cy="453.63" r="1.35" fill="#e41a1c"/>
<circle cx="162.87" cy="438.96" r="1.35" fill="#e41a1c"/>
<circle cx="169.57" cy="445.91" r="1.35" fill="#e41a1c"/>
<circle cx="163.57" cy="434.79" r="1.35" fill="#e41a1c"/>
<circle cx="164.4" cy="447.16" r="1.35" fill="#e41a1c"/>
<circle cx="155.26" cy="451.43" r="1.35" fill="#e41a1c"/>
<circle cx="169.43" cy="445.79" r="1.35" fill="#e41a1c"/>
<circle cx="168.92" cy="459.01" r="1.35" fill="#e41a1c"/>
<circle cx="166.27" cy="453.86" r="1.35" fill="#e41a1c"/>
<circle cx="170.16" cy="458.85" r="1.35" fill="#e41a1c"/>
<circle cx="166.1" cy="456.93" r="1.35" fill="#e41a1c"/>
<circle cx="167.97" cy="462.66" r="1.35" fill="#e41a1c"/>
<circle cx="170.46" cy="458.25" r="1.35" fill="#e41a1c"/>
<circle cx="166.16" cy="463.72" r="1.35" fill="#e41a1c"/>
<circle cx="155.17" cy="451.5" r="1.35" fill="#e41a1c"/>
<circle cx="171.08" cy="467.46" r="1.35" fill="#e41a1c"/>
<circle cx="173.01" cy="448.35" r="1.35" fill="#e41a1c"/>
<circle cx="158.5" cy="441.38" r="1.35" fill="#e41a1c"/>
<circle cx="156.02" cy="456.11" r="1.35" fill="#e41a1c"/>
<circle cx="161.06" cy="455.48" r="1.35" fill="#e41a1c"/>
<circle cx="156.64" cy="448.21" r="1.35" fill="#e41a1c"/>
<circle cx="161.6" cy="462.83" r="1.35" fill="#e41a1c"/>
<circle cx="156.44" cy="460.35" r="1.35" fill="#e41a1c"/>
<circle cx="158.85" cy="452.06" r="1.35" fill="#e41a1c"/>
<circle cx="154.86" cy="443.94" r="1.35" fill="#e41a1c"/>
<circle cx="162.69" cy="471.76" r="1.35" fill="#e41a1c"/>
<circle cx="160.32" cy="436.92" r="1.35" fill="#e41a1c"/>
<circle cx="168.21" cy="433.6" r="1.35" fill="#e41a1c"/>
<circle cx="161.95" cy="449.16" r="1.35" fill="#e41a1c"/>
<circle cx="157.85" cy="440.49" r="1.35" fill="#e41a1c"/>
<circle cx="172.34" cy="457.81" r="1.35" fill="#e41a1c"/>
<circle cx="171.26" cy="446.4" r="1.35" fill="#e41a1c"/>
<circle cx="167.48" cy="439.47" r="1.35" fill="#e41a1c"/>
<circle cx="158.79" cy="442.05" r="1.35" fill="#e41a1c"/>
<circle cx="162.21" cy="473.33" r="1.35" fill="#e41a1c"/>
<circle cx="163.1" cy="450.01" r="1.35" fill="#e41a1c"/>
<circle cx="162.32" cy="443.88" r="1.35" fill="#e41a1c"/>
<circle cx="155.28" cy="446.42" r="1.35" fill="#e41a1c"/>
<circle cx="163.19" cy="444.8" r="1.35" fill="#e41a1c"/>
<circle cx="168.93" cy="448.47" r="1.35" fill="#e41a1c"/>
<circle cx="167.56" cy="444.29" r="1.35" fill="#e41a1c"/>
<circle cx="170.63" cy="451.5" r="1.35" fill="#e41a1c"/>
<circle cx="167.37" cy="450.76" r="1.35" fill="#e41a1c"/>
<circle cx="168.83" cy="472.8" r="1.35" fill="#e41a1c"/>
<circle cx="170.82" cy="443.76" r="1.35" fill="#e41a1c"/>
<circle cx="171.68" cy="444.72" r="1.35" fill="#e41a1c"/>
<circle cx="169.39" cy="435.25" r="1.35" fill="#e41a1c"/>
<circle cx="162.46" cy="447.67" r="1.35" fill="#e41a1c"/>
<circle cx="166.94" cy="455.72" r="1.35" fill="#e41a1c"/>
<circle cx="166.91" cy="442.84" r="1.35" fill="#e41a1c"/>
<circle cx="171.04" cy="446.74" r="1.35" fill="#e41a1c"/>
<circle cx="167.93" cy="446.11" r="1.35" fill="#e41a1c"/>
<circle cx="162.96" cy="438.26" r="1.35" fill="#e41a1c"/>
<circle cx="158.31" cy="452.48" r="1.35" fill="#e41a1c"/>
<circle cx="160.83" cy="448.44" r="1.35" fill="#e41a1c"/>
<circle cx="159.41" cy="460.27" r="1.35" fill="#e41a1c"/>
<circle cx="167.35" cy="457.13" r="1.35" fill="#e41a1c"/>
<circle cx="168.96" cy="449.89" r="1.35" fill="#e41a1c"/>
<circle cx="158.33" cy="454.27" r="1.35" fill="#e41a1c"/>
<circle cx="164.62" cy="451.17" r="1.35" fill="#e41a1c"/>
<circle cx="170.26" cy="464.59" r="1.35" fill="#e41a1c"/>
<circle cx="161.53" cy="463.96" r="1.35" fill="#e41a1c"/>
<circle cx="156.54" cy="455.51" r="1.35" fill="#e41a1c"/>
<circle cx="165.94" cy="437.2" r="1.35" fill="#e41a1c"/>
<circle cx="161.47" cy="453.39" r="1.35" fill="#e41a1c"/>
<circle cx="157.45" cy="442.89" r="1.35" fill="#e41a1c"/>
<circle cx="160.1" cy="463.51" r="1.35" fill="#e41a1c"/>
<circle cx="154.93" cy="464.33" r="1.35" fill="#e41a1c"/>
<circle cx="157.54" cy="441.09" r="1.35" fill="#e41a1c"/>
<circle cx="162.63" cy="451.15" r="1.35" fill="#e41a1c"/>
<circle cx="156.73" cy="442.22" r="1.35" fill="#e41a1c"/>
<circle cx="154.91" cy="447.82" r="1.35" fill="#e41a1c"/>
<circle cx="164.92" cy="436.31" r="1.35" fill="#e41a1c"/>
<circle cx="172.42" cy="438.82" r="1.35" fill="#e41a1c"/>
<circle cx="170.15" cy="439.08" r="1.35" fill="#e41a1c"/>
<circle cx="160.8" cy="447.74" r="1.35" fill="#e41a1c"/>
<circle cx="171.81" cy="453.57" r="1.35" fill="#e41a1c"/>
<circle cx="156.27" cy="443.85" r="1.35" fill="#e41a1c"/>
<circle cx="157.57" cy="444.7" r="1.35" fill="#e41a1c"/>
<circle cx="154.93" cy="444.35" r="1.35" fill="#e41a1c"/>
<circle cx="155.88" cy="448.98" r="1.35" fill="#e41a1c"/>
<circle cx="165.87" cy="452.2" r="1.35" fill="#e41a1c"/>
<circle cx="168.73" cy="439.09" r="1.35" fill="#e41a1c"/>
<circle cx="163.59" cy="440.83" r="1.35" fill="#e41a1c"/>
<circle cx="169.58" cy="451.06" r="1.35" fill="#e41a1c"/>
<circle cx="163.1" cy="438.09" r="1.35" fill="#e41a1c"/>
<circle cx="171.7" cy="439.75" r="1.35" fill="#e41a1c"/>
<circle cx="165.99" cy="450.73" r="1.35" fill="#e41a1c"/>
<circle cx="164.68" cy="445.69" r="1.35" fill="#e41a1c"/>
<circle cx="157.94" cy="452.26" r="1.35" fill="#e41a1c"/>
<circle cx="162.65" cy="432.74" r="1.35" fill="#e41a1c"/>
<circle cx="162.9" cy="453.3" r="1.35" fill="#e41a1c"/>
<circle cx="169.94" cy="443.81" r="1.35" fill="#e41a1c"/>
<circle cx="159.03" cy="452.2" r="1.35" fill="#e41a1c"/>
<circle cx="160.22" cy="443.85" r="1.35" fill="#e41a1c"/>
<circle cx="169.83" cy="456.1" r="1.35" fill="#e41a1c"/>
<circle cx="156.1" cy="437.85" r="1.35" fill="#e41a1c"/>
<circle cx="164.68" cy="442.41" r="1.35" fill="#e41a1c"/>
<circle cx="158.84" cy="473.26" r="1.35" fill="#e41a1c"/>
<circle cx="167.04" cy="456.96" r="1.35" fill="#e41a1c"/>
<circle cx="165.74" cy="465.66" r="1.35" fill="#e41a1c"/>
<circle cx="156.54" cy="439.47" r="1.35" fill="#e41a1c"/>
<circle cx="168.24" cy="449.79" r="1.35" fill="#e41a1c"/>
<circle cx="162.29" cy="445.92" r="1.35" fill="#e41a1c"/>
<circle cx="160.7" cy="466.78" r="1.35" fill="#e41a1c"/>
<circle cx="170.56" cy="458.98" r="1.35" fill="#e41a1c"/>
<circle cx="169.13" cy="468.3" r="1.35" fill="#e41a1c"/>
<circle cx="160.5" cy="456.21" r="1.35" fill="#e41a1c"/>
<circle cx="167.27" cy="439.27" r="1.35" fill="#e41a1c"/>
<circle cx="157.07" cy="450.4" r="1.35" fill="#e41a1c"/>
<circle cx="164.35" cy="434.52" r="1.35" fill="#e41a1c"/>
<circle cx="156.32" cy="432.82" r="1.35" fill="#e41a1c"/>
<circle cx="166.59" cy="442.42" r="1.35" fill="#e41a1c"/>
<circle cx="171.65" cy="441.88" r="1.35" fill="#e41a1c"/>
<circle cx="166.51" cy="453.36" r="1.35" fill="#e41a1c"/>
<circle cx="155.55" cy="454.68" r="1.35" fill="#e41a1c"/>
<circle cx="164.24" cy="448.23" r="1.35" fill="#e41a1c"/>
<circle cx="163.44" cy="438.54" r="1.35" fill="#e41a1c"/>
<circle cx="162.95" cy="457.35" r="1.35" fill="#e41a1c"/>
<circle cx="157.58" cy="441.87" r="1.35" fill="#e41a1c"/>
<circle cx="159.92" cy="447.29" r="1.35" fill="#e41a1c"/>
<circle cx="163.07" cy="446.64" r="1.35" fill="#e41a1c"/>
<circle cx="156.11" cy="447" r="1.35" fill="#e41a1c"/>
<circle cx="167.21" cy="438.5" r="1.35" fill="#e41a1c"/>
<circle cx="159.28" cy="457.28" r="1.35" fill="#e41a1c"/>
<circle cx="160.14" cy="450.32" r="1.35" fill="#e41a1c"/>
<circle cx="156.47" cy="454" r="1.35" fill="#e41a1c"/>
<circle cx="160.37" cy="449.6" r="1.35" fill="#e41a1c"/>
<circle cx="171.93" cy="458.8" r="1.35" fill="#e41a1c"/>
<circle cx="160.17" cy="447.04" r="1.35" fill="#e41a1c"/>
<circle cx="156.57" cy="446.57" r="1.35" fill="#e41a1c"/>
<circle cx="161.16" cy="445.18" r="1.35" fill="#e41a1c"/>
<circle cx="172.19" cy="448.9" r="1.35" fill="#e41a1c"/>
<circle cx="156.42" cy="442.11" r="1.35" fill="#e41a1c"/>
<circle cx="161.1" cy="442.41" r="1.35" fill="#e41a1c"/>
<circle cx="158.65" cy="445.32" r="1.35" fill="#e41a1c"/>
<circle cx="167.35" cy="450.62" r="1.35" fill="#e41a1c"/>
<circle cx="163.29" cy="451.77" r="1.35" fill="#e41a1c"/>
<circle cx="156.61" cy="447.09" r="1.35" fill="#e41a1c"/>
<circle cx="170.67" cy="447.03" r="1.35" fill="#e41a1c"/>
<circle cx="160.84" cy="457.36" r="1.35" fill="#e41a1c"/>
<circle cx="167.42" cy="447.4" r="1.35" fill="#e41a1c"/>
<circle cx="163.13" cy="455.35" r="1.35" fill="#e41a1c"/>
<circle cx="170.84" cy="459.62" r="1.35" fill="#e41a1c"/>
<circle cx="155.87" cy="464.28" r="1.35" fill="#e41a1c"/>
<circle cx="159" cy="441.85" r="1.35" fill="#e41a1c"/>
<circle cx="160.06" cy="473.11" r="1.35" fill="#e41a1c"/>
<circle cx="159.66" cy="442.34" r="1.35" fill="#e41a1c"/>
<circle cx="169.92" cy="481.11" r="1.35" fill="#e41a1c"/>
<circle cx="164.04" cy="478.27" r="1.35" fill="#e41a1c"/>
<circle cx="161.18" cy="477.5" r="1.35" fill="#e41a1c"/>
<line x1="201.2" y1="427.2" x2="201.2" y2="436.91" stroke="#1f4e9d" stroke-width="0.7"/>
<line x1="201.2" y1="446.59" x2="201.2" y2="460.22" stroke="#1f4e9d" stroke-width="0.7"/>
<rect x="184.5" y="436.91" width="33.4" height="9.68" fill="none" stroke="#1f4e9d" stroke-width="0.75"/>
<line x1="184.5" y1="441.4" x2="217.9" y2="441.4" stroke="#1f4e9d" stroke-width="0.9"/>
<circle cx="203.57" cy="436.5" r="1.35" fill="#1f4e9d"/>
<circle cx="200.81" cy="448.55" r="1.35" fill="#1f4e9d"/>
<circle cx="194.16" cy="446.51" r="1.35" fill="#1f4e9d"/>
<circle cx="201.64" cy="445.91" r="1.35" fill="#1f4e9d"/>
<circle cx="196.95" cy="445.72" r="1.35" fill="#1f4e9d"/>
<circle cx="194.65" cy="443.6" r="1.35" fill="#1f4e9d"/>
<circle cx="206.45" cy="435.43" r="1.35" fill="#1f4e9d"/>
<circle cx="193.94" cy="438.13" r="1.35" fill="#1f4e9d"/>
<circle cx="200.08" cy="434.93" r="1.35" fill="#1f4e9d"/>
<circle cx="206.09" cy="456.63" r="1.35" fill="#1f4e9d"/>
<circle cx="201.99" cy="439.34" r="1.35" fill="#1f4e9d"/>
<circle cx="208.07" cy="439.53" r="1.35" fill="#1f4e9d"/>
<circle cx="197.84" cy="442.8" r="1.35" fill="#1f4e9d"/>
<circle cx="209.41" cy="434.2" r="1.35" fill="#1f4e9d"/>
<circle cx="192.8" cy="439.83" r="1.35" fill="#1f4e9d"/>
<circle cx="208.47" cy="444.17" r="1.35" fill="#1f4e9d"/>
<circle cx="199.81" cy="448.88" r="1.35" fill="#1f4e9d"/>
<circle cx="192.06" cy="450.87" r="1.35" fill="#1f4e9d"/>
<circle cx="196.77" cy="450.23" r="1.35" fill="#1f4e9d"/>
<circle cx="210.19" cy="445.36" r="1.35" fill="#1f4e9d"/>
<circle cx="205.18" cy="430.99" r="1.35" fill="#1f4e9d"/>
<circle cx="205.57" cy="432.94" r="1.35" fill="#1f4e9d"/>
<circle cx="206.92" cy="446.97" r="1.35" fill="#1f4e9d"/>
<circle cx="192.12" cy="437.88" r="1.35" fill="#1f4e9d"/>
<circle cx="197.65" cy="441.47" r="1.35" fill="#1f4e9d"/>
<circle cx="200.57" cy="446.6" r="1.35" fill="#1f4e9d"/>
<circle cx="208.73" cy="439.99" r="1.35" fill="#1f4e9d"/>
<circle cx="208.71" cy="435.25" r="1.35" fill="#1f4e9d"/>
<circle cx="194.75" cy="444.21" r="1.35" fill="#1f4e9d"/>
<circle cx="210.17" cy="449.9" r="1.35" fill="#1f4e9d"/>
<circle cx="202.2" cy="437.88" r="1.35" fill="#1f4e9d"/>
<circle cx="197.61" cy="429.38" r="1.35" fill="#1f4e9d"/>
<circle cx="193.52" cy="438.68" r="1.35" fill="#1f4e9d"/>
<circle cx="199.85" cy="450.21" r="1.35" fill="#1f4e9d"/>
<circle cx="201.58" cy="441.37" r="1.35" fill="#1f4e9d"/>
<circle cx="200.34" cy="440.38" r="1.35" fill="#1f4e9d"/>
<circle cx="197.71" cy="447.02" r="1.35" fill="#1f4e9d"/>
<circle cx="209.44" cy="433.26" r="1.35" fill="#1f4e9d"/>
<circle cx="200.75" cy="443.72" r="1.35" fill="#1f4e9d"/>
<circle cx="197.66" cy="428.14" r="1.35" fill="#1f4e9d"/>
<circle cx="206.31" cy="436.84" r="1.35" fill="#1f4e9d"/>
<circle cx="196.5" cy="440.06" r="1.35" fill="#1f4e9d"/>
<circle cx="199.78" cy="440.07" r="1.35" fill="#1f4e9d"/>
<circle cx="193.92" cy="456.19" r="1.35" fill="#1f4e9d"/>
<circle cx="196.38" cy="434.16" r="1.35" fill="#1f4e9d"/>
<circle cx="210.34" cy="443.31" r="1.35" fill="#1f4e9d"/>
<circle cx="203.43" cy="456.59" r="1.35" fill="#1f4e9d"/>
<circle cx="201.63" cy="436.74" r="1.35" fill="#1f4e9d"/>
<circle cx="204.39" cy="430.28" r="1.35" fill="#1f4e9d"/>
<circle cx="204.37" cy="447.49" r="1.35" fill="#1f4e9d"/>
<circle cx="201.59" cy="438.83" r="1.35" fill="#1f4e9d"/>
<circle cx="198.75" cy="454.43" r="1.35" fill="#1f4e9d"/>
<circle cx="194.71" cy="436.78" r="1.35" fill="#1f4e9d"/>
<circle cx="192.54" cy="435.73" r="1.35" fill="#1f4e9d"/>
<circle cx="194.23" cy="441.03" r="1.35" fill="#1f4e9d"/>
<circle cx="199.46" cy="442.8" r="1.35" fill="#1f4e9d"/>
<circle cx="192.19" cy="452.14" r="1.35" fill="#1f4e9d"/>
<circle cx="204.41" cy="447.88" r="1.35" fill="#1f4e9d"/>
<circle cx="198.21" cy="435.58" r="1.35" fill="#1f4e9d"/>
<circle cx="196.3" cy="451.64" r="1.35" fill="#1f4e9d"/>
<circle cx="197.77" cy="439.41" r="1.35" fill="#1f4e9d"/>
<circle cx="201.07" cy="439.53" r="1.35" fill="#1f4e9d"/>
<circle cx="195.86" cy="433.97" r="1.35" fill="#1f4e9d"/>
<circle cx="207.68" cy="443.46" r="1.35" fill="#1f4e9d"/>
<circle cx="200.89" cy="446.33" r="1.35" fill="#1f4e9d"/>
<circle cx="193.26" cy="444.63" r="1.35" fill="#1f4e9d"/>
<circle cx="193.57" cy="450.12" r="1.35" fill="#1f4e9d"/>
<circle cx="208.38" cy="451.21" r="1.35" fill="#1f4e9d"/>
<circle cx="202.64" cy="440.88" r="1.35" fill="#1f4e9d"/>
<circle cx="197.36" cy="440.68" r="1.35" fill="#1f4e9d"/>
<circle cx="205.12" cy="435.75" r="1.35" fill="#1f4e9d"/>
<circle cx="192.85" cy="441.21" r="1.35" fill="#1f4e9d"/>
<circle cx="208.36" cy="445.93" r="1.35" fill="#1f4e9d"/>
<circle cx="209.23" cy="449" r="1.35" fill="#1f4e9d"/>
<circle cx="204.22" cy="437.34" r="1.35" fill="#1f4e9d"/>
<circle cx="192.93" cy="440.67" r="1.35" fill="#1f4e9d"/>
<circle cx="199.83" cy="454.88" r="1.35" fill="#1f4e9d"/>
<circle cx="207.4" cy="440.32" r="1.35" fill="#1f4e9d"/>
<circle cx="202.92" cy="437.63" r="1.35" fill="#1f4e9d"/>
<circle cx="195.85" cy="439.36" r="1.35" fill="#1f4e9d"/>
<circle cx="196.31" cy="432.33" r="1.35" fill="#1f4e9d"/>
<circle cx="193.17" cy="435.22" r="1.35" fill="#1f4e9d"/>
<circle cx="201.6" cy="454.03" r="1.35" fill="#1f4e9d"/>
<circle cx="195.34" cy="443.16" r="1.35" fill="#1f4e9d"/>
<circle cx="200.2" cy="449.08" r="1.35" fill="#1f4e9d"/>
<circle cx="208.48" cy="447.4" r="1.35" fill="#1f4e9d"/>
<circle cx="208.58" cy="450.29" r="1.35" fill="#1f4e9d"/>
<circle cx="201.05" cy="439.73" r="1.35" fill="#1f4e9d"/>
<circle cx="206.43" cy="445.49" r="1.35" fill="#1f4e9d"/>
<circle cx="194.47" cy="440.35" r="1.35" fill="#1f4e9d"/>
<circle cx="209.44" cy="438.49" r="1.35" fill="#1f4e9d"/>
<circle cx="207.93" cy="443.75" r="1.35" fill="#1f4e9d"/>
<circle cx="200.88" cy="436.21" r="1.35" fill="#1f4e9d"/>
<circle cx="208.3" cy="440.38" r="1.35" fill="#1f4e9d"/>
<circle cx="197.47" cy="439.11" r="1.35" fill="#1f4e9d"/>
<circle cx="210.04" cy="442.86" r="1.35" fill="#1f4e9d"/>
<circle cx="197.94" cy="442.37" r="1.35" fill="#1f4e9d"/>
<circle cx="209.01" cy="442.37" r="1.35" fill="#1f4e9d"/>
<circle cx="207.4" cy="435.71" r="1.35" fill="#1f4e9d"/>
<circle cx="209.2" cy="445.82" r="1.35" fill="#1f4e9d"/>
<circle cx="205.38" cy="445.18" r="1.35" fill="#1f4e9d"/>
<circle cx="193.35" cy="441.05" r="1.35" fill="#1f4e9d"/>
<circle cx="197.14" cy="449.61" r="1.35" fill="#1f4e9d"/>
<circle cx="204.06" cy="440.22" r="1.35" fill="#1f4e9d"/>
<circle cx="208.72" cy="442.93" r="1.35" fill="#1f4e9d"/>
<circle cx="204.53" cy="442.71" r="1.35" fill="#1f4e9d"/>
<circle cx="192.72" cy="446.34" r="1.35" fill="#1f4e9d"/>
<circle cx="198.4" cy="432.55" r="1.35" fill="#1f4e9d"/>
<circle cx="198.35" cy="448.89" r="1.35" fill="#1f4e9d"/>
<circle cx="195.15" cy="447.94" r="1.35" fill="#1f4e9d"/>
<circle cx="196.14" cy="444.03" r="1.35" fill="#1f4e9d"/>
<circle cx="201.5" cy="451.48" r="1.35" fill="#1f4e9d"/>
<circle cx="198.86" cy="443.13" r="1.35" fill="#1f4e9d"/>
<circle cx="196.91" cy="443.03" r="1.35" fill="#1f4e9d"/>
<circle cx="199.58" cy="449.52" r="1.35" fill="#1f4e9d"/>
<circle cx="209.43" cy="441" r="1.35" fill="#1f4e9d"/>
<circle cx="202.98" cy="456.9" r="1.35" fill="#1f4e9d"/>
<circle cx="205.83" cy="438.26" r="1.35" fill="#1f4e9d"/>
<circle cx="209.16" cy="435.51" r="1.35" fill="#1f4e9d"/>
<circle cx="192.57" cy="441.72" r="1.35" fill="#1f4e9d"/>
<circle cx="208.2" cy="431.43" r="1.35" fill="#1f4e9d"/>
<circle cx="193.75" cy="435.55" r="1.35" fill="#1f4e9d"/>
<circle cx="195.61" cy="438.15" r="1.35" fill="#1f4e9d"/>
<circle cx="205.6" cy="444.15" r="1.35" fill="#1f4e9d"/>
<circle cx="205.85" cy="454.23" r="1.35" fill="#1f4e9d"/>
<circle cx="203.31" cy="429.78" r="1.35" fill="#1f4e9d"/>
<circle cx="200.76" cy="444.51" r="1.35" fill="#1f4e9d"/>
<circle cx="205.29" cy="446.14" r="1.35" fill="#1f4e9d"/>
<circle cx="199.87" cy="430.83" r="1.35" fill="#1f4e9d"/>
<circle cx="195.58" cy="445.13" r="1.35" fill="#1f4e9d"/>
<circle cx="196.04" cy="451.11" r="1.35" fill="#1f4e9d"/>
<circle cx="194.07" cy="443.36" r="1.35" fill="#1f4e9d"/>
<circle cx="192.68" cy="445.35" r="1.35" fill="#1f4e9d"/>
<circle cx="209.52" cy="458.67" r="1.35" fill="#1f4e9d"/>
<circle cx="209.48" cy="446.11" r="1.35" fill="#1f4e9d"/>
<circle cx="198.41" cy="428.54" r="1.35" fill="#1f4e9d"/>
<circle cx="199.59" cy="448.57" r="1.35" fill="#1f4e9d"/>
<circle cx="197.13" cy="437.22" r="1.35" fill="#1f4e9d"/>
<circle cx="206.38" cy="440.26" r="1.35" fill="#1f4e9d"/>
<circle cx="201.06" cy="445.07" r="1.35" fill="#1f4e9d"/>
<circle cx="195.14" cy="429.77" r="1.35" fill="#1f4e9d"/>
<circle cx="208.27" cy="454.32" r="1.35" fill="#1f4e9d"/>
<circle cx="209.09" cy="447.32" r="1.35" fill="#1f4e9d"/>
<circle cx="192.86" cy="441.77" r="1.35" fill="#1f4e9d"/>
<circle cx="200.45" cy="456.27" r="1.35" fill="#1f4e9d"/>
<circle cx="196.07" cy="449.83" r="1.35" fill="#1f4e9d"/>
<circle cx="203.76" cy="435.07" r="1.35" fill="#1f4e9d"/>
<circle cx="198.6" cy="444.49" r="1.35" fill="#1f4e9d"/>
<circle cx="197.48" cy="437.39" r="1.35" fill="#1f4e9d"/>
<circle cx="197.56" cy="469.05" r="1.35" fill="#1f4e9d"/>
<circle cx="203.17" cy="465.98" r="1.35" fill="#1f4e9d"/>
<circle cx="201.26" cy="464.06" r="1.35" fill="#1f4e9d"/>
<circle cx="200.98" cy="466.75" r="1.35" fill="#1f4e9d"/>
<line x1="257.8" y1="434.49" x2="257.8" y2="451.39" stroke="#e41a1c" stroke-width="0.7"/>
<line x1="257.8" y1="474.2" x2="257.8" y2="493.09" stroke="#e41a1c" stroke-width="0.7"/>
<rect x="241.1" y="451.39" width="33.4" height="22.81" fill="none" stroke="#e41a1c" stroke-width="0.75"/>
<line x1="241.1" y1="461.76" x2="274.5" y2="461.76" stroke="#e41a1c" stroke-width="0.9"/>
<circle cx="258.82" cy="455.38" r="1.35" fill="#e41a1c"/>
<circle cx="251.85" cy="441.88" r="1.35" fill="#e41a1c"/>
<circle cx="258.54" cy="471.03" r="1.35" fill="#e41a1c"/>
<circle cx="257.75" cy="464.2" r="1.35" fill="#e41a1c"/>
<circle cx="252.23" cy="471.78" r="1.35" fill="#e41a1c"/>
<circle cx="256.75" cy="437.98" r="1.35" fill="#e41a1c"/>
<circle cx="263.99" cy="458.59" r="1.35" fill="#e41a1c"/>
<circle cx="260.4" cy="458.44" r="1.35" fill="#e41a1c"/>
<circle cx="254.65" cy="461.21" r="1.35" fill="#e41a1c"/>
<circle cx="252.99" cy="483.49" r="1.35" fill="#e41a1c"/>
<circle cx="260.2" cy="452.52" r="1.35" fill="#e41a1c"/>
<circle cx="258.77" cy="452.68" r="1.35" fill="#e41a1c"/>
<circle cx="254.08" cy="469.76" r="1.35" fill="#e41a1c"/>
<circle cx="257.27" cy="471.94" r="1.35" fill="#e41a1c"/>
<circle cx="256.08" cy="463.89" r="1.35" fill="#e41a1c"/>
<circle cx="260.14" cy="470.08" r="1.35" fill="#e41a1c"/>
<circle cx="264.76" cy="480.71" r="1.35" fill="#e41a1c"/>
<circle cx="255.46" cy="479.13" r="1.35" fill="#e41a1c"/>
<circle cx="258.5" cy="482.82" r="1.35" fill="#e41a1c"/>
<circle cx="258.94" cy="483.01" r="1.35" fill="#e41a1c"/>
<circle cx="260.88" cy="470.47" r="1.35" fill="#e41a1c"/>
<circle cx="253.08" cy="486.69" r="1.35" fill="#e41a1c"/>
<circle cx="253.14" cy="487.01" r="1.35" fill="#e41a1c"/>
<circle cx="265.57" cy="443.39" r="1.35" fill="#e41a1c"/>
<circle cx="251.27" cy="463.28" r="1.35" fill="#e41a1c"/>
<circle cx="261.13" cy="480.16" r="1.35" fill="#e41a1c"/>
<circle cx="253.39" cy="442.57" r="1.35" fill="#e41a1c"/>
<circle cx="257.64" cy="437.1" r="1.35" fill="#e41a1c"/>
<circle cx="256.91" cy="461.92" r="1.35" fill="#e41a1c"/>
<circle cx="253" cy="481.56" r="1.35" fill="#e41a1c"/>
<circle cx="251.84" cy="455.5" r="1.35" fill="#e41a1c"/>
<circle cx="266.22" cy="456.26" r="1.35" fill="#e41a1c"/>
<circle cx="249.31" cy="441.8" r="1.35" fill="#e41a1c"/>
<circle cx="251.22" cy="440.82" r="1.35" fill="#e41a1c"/>
<circle cx="262.2" cy="468.1" r="1.35" fill="#e41a1c"/>
<circle cx="255.43" cy="456.31" r="1.35" fill="#e41a1c"/>
<circle cx="252.19" cy="473.7" r="1.35" fill="#e41a1c"/>
<circle cx="262.88" cy="482.91" r="1.35" fill="#e41a1c"/>
<circle cx="266.66" cy="458.5" r="1.35" fill="#e41a1c"/>
<circle cx="252.42" cy="485.68" r="1.35" fill="#e41a1c"/>
<circle cx="261.61" cy="480.8" r="1.35" fill="#e41a1c"/>
<circle cx="255.89" cy="453.56" r="1.35" fill="#e41a1c"/>
<circle cx="266.96" cy="482.28" r="1.35" fill="#e41a1c"/>
<circle cx="259.58" cy="468.2" r="1.35" fill="#e41a1c"/>
<circle cx="265.07" cy="484.58" r="1.35" fill="#e41a1c"/>
<circle cx="260.8" cy="461.71" r="1.35" fill="#e41a1c"/>
<circle cx="251.02" cy="464.24" r="1.35" fill="#e41a1c"/>
<circle cx="256.73" cy="438.06" r="1.35" fill="#e41a1c"/>
<circle cx="261.58" cy="483.13" r="1.35" fill="#e41a1c"/>
<circle cx="251.41" cy="470.68" r="1.35" fill="#e41a1c"/>
<circle cx="250.22" cy="482.94" r="1.35" fill="#e41a1c"/>
<circle cx="266.83" cy="468.52" r="1.35" fill="#e41a1c"/>
<circle cx="265.6" cy="448.78" r="1.35" fill="#e41a1c"/>
<circle cx="260.57" cy="491.25" r="1.35" fill="#e41a1c"/>
<circle cx="249.77" cy="461.66" r="1.35" fill="#e41a1c"/>
<circle cx="261.5" cy="446.93" r="1.35" fill="#e41a1c"/>
<circle cx="266.79" cy="451.77" r="1.35" fill="#e41a1c"/>
<circle cx="263" cy="435.01" r="1.35" fill="#e41a1c"/>
<circle cx="261.76" cy="472.73" r="1.35" fill="#e41a1c"/>
<circle cx="256.69" cy="441.26" r="1.35" fill="#e41a1c"/>
<circle cx="260.23" cy="470.06" r="1.35" fill="#e41a1c"/>
<circle cx="265.65" cy="453.03" r="1.35" fill="#e41a1c"/>
<circle cx="257.79" cy="443.33" r="1.35" fill="#e41a1c"/>
<circle cx="249.97" cy="481.92" r="1.35" fill="#e41a1c"/>
<circle cx="251.27" cy="448.51" r="1.35" fill="#e41a1c"/>
<circle cx="266.12" cy="461.32" r="1.35" fill="#e41a1c"/>
<circle cx="261.65" cy="476.24" r="1.35" fill="#e41a1c"/>
<circle cx="265.81" cy="451.55" r="1.35" fill="#e41a1c"/>
<circle cx="251.32" cy="462.87" r="1.35" fill="#e41a1c"/>
<circle cx="250.54" cy="466.98" r="1.35" fill="#e41a1c"/>
<circle cx="261.17" cy="472.96" r="1.35" fill="#e41a1c"/>
<circle cx="256.48" cy="471.01" r="1.35" fill="#e41a1c"/>
<circle cx="257.12" cy="467.87" r="1.35" fill="#e41a1c"/>
<circle cx="252.88" cy="469.29" r="1.35" fill="#e41a1c"/>
<circle cx="262.64" cy="466.59" r="1.35" fill="#e41a1c"/>
<circle cx="262.98" cy="460.98" r="1.35" fill="#e41a1c"/>
<circle cx="261.96" cy="461.52" r="1.35" fill="#e41a1c"/>
<circle cx="256.51" cy="467.9" r="1.35" fill="#e41a1c"/>
<circle cx="257.63" cy="461.51" r="1.35" fill="#e41a1c"/>
<circle cx="255.88" cy="470.24" r="1.35" fill="#e41a1c"/>
<circle cx="257.16" cy="442.8" r="1.35" fill="#e41a1c"/>
<circle cx="254.59" cy="481.66" r="1.35" fill="#e41a1c"/>
<circle cx="257.23" cy="472.1" r="1.35" fill="#e41a1c"/>
<circle cx="266.31" cy="455.4" r="1.35" fill="#e41a1c"/>
<circle cx="263.35" cy="457.35" r="1.35" fill="#e41a1c"/>
<circle cx="251.09" cy="460.08" r="1.35" fill="#e41a1c"/>
<circle cx="260.94" cy="466.37" r="1.35" fill="#e41a1c"/>
<circle cx="263.68" cy="448.28" r="1.35" fill="#e41a1c"/>
<circle cx="254.94" cy="476.32" r="1.35" fill="#e41a1c"/>
<circle cx="264.96" cy="463.71" r="1.35" fill="#e41a1c"/>
<circle cx="265.9" cy="446.91" r="1.35" fill="#e41a1c"/>
<circle cx="249.9" cy="450.3" r="1.35" fill="#e41a1c"/>
<circle cx="260.1" cy="453.42" r="1.35" fill="#e41a1c"/>
<circle cx="255.6" cy="437.71" r="1.35" fill="#e41a1c"/>
<circle cx="257.18" cy="466.82" r="1.35" fill="#e41a1c"/>
<circle cx="258.69" cy="473.26" r="1.35" fill="#e41a1c"/>
<circle cx="264.42" cy="458.22" r="1.35" fill="#e41a1c"/>
<circle cx="260.21" cy="442.32" r="1.35" fill="#e41a1c"/>
<circle cx="264.95" cy="439.97" r="1.35" fill="#e41a1c"/>
<circle cx="253.18" cy="450.99" r="1.35" fill="#e41a1c"/>
<circle cx="263.26" cy="453.26" r="1.35" fill="#e41a1c"/>
<circle cx="255.81" cy="439.62" r="1.35" fill="#e41a1c"/>
<circle cx="251.96" cy="470.4" r="1.35" fill="#e41a1c"/>
<circle cx="263.38" cy="457.79" r="1.35" fill="#e41a1c"/>
<circle cx="259.22" cy="449.78" r="1.35" fill="#e41a1c"/>
<circle cx="252.75" cy="441.26" r="1.35" fill="#e41a1c"/>
<circle cx="265.04" cy="462.01" r="1.35" fill="#e41a1c"/>
<circle cx="257.65" cy="467.39" r="1.35" fill="#e41a1c"/>
<circle cx="261" cy="462.47" r="1.35" fill="#e41a1c"/>
<circle cx="266.73" cy="453.04" r="1.35" fill="#e41a1c"/>
<circle cx="254.61" cy="465.04" r="1.35" fill="#e41a1c"/>
<circle cx="258.61" cy="456.68" r="1.35" fill="#e41a1c"/>
<circle cx="258.65" cy="480.89" r="1.35" fill="#e41a1c"/>
<circle cx="253.85" cy="457.37" r="1.35" fill="#e41a1c"/>
<circle cx="258.43" cy="483.77" r="1.35" fill="#e41a1c"/>
<circle cx="266.37" cy="437.66" r="1.35" fill="#e41a1c"/>
<circle cx="261.43" cy="449.55" r="1.35" fill="#e41a1c"/>
<circle cx="253.48" cy="459.34" r="1.35" fill="#e41a1c"/>
<circle cx="261.18" cy="463.15" r="1.35" fill="#e41a1c"/>
<circle cx="259.92" cy="462.56" r="1.35" fill="#e41a1c"/>
<circle cx="255.38" cy="438.76" r="1.35" fill="#e41a1c"/>
<circle cx="260.95" cy="468.74" r="1.35" fill="#e41a1c"/>
<circle cx="255.52" cy="461.89" r="1.35" fill="#e41a1c"/>
<circle cx="262.97" cy="443.25" r="1.35" fill="#e41a1c"/>
<circle cx="255.74" cy="469.15" r="1.35" fill="#e41a1c"/>
<circle cx="263.76" cy="471.1" r="1.35" fill="#e41a1c"/>
<circle cx="254.07" cy="477.39" r="1.35" fill="#e41a1c"/>
<circle cx="251.76" cy="488.82" r="1.35" fill="#e41a1c"/>
<circle cx="254.66" cy="462.71" r="1.35" fill="#e41a1c"/>
<circle cx="250.91" cy="473.07" r="1.35" fill="#e41a1c"/>
<circle cx="264.7" cy="478.44" r="1.35" fill="#e41a1c"/>
<circle cx="266.92" cy="484.68" r="1.35" fill="#e41a1c"/>
<circle cx="256.26" cy="466.09" r="1.35" fill="#e41a1c"/>
<circle cx="253.02" cy="450.84" r="1.35" fill="#e41a1c"/>
<circle cx="264.83" cy="444.26" r="1.35" fill="#e41a1c"/>
<circle cx="264.26" cy="442.79" r="1.35" fill="#e41a1c"/>
<circle cx="253.09" cy="465.59" r="1.35" fill="#e41a1c"/>
<circle cx="254.22" cy="486.94" r="1.35" fill="#e41a1c"/>
<circle cx="257.75" cy="473.19" r="1.35" fill="#e41a1c"/>
<circle cx="251.03" cy="451" r="1.35" fill="#e41a1c"/>
<circle cx="252.48" cy="455" r="1.35" fill="#e41a1c"/>
<circle cx="255.91" cy="480.75" r="1.35" fill="#e41a1c"/>
<circle cx="250.8" cy="482.91" r="1.35" fill="#e41a1c"/>
<circle cx="251.26" cy="460.49" r="1.35" fill="#e41a1c"/>
<circle cx="259.73" cy="449.9" r="1.35" fill="#e41a1c"/>
<circle cx="254.13" cy="444.52" r="1.35" fill="#e41a1c"/>
<circle cx="265.44" cy="472.19" r="1.35" fill="#e41a1c"/>
<circle cx="266.29" cy="446.21" r="1.35" fill="#e41a1c"/>
<circle cx="260.93" cy="440.65" r="1.35" fill="#e41a1c"/>
<circle cx="253.66" cy="452.64" r="1.35" fill="#e41a1c"/>
<circle cx="262.58" cy="474.46" r="1.35" fill="#e41a1c"/>
<circle cx="254.83" cy="470.64" r="1.35" fill="#e41a1c"/>
<line x1="295.1" y1="442.56" x2="295.1" y2="465.4" stroke="#1f4e9d" stroke-width="0.7"/>
<line x1="295.1" y1="479.8" x2="295.1" y2="500.39" stroke="#1f4e9d" stroke-width="0.7"/>
<rect x="278.4" y="465.4" width="33.4" height="14.4" fill="none" stroke="#1f4e9d" stroke-width="0.75"/>
<line x1="278.4" y1="472.32" x2="311.8" y2="472.32" stroke="#1f4e9d" stroke-width="0.9"/>
<circle cx="290.77" cy="485.84" r="1.35" fill="#1f4e9d"/>
<circle cx="290.52" cy="465.29" r="1.35" fill="#1f4e9d"/>
<circle cx="298.54" cy="472.17" r="1.35" fill="#1f4e9d"/>
<circle cx="297.79" cy="481.41" r="1.35" fill="#1f4e9d"/>
<circle cx="303.14" cy="469.69" r="1.35" fill="#1f4e9d"/>
<circle cx="296.75" cy="473.02" r="1.35" fill="#1f4e9d"/>
<circle cx="294.8" cy="491.01" r="1.35" fill="#1f4e9d"/>
<circle cx="302.17" cy="464.96" r="1.35" fill="#1f4e9d"/>
<circle cx="288.45" cy="499.36" r="1.35" fill="#1f4e9d"/>
<circle cx="296.74" cy="473.92" r="1.35" fill="#1f4e9d"/>
<circle cx="304.07" cy="483.1" r="1.35" fill="#1f4e9d"/>
<circle cx="292.03" cy="478.81" r="1.35" fill="#1f4e9d"/>
<circle cx="288.7" cy="445.33" r="1.35" fill="#1f4e9d"/>
<circle cx="287.99" cy="464.5" r="1.35" fill="#1f4e9d"/>
<circle cx="286.4" cy="488.65" r="1.35" fill="#1f4e9d"/>
<circle cx="299.38" cy="488.8" r="1.35" fill="#1f4e9d"/>
<circle cx="293.49" cy="473.1" r="1.35" fill="#1f4e9d"/>
<circle cx="301" cy="452.82" r="1.35" fill="#1f4e9d"/>
<circle cx="301.27" cy="461.68" r="1.35" fill="#1f4e9d"/>
<circle cx="286.38" cy="459.74" r="1.35" fill="#1f4e9d"/>
<circle cx="291.54" cy="484.47" r="1.35" fill="#1f4e9d"/>
<circle cx="290.75" cy="461.65" r="1.35" fill="#1f4e9d"/>
<circle cx="290.76" cy="467.09" r="1.35" fill="#1f4e9d"/>
<circle cx="286.43" cy="472.57" r="1.35" fill="#1f4e9d"/>
<circle cx="290.59" cy="464.87" r="1.35" fill="#1f4e9d"/>
<circle cx="292.15" cy="472.47" r="1.35" fill="#1f4e9d"/>
<circle cx="294.23" cy="461.57" r="1.35" fill="#1f4e9d"/>
<circle cx="295.67" cy="452.46" r="1.35" fill="#1f4e9d"/>
<circle cx="304.02" cy="483.97" r="1.35" fill="#1f4e9d"/>
<circle cx="287.89" cy="471.69" r="1.35" fill="#1f4e9d"/>
<circle cx="288.37" cy="487.34" r="1.35" fill="#1f4e9d"/>
<circle cx="302.52" cy="487" r="1.35" fill="#1f4e9d"/>
<circle cx="291.19" cy="481.52" r="1.35" fill="#1f4e9d"/>
<circle cx="295.81" cy="485.08" r="1.35" fill="#1f4e9d"/>
<circle cx="291.51" cy="482.88" r="1.35" fill="#1f4e9d"/>
<circle cx="302.37" cy="482.6" r="1.35" fill="#1f4e9d"/>
<circle cx="303.09" cy="452.2" r="1.35" fill="#1f4e9d"/>
<circle cx="296.39" cy="463.29" r="1.35" fill="#1f4e9d"/>
<circle cx="287.63" cy="480.44" r="1.35" fill="#1f4e9d"/>
<circle cx="292.74" cy="480.54" r="1.35" fill="#1f4e9d"/>
<circle cx="298.85" cy="480.95" r="1.35" fill="#1f4e9d"/>
<circle cx="296.31" cy="479.91" r="1.35" fill="#1f4e9d"/>
<circle cx="291.06" cy="469.11" r="1.35" fill="#1f4e9d"/>
<circle cx="293.2" cy="487.96" r="1.35" fill="#1f4e9d"/>
<circle cx="287.03" cy="480.12" r="1.35" fill="#1f4e9d"/>
<circle cx="293.33" cy="471.85" r="1.35" fill="#1f4e9d"/>
<circle cx="301.07" cy="470.13" r="1.35" fill="#1f4e9d"/>
<circle cx="293.02" cy="454.2" r="1.35" fill="#1f4e9d"/>
<circle cx="294.48" cy="466.18" r="1.35" fill="#1f4e9d"/>
<circle cx="288.99" cy="471.36" r="1.35" fill="#1f4e9d"/>
<circle cx="299.01" cy="480.54" r="1.35" fill="#1f4e9d"/>
<circle cx="293.57" cy="461.69" r="1.35" fill="#1f4e9d"/>
<circle cx="292.99" cy="468.88" r="1.35" fill="#1f4e9d"/>
<circle cx="300.13" cy="489.32" r="1.35" fill="#1f4e9d"/>
<circle cx="291.36" cy="464.5" r="1.35" fill="#1f4e9d"/>
<circle cx="287.33" cy="472.21" r="1.35" fill="#1f4e9d"/>
<circle cx="297.71" cy="496.14" r="1.35" fill="#1f4e9d"/>
<circle cx="299.48" cy="477.5" r="1.35" fill="#1f4e9d"/>
<circle cx="286.87" cy="483.99" r="1.35" fill="#1f4e9d"/>
<circle cx="292.25" cy="479.25" r="1.35" fill="#1f4e9d"/>
<circle cx="302.2" cy="480.18" r="1.35" fill="#1f4e9d"/>
<circle cx="295.26" cy="466.85" r="1.35" fill="#1f4e9d"/>
<circle cx="293.39" cy="473.94" r="1.35" fill="#1f4e9d"/>
<circle cx="288.29" cy="480.8" r="1.35" fill="#1f4e9d"/>
<circle cx="291.2" cy="459.59" r="1.35" fill="#1f4e9d"/>
<circle cx="296.7" cy="484.59" r="1.35" fill="#1f4e9d"/>
<circle cx="302.74" cy="448.15" r="1.35" fill="#1f4e9d"/>
<circle cx="298.09" cy="477.08" r="1.35" fill="#1f4e9d"/>
<circle cx="303.72" cy="476.59" r="1.35" fill="#1f4e9d"/>
<circle cx="293.4" cy="468.78" r="1.35" fill="#1f4e9d"/>
<circle cx="287.17" cy="457" r="1.35" fill="#1f4e9d"/>
<circle cx="292.18" cy="473.25" r="1.35" fill="#1f4e9d"/>
<circle cx="292.64" cy="468.63" r="1.35" fill="#1f4e9d"/>
<circle cx="286.95" cy="468.28" r="1.35" fill="#1f4e9d"/>
<circle cx="287.4" cy="499.11" r="1.35" fill="#1f4e9d"/>
<circle cx="302.66" cy="464.37" r="1.35" fill="#1f4e9d"/>
<circle cx="302.37" cy="448.74" r="1.35" fill="#1f4e9d"/>
<circle cx="288.35" cy="464.68" r="1.35" fill="#1f4e9d"/>
<circle cx="287.41" cy="465.09" r="1.35" fill="#1f4e9d"/>
<circle cx="303.94" cy="469" r="1.35" fill="#1f4e9d"/>
<circle cx="288.97" cy="483.12" r="1.35" fill="#1f4e9d"/>
<circle cx="291.45" cy="468.84" r="1.35" fill="#1f4e9d"/>
<circle cx="290.06" cy="477.47" r="1.35" fill="#1f4e9d"/>
<circle cx="289.74" cy="474.29" r="1.35" fill="#1f4e9d"/>
<circle cx="286.47" cy="467.75" r="1.35" fill="#1f4e9d"/>
<circle cx="294.4" cy="480.56" r="1.35" fill="#1f4e9d"/>
<circle cx="300.17" cy="460.15" r="1.35" fill="#1f4e9d"/>
<circle cx="287.21" cy="468.63" r="1.35" fill="#1f4e9d"/>
<circle cx="294.94" cy="461.56" r="1.35" fill="#1f4e9d"/>
<circle cx="288.33" cy="492.66" r="1.35" fill="#1f4e9d"/>
<circle cx="300.39" cy="490.27" r="1.35" fill="#1f4e9d"/>
<circle cx="302.54" cy="467.9" r="1.35" fill="#1f4e9d"/>
<circle cx="302" cy="483.27" r="1.35" fill="#1f4e9d"/>
<circle cx="295.72" cy="473.2" r="1.35" fill="#1f4e9d"/>
<circle cx="288.51" cy="465.51" r="1.35" fill="#1f4e9d"/>
<circle cx="299.1" cy="463.11" r="1.35" fill="#1f4e9d"/>
<circle cx="287.18" cy="470.43" r="1.35" fill="#1f4e9d"/>
<circle cx="300.16" cy="479.73" r="1.35" fill="#1f4e9d"/>
<circle cx="291.41" cy="464.22" r="1.35" fill="#1f4e9d"/>
<circle cx="302.32" cy="483.14" r="1.35" fill="#1f4e9d"/>
<circle cx="291.14" cy="464.95" r="1.35" fill="#1f4e9d"/>
<circle cx="299.52" cy="486.1" r="1.35" fill="#1f4e9d"/>
<circle cx="295.01" cy="465.18" r="1.35" fill="#1f4e9d"/>
<circle cx="290.3" cy="468.52" r="1.35" fill="#1f4e9d"/>
<circle cx="294.94" cy="461.52" r="1.35" fill="#1f4e9d"/>
<circle cx="293.82" cy="493.08" r="1.35" fill="#1f4e9d"/>
<circle cx="288.77" cy="470.59" r="1.35" fill="#1f4e9d"/>
<circle cx="295.95" cy="490.38" r="1.35" fill="#1f4e9d"/>
<circle cx="295.69" cy="465.9" r="1.35" fill="#1f4e9d"/>
<circle cx="298.78" cy="473.68" r="1.35" fill="#1f4e9d"/>
<circle cx="292.15" cy="454.55" r="1.35" fill="#1f4e9d"/>
<circle cx="297.21" cy="474.52" r="1.35" fill="#1f4e9d"/>
<circle cx="289.55" cy="467.36" r="1.35" fill="#1f4e9d"/>
<circle cx="295.51" cy="471.1" r="1.35" fill="#1f4e9d"/>
<circle cx="290.31" cy="459.03" r="1.35" fill="#1f4e9d"/>
<circle cx="300.36" cy="466.85" r="1.35" fill="#1f4e9d"/>
<circle cx="289.41" cy="483.58" r="1.35" fill="#1f4e9d"/>
<circle cx="291.25" cy="476.31" r="1.35" fill="#1f4e9d"/>
<circle cx="287.18" cy="466.6" r="1.35" fill="#1f4e9d"/>
<circle cx="291.41" cy="473.17" r="1.35" fill="#1f4e9d"/>
<circle cx="295.86" cy="463.58" r="1.35" fill="#1f4e9d"/>
<circle cx="290.1" cy="479.14" r="1.35" fill="#1f4e9d"/>
<circle cx="288.12" cy="464.26" r="1.35" fill="#1f4e9d"/>
<circle cx="302.34" cy="486.29" r="1.35" fill="#1f4e9d"/>
<circle cx="291.61" cy="474.43" r="1.35" fill="#1f4e9d"/>
<circle cx="289.87" cy="486.34" r="1.35" fill="#1f4e9d"/>
<circle cx="293.24" cy="484.36" r="1.35" fill="#1f4e9d"/>
<circle cx="301.38" cy="470.23" r="1.35" fill="#1f4e9d"/>
<circle cx="299.64" cy="488.45" r="1.35" fill="#1f4e9d"/>
<circle cx="302.51" cy="469.63" r="1.35" fill="#1f4e9d"/>
<circle cx="295.94" cy="481.85" r="1.35" fill="#1f4e9d"/>
<circle cx="292.06" cy="477.97" r="1.35" fill="#1f4e9d"/>
<circle cx="295.12" cy="470" r="1.35" fill="#1f4e9d"/>
<circle cx="286.98" cy="473.21" r="1.35" fill="#1f4e9d"/>
<circle cx="298.46" cy="475.03" r="1.35" fill="#1f4e9d"/>
<circle cx="301.34" cy="473.58" r="1.35" fill="#1f4e9d"/>
<circle cx="302.75" cy="470.22" r="1.35" fill="#1f4e9d"/>
<circle cx="301.18" cy="485.26" r="1.35" fill="#1f4e9d"/>
<circle cx="297.81" cy="482.37" r="1.35" fill="#1f4e9d"/>
<circle cx="300.7" cy="462.93" r="1.35" fill="#1f4e9d"/>
<circle cx="291.26" cy="468.48" r="1.35" fill="#1f4e9d"/>
<circle cx="296.24" cy="463.3" r="1.35" fill="#1f4e9d"/>
<circle cx="288.9" cy="483.48" r="1.35" fill="#1f4e9d"/>
<circle cx="303.13" cy="487.89" r="1.35" fill="#1f4e9d"/>
<circle cx="295.33" cy="491.11" r="1.35" fill="#1f4e9d"/>
<circle cx="289.14" cy="473.03" r="1.35" fill="#1f4e9d"/>
<circle cx="304.01" cy="466.27" r="1.35" fill="#1f4e9d"/>
<circle cx="297.31" cy="457.39" r="1.35" fill="#1f4e9d"/>
<circle cx="289.81" cy="518.59" r="1.35" fill="#1f4e9d"/>
<circle cx="301.46" cy="552.38" r="1.35" fill="#1f4e9d"/>
<circle cx="297.42" cy="507.45" r="1.35" fill="#1f4e9d"/>
<circle cx="297.35" cy="504.38" r="1.35" fill="#1f4e9d"/>
<circle cx="302.05" cy="506.3" r="1.35" fill="#1f4e9d"/>
<line x1="374.4" y1="421.4" x2="374.4" y2="558" stroke="#4a4a4a" stroke-width="1"/>
<line x1="374.4" y1="558" x2="675" y2="558" stroke="#4a4a4a" stroke-width="1"/>
<line x1="372.4" y1="528.4" x2="374.4" y2="528.4" stroke="#333" stroke-width="0.6"/>
<text x="371.6" y="528.4" font-size="6.6" fill="#1a1a1a" text-anchor="end">1</text>
<line x1="372.4" y1="485.5" x2="374.4" y2="485.5" stroke="#333" stroke-width="0.6"/>
<text x="371.6" y="485.5" font-size="6.6" fill="#1a1a1a" text-anchor="end">2</text>
<line x1="372.4" y1="442.6" x2="374.4" y2="442.6" stroke="#333" stroke-width="0.6"/>
<text x="371.6" y="442.6" font-size="6.6" fill="#1a1a1a" text-anchor="end">3</text>
<line x1="430.9" y1="558" x2="430.9" y2="560" stroke="#333" stroke-width="0.6"/>
<text x="432.9" y="563" font-size="6.8" fill="#000" text-anchor="end" transform="rotate(-57 432.9 563)">FLNC</text>
<text x="430.9" y="424.6" font-size="6" fill="#111" text-anchor="middle">****</text>
<line x1="525" y1="558" x2="525" y2="560" stroke="#333" stroke-width="0.6"/>
<text x="527" y="563" font-size="6.8" fill="#000" text-anchor="end" transform="rotate(-57 527 563)">IL18</text>
<text x="525" y="424.6" font-size="6" fill="#111" text-anchor="middle">****</text>
<line x1="619" y1="558" x2="619" y2="560" stroke="#333" stroke-width="0.6"/>
<text x="621" y="563" font-size="6.8" fill="#000" text-anchor="end" transform="rotate(-57 621 563)">MMP17</text>
<text x="619" y="424.6" font-size="6" fill="#111" text-anchor="middle">****</text>
<text x="362.7" y="489.4" font-size="6.6" fill="#000" text-anchor="middle" transform="rotate(-90 362.7 489.4)">Gene expression</text>
<text x="480.7" y="406" font-size="6.4" fill="#000">type</text>
<rect x="497.8" y="403.1" width="7.7" height="5.8" fill="none" stroke="#e41a1c" stroke-width="0.75"/>
<line x1="501.65" y1="401.7" x2="501.65" y2="403.1" stroke="#e41a1c" stroke-width="0.6"/>
<line x1="501.65" y1="408.9" x2="501.65" y2="410.3" stroke="#e41a1c" stroke-width="0.6"/>
<line x1="497.8" y1="406" x2="505.5" y2="406" stroke="#e41a1c" stroke-width="0.6"/>
<circle cx="501.65" cy="406" r="1.2" fill="#e41a1c"/>
<text x="509.9" y="406" font-size="5.5" fill="#000">HighRisk</text>
<rect x="536.2" y="403.1" width="7.7" height="5.8" fill="none" stroke="#1f4e9d" stroke-width="0.75"/>
<line x1="540.05" y1="401.7" x2="540.05" y2="403.1" stroke="#1f4e9d" stroke-width="0.6"/>
<line x1="540.05" y1="408.9" x2="540.05" y2="410.3" stroke="#1f4e9d" stroke-width="0.6"/>
<line x1="536.2" y1="406" x2="543.9" y2="406" stroke="#1f4e9d" stroke-width="0.6"/>
<circle cx="540.05" cy="406" r="1.2" fill="#1f4e9d"/>
<text x="548.9" y="406" font-size="5.5" fill="#000">LowRisk</text>
<line x1="411.9" y1="440.45" x2="411.9" y2="449.51" stroke="#e41a1c" stroke-width="0.7"/>
<line x1="411.9" y1="459.5" x2="411.9" y2="481.21" stroke="#e41a1c" stroke-width="0.7"/>
<rect x="395.2" y="449.51" width="33.4" height="10" fill="none" stroke="#e41a1c" stroke-width="0.75"/>
<line x1="395.2" y1="454.18" x2="428.6" y2="454.18" stroke="#e41a1c" stroke-width="0.9"/>
<circle cx="414.31" cy="455.73" r="1.22" fill="#e41a1c"/>
<circle cx="408.11" cy="445.36" r="1.22" fill="#e41a1c"/>
<circle cx="413.84" cy="458.74" r="1.22" fill="#e41a1c"/>
<circle cx="416.31" cy="474.6" r="1.22" fill="#e41a1c"/>
<circle cx="403.3" cy="453.52" r="1.22" fill="#e41a1c"/>
<circle cx="416.05" cy="450.29" r="1.22" fill="#e41a1c"/>
<circle cx="420.71" cy="466.99" r="1.22" fill="#e41a1c"/>
<circle cx="410.12" cy="457.38" r="1.22" fill="#e41a1c"/>
<circle cx="413.28" cy="448.4" r="1.22" fill="#e41a1c"/>
<circle cx="408.76" cy="460.56" r="1.22" fill="#e41a1c"/>
<circle cx="418.89" cy="458.13" r="1.22" fill="#e41a1c"/>
<circle cx="406.79" cy="460.43" r="1.22" fill="#e41a1c"/>
<circle cx="404.54" cy="467.05" r="1.22" fill="#e41a1c"/>
<circle cx="411.95" cy="444.26" r="1.22" fill="#e41a1c"/>
<circle cx="410.87" cy="446.96" r="1.22" fill="#e41a1c"/>
<circle cx="413.19" cy="462.87" r="1.22" fill="#e41a1c"/>
<circle cx="406.45" cy="451.23" r="1.22" fill="#e41a1c"/>
<circle cx="419.79" cy="449.49" r="1.22" fill="#e41a1c"/>
<circle cx="412.53" cy="443.65" r="1.22" fill="#e41a1c"/>
<circle cx="409.86" cy="462.04" r="1.22" fill="#e41a1c"/>
<circle cx="416.45" cy="456.56" r="1.22" fill="#e41a1c"/>
<circle cx="403.41" cy="456.64" r="1.22" fill="#e41a1c"/>
<circle cx="419.65" cy="442.45" r="1.22" fill="#e41a1c"/>
<circle cx="418.05" cy="442" r="1.22" fill="#e41a1c"/>
<circle cx="407.43" cy="477.06" r="1.22" fill="#e41a1c"/>
<circle cx="411.04" cy="466.92" r="1.22" fill="#e41a1c"/>
<circle cx="403.42" cy="474.89" r="1.22" fill="#e41a1c"/>
<circle cx="417.29" cy="454.48" r="1.22" fill="#e41a1c"/>
<circle cx="420.61" cy="443.26" r="1.22" fill="#e41a1c"/>
<circle cx="413.67" cy="480.92" r="1.22" fill="#e41a1c"/>
<circle cx="420.7" cy="442.35" r="1.22" fill="#e41a1c"/>
<circle cx="411.39" cy="454.18" r="1.22" fill="#e41a1c"/>
<circle cx="418.67" cy="452.04" r="1.22" fill="#e41a1c"/>
<circle cx="418.22" cy="451.05" r="1.22" fill="#e41a1c"/>
<circle cx="419.73" cy="447.49" r="1.22" fill="#e41a1c"/>
<circle cx="411.16" cy="458.31" r="1.22" fill="#e41a1c"/>
<circle cx="412.06" cy="455.86" r="1.22" fill="#e41a1c"/>
<circle cx="403.34" cy="443.6" r="1.22" fill="#e41a1c"/>
<circle cx="420.2" cy="461.13" r="1.22" fill="#e41a1c"/>
<circle cx="404.32" cy="457.76" r="1.22" fill="#e41a1c"/>
<circle cx="413.39" cy="463.73" r="1.22" fill="#e41a1c"/>
<circle cx="413.79" cy="459.32" r="1.22" fill="#e41a1c"/>
<circle cx="405.91" cy="454.92" r="1.22" fill="#e41a1c"/>
<circle cx="409.15" cy="458.48" r="1.22" fill="#e41a1c"/>
<circle cx="408.22" cy="450.42" r="1.22" fill="#e41a1c"/>
<circle cx="402.87" cy="440.95" r="1.22" fill="#e41a1c"/>
<circle cx="410.06" cy="449.48" r="1.22" fill="#e41a1c"/>
<circle cx="409.72" cy="446.81" r="1.22" fill="#e41a1c"/>
<circle cx="415.92" cy="448.38" r="1.22" fill="#e41a1c"/>
<circle cx="415.57" cy="448.53" r="1.22" fill="#e41a1c"/>
<circle cx="420.14" cy="450.45" r="1.22" fill="#e41a1c"/>
<circle cx="418.73" cy="448.57" r="1.22" fill="#e41a1c"/>
<circle cx="407.41" cy="451.79" r="1.22" fill="#e41a1c"/>
<circle cx="413.94" cy="442.29" r="1.22" fill="#e41a1c"/>
<circle cx="415.45" cy="447.03" r="1.22" fill="#e41a1c"/>
<circle cx="417.21" cy="457.95" r="1.22" fill="#e41a1c"/>
<circle cx="405.28" cy="465.04" r="1.22" fill="#e41a1c"/>
<circle cx="408.82" cy="456.13" r="1.22" fill="#e41a1c"/>
<circle cx="414" cy="469.69" r="1.22" fill="#e41a1c"/>
<circle cx="408.5" cy="469.3" r="1.22" fill="#e41a1c"/>
<circle cx="419.55" cy="442.3" r="1.22" fill="#e41a1c"/>
<circle cx="410.32" cy="468.75" r="1.22" fill="#e41a1c"/>
<circle cx="415.72" cy="454.78" r="1.22" fill="#e41a1c"/>
<circle cx="403.96" cy="447.78" r="1.22" fill="#e41a1c"/>
<circle cx="419.22" cy="467.57" r="1.22" fill="#e41a1c"/>
<circle cx="420.6" cy="447.18" r="1.22" fill="#e41a1c"/>
<circle cx="420.46" cy="462.07" r="1.22" fill="#e41a1c"/>
<circle cx="408.98" cy="464.23" r="1.22" fill="#e41a1c"/>
<circle cx="418.03" cy="448.35" r="1.22" fill="#e41a1c"/>
<circle cx="420.79" cy="455.91" r="1.22" fill="#e41a1c"/>
<circle cx="404.67" cy="446.08" r="1.22" fill="#e41a1c"/>
<circle cx="404.06" cy="455.43" r="1.22" fill="#e41a1c"/>
<circle cx="414.92" cy="457.98" r="1.22" fill="#e41a1c"/>
<circle cx="420.89" cy="445.41" r="1.22" fill="#e41a1c"/>
<circle cx="403.26" cy="476.15" r="1.22" fill="#e41a1c"/>
<circle cx="418.12" cy="460.76" r="1.22" fill="#e41a1c"/>
<circle cx="414.85" cy="457.09" r="1.22" fill="#e41a1c"/>
<circle cx="411.44" cy="450.07" r="1.22" fill="#e41a1c"/>
<circle cx="405.33" cy="449.28" r="1.22" fill="#e41a1c"/>
<circle cx="412.03" cy="455.22" r="1.22" fill="#e41a1c"/>
<circle cx="411.87" cy="454.15" r="1.22" fill="#e41a1c"/>
<circle cx="406.41" cy="469.87" r="1.22" fill="#e41a1c"/>
<circle cx="419.26" cy="444.46" r="1.22" fill="#e41a1c"/>
<circle cx="416.31" cy="458.2" r="1.22" fill="#e41a1c"/>
<circle cx="405.75" cy="458.64" r="1.22" fill="#e41a1c"/>
<circle cx="414.14" cy="462.07" r="1.22" fill="#e41a1c"/>
<circle cx="413.7" cy="459.36" r="1.22" fill="#e41a1c"/>
<circle cx="419.96" cy="455.45" r="1.22" fill="#e41a1c"/>
<circle cx="420.76" cy="477.33" r="1.22" fill="#e41a1c"/>
<circle cx="419.07" cy="440.72" r="1.22" fill="#e41a1c"/>
<circle cx="403.7" cy="450.15" r="1.22" fill="#e41a1c"/>
<circle cx="410.45" cy="454.68" r="1.22" fill="#e41a1c"/>
<circle cx="405.53" cy="446.29" r="1.22" fill="#e41a1c"/>
<circle cx="416.52" cy="472" r="1.22" fill="#e41a1c"/>
<circle cx="404.22" cy="472.31" r="1.22" fill="#e41a1c"/>
<circle cx="417.94" cy="459.22" r="1.22" fill="#e41a1c"/>
<circle cx="414.03" cy="480.71" r="1.22" fill="#e41a1c"/>
<circle cx="414.52" cy="452.29" r="1.22" fill="#e41a1c"/>
<circle cx="420.09" cy="454.63" r="1.22" fill="#e41a1c"/>
<circle cx="418.69" cy="450.43" r="1.22" fill="#e41a1c"/>
<circle cx="416.17" cy="455.12" r="1.22" fill="#e41a1c"/>
<circle cx="414.25" cy="453.86" r="1.22" fill="#e41a1c"/>
<circle cx="412.76" cy="427.16" r="1.22" fill="#e41a1c"/>
<circle cx="412.23" cy="428.87" r="1.22" fill="#e41a1c"/>
<line x1="449.9" y1="453.02" x2="449.9" y2="459.42" stroke="#1f4e9d" stroke-width="0.7"/>
<line x1="449.9" y1="474.39" x2="449.9" y2="494.68" stroke="#1f4e9d" stroke-width="0.7"/>
<rect x="433.2" y="459.42" width="33.4" height="14.97" fill="none" stroke="#1f4e9d" stroke-width="0.75"/>
<line x1="433.2" y1="465.81" x2="466.6" y2="465.81" stroke="#1f4e9d" stroke-width="0.9"/>
<circle cx="441.05" cy="486.52" r="1.22" fill="#1f4e9d"/>
<circle cx="452.59" cy="459.95" r="1.22" fill="#1f4e9d"/>
<circle cx="447.23" cy="484.84" r="1.22" fill="#1f4e9d"/>
<circle cx="442.77" cy="459.76" r="1.22" fill="#1f4e9d"/>
<circle cx="447.48" cy="459.32" r="1.22" fill="#1f4e9d"/>
<circle cx="453.03" cy="484.2" r="1.22" fill="#1f4e9d"/>
<circle cx="454.38" cy="479.25" r="1.22" fill="#1f4e9d"/>
<circle cx="448.35" cy="486.77" r="1.22" fill="#1f4e9d"/>
<circle cx="442.84" cy="462.98" r="1.22" fill="#1f4e9d"/>
<circle cx="452.22" cy="463.71" r="1.22" fill="#1f4e9d"/>
<circle cx="451.74" cy="475.74" r="1.22" fill="#1f4e9d"/>
<circle cx="449.6" cy="473.72" r="1.22" fill="#1f4e9d"/>
<circle cx="458.55" cy="467.7" r="1.22" fill="#1f4e9d"/>
<circle cx="447.44" cy="461.87" r="1.22" fill="#1f4e9d"/>
<circle cx="450.32" cy="458.65" r="1.22" fill="#1f4e9d"/>
<circle cx="441.25" cy="469.28" r="1.22" fill="#1f4e9d"/>
<circle cx="443.15" cy="477.02" r="1.22" fill="#1f4e9d"/>
<circle cx="444.27" cy="474.3" r="1.22" fill="#1f4e9d"/>
<circle cx="444.14" cy="460.68" r="1.22" fill="#1f4e9d"/>
<circle cx="443.91" cy="482.31" r="1.22" fill="#1f4e9d"/>
<circle cx="442.69" cy="471.96" r="1.22" fill="#1f4e9d"/>
<circle cx="457.62" cy="489.76" r="1.22" fill="#1f4e9d"/>
<circle cx="451.51" cy="479.02" r="1.22" fill="#1f4e9d"/>
<circle cx="449.71" cy="478.15" r="1.22" fill="#1f4e9d"/>
<circle cx="451.04" cy="471.99" r="1.22" fill="#1f4e9d"/>
<circle cx="445.91" cy="455.15" r="1.22" fill="#1f4e9d"/>
<circle cx="456.64" cy="460.81" r="1.22" fill="#1f4e9d"/>
<circle cx="454.24" cy="466.18" r="1.22" fill="#1f4e9d"/>
<circle cx="448.55" cy="467.12" r="1.22" fill="#1f4e9d"/>
<circle cx="441.11" cy="461.53" r="1.22" fill="#1f4e9d"/>
<circle cx="440.7" cy="484.31" r="1.22" fill="#1f4e9d"/>
<circle cx="441.35" cy="469.79" r="1.22" fill="#1f4e9d"/>
<circle cx="454.06" cy="466.82" r="1.22" fill="#1f4e9d"/>
<circle cx="441.27" cy="462.93" r="1.22" fill="#1f4e9d"/>
<circle cx="448.97" cy="488.04" r="1.22" fill="#1f4e9d"/>
<circle cx="450.24" cy="454.03" r="1.22" fill="#1f4e9d"/>
<circle cx="447.52" cy="465.3" r="1.22" fill="#1f4e9d"/>
<circle cx="446.17" cy="476.61" r="1.22" fill="#1f4e9d"/>
<circle cx="457.99" cy="459.12" r="1.22" fill="#1f4e9d"/>
<circle cx="458.26" cy="468.24" r="1.22" fill="#1f4e9d"/>
<circle cx="454.59" cy="462.75" r="1.22" fill="#1f4e9d"/>
<circle cx="450.58" cy="469.34" r="1.22" fill="#1f4e9d"/>
<circle cx="458.22" cy="477.55" r="1.22" fill="#1f4e9d"/>
<circle cx="453.62" cy="472.2" r="1.22" fill="#1f4e9d"/>
<circle cx="444.95" cy="472.61" r="1.22" fill="#1f4e9d"/>
<circle cx="443.28" cy="468.85" r="1.22" fill="#1f4e9d"/>
<circle cx="443.38" cy="482.32" r="1.22" fill="#1f4e9d"/>
<circle cx="442.61" cy="476.74" r="1.22" fill="#1f4e9d"/>
<circle cx="447.87" cy="457.51" r="1.22" fill="#1f4e9d"/>
<circle cx="451.88" cy="465.9" r="1.22" fill="#1f4e9d"/>
<circle cx="444.54" cy="470.77" r="1.22" fill="#1f4e9d"/>
<circle cx="442.2" cy="493.24" r="1.22" fill="#1f4e9d"/>
<circle cx="446.9" cy="459.98" r="1.22" fill="#1f4e9d"/>
<circle cx="449.12" cy="486.19" r="1.22" fill="#1f4e9d"/>
<circle cx="456.88" cy="461.25" r="1.22" fill="#1f4e9d"/>
<circle cx="457.1" cy="460.58" r="1.22" fill="#1f4e9d"/>
<circle cx="455.82" cy="478.52" r="1.22" fill="#1f4e9d"/>
<circle cx="445.49" cy="459.23" r="1.22" fill="#1f4e9d"/>
<circle cx="455.85" cy="454.97" r="1.22" fill="#1f4e9d"/>
<circle cx="445.87" cy="486.76" r="1.22" fill="#1f4e9d"/>
<circle cx="451.47" cy="459.2" r="1.22" fill="#1f4e9d"/>
<circle cx="450.54" cy="472.32" r="1.22" fill="#1f4e9d"/>
<circle cx="444.99" cy="458.53" r="1.22" fill="#1f4e9d"/>
<circle cx="450.65" cy="469.49" r="1.22" fill="#1f4e9d"/>
<circle cx="445.54" cy="474.91" r="1.22" fill="#1f4e9d"/>
<circle cx="455.36" cy="459.6" r="1.22" fill="#1f4e9d"/>
<circle cx="445.03" cy="475.97" r="1.22" fill="#1f4e9d"/>
<circle cx="455.08" cy="471.29" r="1.22" fill="#1f4e9d"/>
<circle cx="444.17" cy="468.21" r="1.22" fill="#1f4e9d"/>
<circle cx="440.86" cy="475.6" r="1.22" fill="#1f4e9d"/>
<circle cx="448.78" cy="464.29" r="1.22" fill="#1f4e9d"/>
<circle cx="456.92" cy="486.37" r="1.22" fill="#1f4e9d"/>
<circle cx="452.39" cy="471.8" r="1.22" fill="#1f4e9d"/>
<circle cx="445.34" cy="453.84" r="1.22" fill="#1f4e9d"/>
<circle cx="450.01" cy="478.18" r="1.22" fill="#1f4e9d"/>
<circle cx="446.79" cy="464.87" r="1.22" fill="#1f4e9d"/>
<circle cx="452.89" cy="457.57" r="1.22" fill="#1f4e9d"/>
<circle cx="446" cy="464.16" r="1.22" fill="#1f4e9d"/>
<circle cx="443.79" cy="485.65" r="1.22" fill="#1f4e9d"/>
<circle cx="459.08" cy="458.32" r="1.22" fill="#1f4e9d"/>
<circle cx="441.42" cy="470.43" r="1.22" fill="#1f4e9d"/>
<circle cx="443.2" cy="471.29" r="1.22" fill="#1f4e9d"/>
<circle cx="446.57" cy="454.93" r="1.22" fill="#1f4e9d"/>
<circle cx="446.81" cy="453.7" r="1.22" fill="#1f4e9d"/>
<circle cx="450.89" cy="472.55" r="1.22" fill="#1f4e9d"/>
<circle cx="449.81" cy="466.15" r="1.22" fill="#1f4e9d"/>
<circle cx="443.55" cy="460.28" r="1.22" fill="#1f4e9d"/>
<circle cx="455.97" cy="453.79" r="1.22" fill="#1f4e9d"/>
<circle cx="453.75" cy="475.5" r="1.22" fill="#1f4e9d"/>
<circle cx="444.06" cy="456.61" r="1.22" fill="#1f4e9d"/>
<circle cx="443.81" cy="465.92" r="1.22" fill="#1f4e9d"/>
<circle cx="442.76" cy="481.5" r="1.22" fill="#1f4e9d"/>
<circle cx="450.11" cy="476.33" r="1.22" fill="#1f4e9d"/>
<circle cx="452.41" cy="464.06" r="1.22" fill="#1f4e9d"/>
<circle cx="453.95" cy="496.4" r="1.22" fill="#1f4e9d"/>
<circle cx="445.09" cy="509.22" r="1.22" fill="#1f4e9d"/>
<line x1="506.2" y1="434.88" x2="506.2" y2="445.39" stroke="#e41a1c" stroke-width="0.7"/>
<line x1="506.2" y1="461" x2="506.2" y2="480.35" stroke="#e41a1c" stroke-width="0.7"/>
<rect x="489.5" y="445.39" width="33.4" height="15.62" fill="none" stroke="#e41a1c" stroke-width="0.75"/>
<line x1="489.5" y1="451.91" x2="522.9" y2="451.91" stroke="#e41a1c" stroke-width="0.9"/>
<circle cx="499.59" cy="441.97" r="1.22" fill="#e41a1c"/>
<circle cx="510.55" cy="472.45" r="1.22" fill="#e41a1c"/>
<circle cx="515.15" cy="458.96" r="1.22" fill="#e41a1c"/>
<circle cx="505.88" cy="451.96" r="1.22" fill="#e41a1c"/>
<circle cx="504.77" cy="445.88" r="1.22" fill="#e41a1c"/>
<circle cx="513.47" cy="451.14" r="1.22" fill="#e41a1c"/>
<circle cx="508.71" cy="440.53" r="1.22" fill="#e41a1c"/>
<circle cx="515.11" cy="467.48" r="1.22" fill="#e41a1c"/>
<circle cx="509.72" cy="455.76" r="1.22" fill="#e41a1c"/>
<circle cx="505.21" cy="457.99" r="1.22" fill="#e41a1c"/>
<circle cx="497.84" cy="463.64" r="1.22" fill="#e41a1c"/>
<circle cx="513.42" cy="453.53" r="1.22" fill="#e41a1c"/>
<circle cx="510.88" cy="473.99" r="1.22" fill="#e41a1c"/>
<circle cx="499.55" cy="475.72" r="1.22" fill="#e41a1c"/>
<circle cx="509.71" cy="460.74" r="1.22" fill="#e41a1c"/>
<circle cx="501.97" cy="437.77" r="1.22" fill="#e41a1c"/>
<circle cx="505.09" cy="436.27" r="1.22" fill="#e41a1c"/>
<circle cx="499.92" cy="464.69" r="1.22" fill="#e41a1c"/>
<circle cx="498.52" cy="451.07" r="1.22" fill="#e41a1c"/>
<circle cx="505.6" cy="449.49" r="1.22" fill="#e41a1c"/>
<circle cx="510.15" cy="472.22" r="1.22" fill="#e41a1c"/>
<circle cx="510.08" cy="463.83" r="1.22" fill="#e41a1c"/>
<circle cx="512.65" cy="438.89" r="1.22" fill="#e41a1c"/>
<circle cx="513.79" cy="463.65" r="1.22" fill="#e41a1c"/>
<circle cx="510.72" cy="447.76" r="1.22" fill="#e41a1c"/>
<circle cx="501.59" cy="453.37" r="1.22" fill="#e41a1c"/>
<circle cx="511.26" cy="440.69" r="1.22" fill="#e41a1c"/>
<circle cx="510.51" cy="462.52" r="1.22" fill="#e41a1c"/>
<circle cx="499.13" cy="453.43" r="1.22" fill="#e41a1c"/>
<circle cx="497.27" cy="475.17" r="1.22" fill="#e41a1c"/>
<circle cx="513.78" cy="445.38" r="1.22" fill="#e41a1c"/>
<circle cx="500.17" cy="472.61" r="1.22" fill="#e41a1c"/>
<circle cx="513.02" cy="456.93" r="1.22" fill="#e41a1c"/>
<circle cx="514.42" cy="441.71" r="1.22" fill="#e41a1c"/>
<circle cx="504.72" cy="456.98" r="1.22" fill="#e41a1c"/>
<circle cx="506.72" cy="468.16" r="1.22" fill="#e41a1c"/>
<circle cx="498.34" cy="439.52" r="1.22" fill="#e41a1c"/>
<circle cx="498.41" cy="450.89" r="1.22" fill="#e41a1c"/>
<circle cx="512.65" cy="457.72" r="1.22" fill="#e41a1c"/>
<circle cx="508.47" cy="466.61" r="1.22" fill="#e41a1c"/>
<circle cx="501.77" cy="438.71" r="1.22" fill="#e41a1c"/>
<circle cx="500.53" cy="448.59" r="1.22" fill="#e41a1c"/>
<circle cx="498.41" cy="454.77" r="1.22" fill="#e41a1c"/>
<circle cx="511.09" cy="461.44" r="1.22" fill="#e41a1c"/>
<circle cx="502.01" cy="445.97" r="1.22" fill="#e41a1c"/>
<circle cx="497.99" cy="456.55" r="1.22" fill="#e41a1c"/>
<circle cx="512.15" cy="445.68" r="1.22" fill="#e41a1c"/>
<circle cx="502.78" cy="453.81" r="1.22" fill="#e41a1c"/>
<circle cx="500.11" cy="453.63" r="1.22" fill="#e41a1c"/>
<circle cx="507.41" cy="451.14" r="1.22" fill="#e41a1c"/>
<circle cx="503.75" cy="453.71" r="1.22" fill="#e41a1c"/>
<circle cx="506.67" cy="435.27" r="1.22" fill="#e41a1c"/>
<circle cx="505.43" cy="453.5" r="1.22" fill="#e41a1c"/>
<circle cx="506.96" cy="451.5" r="1.22" fill="#e41a1c"/>
<circle cx="501.91" cy="446.7" r="1.22" fill="#e41a1c"/>
<circle cx="506.23" cy="454.54" r="1.22" fill="#e41a1c"/>
<circle cx="514.59" cy="446.35" r="1.22" fill="#e41a1c"/>
<circle cx="500.88" cy="438.2" r="1.22" fill="#e41a1c"/>
<circle cx="504.7" cy="447.06" r="1.22" fill="#e41a1c"/>
<circle cx="505.5" cy="470.58" r="1.22" fill="#e41a1c"/>
<circle cx="505.29" cy="454.25" r="1.22" fill="#e41a1c"/>
<circle cx="503.3" cy="448.42" r="1.22" fill="#e41a1c"/>
<circle cx="508.55" cy="442.13" r="1.22" fill="#e41a1c"/>
<circle cx="514.17" cy="444.23" r="1.22" fill="#e41a1c"/>
<circle cx="499.76" cy="447.54" r="1.22" fill="#e41a1c"/>
<circle cx="505.23" cy="453.77" r="1.22" fill="#e41a1c"/>
<circle cx="515.03" cy="466.82" r="1.22" fill="#e41a1c"/>
<circle cx="497.02" cy="447.58" r="1.22" fill="#e41a1c"/>
<circle cx="509.75" cy="453.04" r="1.22" fill="#e41a1c"/>
<circle cx="503.77" cy="455.65" r="1.22" fill="#e41a1c"/>
<circle cx="506.3" cy="454.99" r="1.22" fill="#e41a1c"/>
<circle cx="510.37" cy="459.28" r="1.22" fill="#e41a1c"/>
<circle cx="501.71" cy="449.94" r="1.22" fill="#e41a1c"/>
<circle cx="498.22" cy="463.07" r="1.22" fill="#e41a1c"/>
<circle cx="508.77" cy="445.04" r="1.22" fill="#e41a1c"/>
<circle cx="515.17" cy="467.15" r="1.22" fill="#e41a1c"/>
<circle cx="505.37" cy="457.43" r="1.22" fill="#e41a1c"/>
<circle cx="514.21" cy="466.13" r="1.22" fill="#e41a1c"/>
<circle cx="506.45" cy="451.92" r="1.22" fill="#e41a1c"/>
<circle cx="509.5" cy="445.11" r="1.22" fill="#e41a1c"/>
<circle cx="509.17" cy="445.86" r="1.22" fill="#e41a1c"/>
<circle cx="511.11" cy="473.25" r="1.22" fill="#e41a1c"/>
<circle cx="508.97" cy="479.34" r="1.22" fill="#e41a1c"/>
<circle cx="509.62" cy="448.49" r="1.22" fill="#e41a1c"/>
<circle cx="510.1" cy="447.09" r="1.22" fill="#e41a1c"/>
<circle cx="501.64" cy="450.83" r="1.22" fill="#e41a1c"/>
<circle cx="513.24" cy="474.28" r="1.22" fill="#e41a1c"/>
<circle cx="508.21" cy="459.35" r="1.22" fill="#e41a1c"/>
<circle cx="506.23" cy="441.12" r="1.22" fill="#e41a1c"/>
<circle cx="508.62" cy="456.05" r="1.22" fill="#e41a1c"/>
<circle cx="503.34" cy="446.28" r="1.22" fill="#e41a1c"/>
<circle cx="501.42" cy="452.11" r="1.22" fill="#e41a1c"/>
<circle cx="513.83" cy="449.96" r="1.22" fill="#e41a1c"/>
<circle cx="500.9" cy="442.29" r="1.22" fill="#e41a1c"/>
<circle cx="503.58" cy="442.31" r="1.22" fill="#e41a1c"/>
<circle cx="507.88" cy="444.3" r="1.22" fill="#e41a1c"/>
<circle cx="506.13" cy="436.97" r="1.22" fill="#e41a1c"/>
<circle cx="498.7" cy="475.3" r="1.22" fill="#e41a1c"/>
<circle cx="502.01" cy="439.17" r="1.22" fill="#e41a1c"/>
<circle cx="511.1" cy="492.36" r="1.22" fill="#e41a1c"/>
<circle cx="499.53" cy="497.94" r="1.22" fill="#e41a1c"/>
<circle cx="505.86" cy="501.37" r="1.22" fill="#e41a1c"/>
<circle cx="499.02" cy="485.5" r="1.22" fill="#e41a1c"/>
<circle cx="498.4" cy="487.64" r="1.22" fill="#e41a1c"/>
<line x1="543.9" y1="434.45" x2="543.9" y2="440.2" stroke="#1f4e9d" stroke-width="0.7"/>
<line x1="543.9" y1="450.71" x2="543.9" y2="463.49" stroke="#1f4e9d" stroke-width="0.7"/>
<rect x="527.2" y="440.2" width="33.4" height="10.51" fill="none" stroke="#1f4e9d" stroke-width="0.75"/>
<line x1="527.2" y1="444.19" x2="560.6" y2="444.19" stroke="#1f4e9d" stroke-width="0.9"/>
<circle cx="536.76" cy="451.75" r="1.22" fill="#1f4e9d"/>
<circle cx="548.05" cy="458.83" r="1.22" fill="#1f4e9d"/>
<circle cx="536.3" cy="441.18" r="1.22" fill="#1f4e9d"/>
<circle cx="551.26" cy="437.42" r="1.22" fill="#1f4e9d"/>
<circle cx="549.52" cy="446.96" r="1.22" fill="#1f4e9d"/>
<circle cx="550.82" cy="442.19" r="1.22" fill="#1f4e9d"/>
<circle cx="548.31" cy="447.6" r="1.22" fill="#1f4e9d"/>
<circle cx="539.82" cy="445.18" r="1.22" fill="#1f4e9d"/>
<circle cx="545.78" cy="458.74" r="1.22" fill="#1f4e9d"/>
<circle cx="543.7" cy="441.32" r="1.22" fill="#1f4e9d"/>
<circle cx="550.83" cy="445.84" r="1.22" fill="#1f4e9d"/>
<circle cx="545.69" cy="439.51" r="1.22" fill="#1f4e9d"/>
<circle cx="542.25" cy="447.24" r="1.22" fill="#1f4e9d"/>
<circle cx="547.9" cy="446.09" r="1.22" fill="#1f4e9d"/>
<circle cx="549.04" cy="439.67" r="1.22" fill="#1f4e9d"/>
<circle cx="546.39" cy="446.75" r="1.22" fill="#1f4e9d"/>
<circle cx="541.52" cy="445.88" r="1.22" fill="#1f4e9d"/>
<circle cx="546.96" cy="447.16" r="1.22" fill="#1f4e9d"/>
<circle cx="545.2" cy="454.51" r="1.22" fill="#1f4e9d"/>
<circle cx="536.65" cy="449.49" r="1.22" fill="#1f4e9d"/>
<circle cx="539.69" cy="446.65" r="1.22" fill="#1f4e9d"/>
<circle cx="537.39" cy="454.99" r="1.22" fill="#1f4e9d"/>
<circle cx="544.13" cy="452.18" r="1.22" fill="#1f4e9d"/>
<circle cx="536.76" cy="437.82" r="1.22" fill="#1f4e9d"/>
<circle cx="548.76" cy="449.86" r="1.22" fill="#1f4e9d"/>
<circle cx="545.57" cy="450.38" r="1.22" fill="#1f4e9d"/>
<circle cx="537.22" cy="445.2" r="1.22" fill="#1f4e9d"/>
<circle cx="547.63" cy="441.92" r="1.22" fill="#1f4e9d"/>
<circle cx="549.15" cy="458.38" r="1.22" fill="#1f4e9d"/>
<circle cx="535.31" cy="439.66" r="1.22" fill="#1f4e9d"/>
<circle cx="548.2" cy="444.3" r="1.22" fill="#1f4e9d"/>
<circle cx="543.42" cy="448.8" r="1.22" fill="#1f4e9d"/>
<circle cx="551.24" cy="440.12" r="1.22" fill="#1f4e9d"/>
<circle cx="551.57" cy="456.25" r="1.22" fill="#1f4e9d"/>
<circle cx="546.07" cy="440.83" r="1.22" fill="#1f4e9d"/>
<circle cx="549.34" cy="454.53" r="1.22" fill="#1f4e9d"/>
<circle cx="538.14" cy="440.05" r="1.22" fill="#1f4e9d"/>
<circle cx="548.29" cy="439.11" r="1.22" fill="#1f4e9d"/>
<circle cx="547.57" cy="450.84" r="1.22" fill="#1f4e9d"/>
<circle cx="548.47" cy="435.25" r="1.22" fill="#1f4e9d"/>
<circle cx="543" cy="441.24" r="1.22" fill="#1f4e9d"/>
<circle cx="539.02" cy="453.46" r="1.22" fill="#1f4e9d"/>
<circle cx="541.69" cy="442.3" r="1.22" fill="#1f4e9d"/>
<circle cx="537.77" cy="459.73" r="1.22" fill="#1f4e9d"/>
<circle cx="546.87" cy="444.9" r="1.22" fill="#1f4e9d"/>
<circle cx="547.18" cy="447.13" r="1.22" fill="#1f4e9d"/>
<circle cx="546.12" cy="436.48" r="1.22" fill="#1f4e9d"/>
<circle cx="549.19" cy="437.75" r="1.22" fill="#1f4e9d"/>
<circle cx="539.98" cy="442.8" r="1.22" fill="#1f4e9d"/>
<circle cx="545.86" cy="437.68" r="1.22" fill="#1f4e9d"/>
<circle cx="549.37" cy="456.52" r="1.22" fill="#1f4e9d"/>
<circle cx="546.29" cy="451.25" r="1.22" fill="#1f4e9d"/>
<circle cx="537.93" cy="447.26" r="1.22" fill="#1f4e9d"/>
<circle cx="539.96" cy="451.48" r="1.22" fill="#1f4e9d"/>
<circle cx="540.42" cy="444.21" r="1.22" fill="#1f4e9d"/>
<circle cx="540.45" cy="454.98" r="1.22" fill="#1f4e9d"/>
<circle cx="547.29" cy="459.92" r="1.22" fill="#1f4e9d"/>
<circle cx="541.64" cy="456.59" r="1.22" fill="#1f4e9d"/>
<circle cx="538.52" cy="447.47" r="1.22" fill="#1f4e9d"/>
<circle cx="552.15" cy="462.39" r="1.22" fill="#1f4e9d"/>
<circle cx="545.38" cy="443.84" r="1.22" fill="#1f4e9d"/>
<circle cx="551.45" cy="437.42" r="1.22" fill="#1f4e9d"/>
<circle cx="542.62" cy="456.52" r="1.22" fill="#1f4e9d"/>
<circle cx="536.88" cy="443.91" r="1.22" fill="#1f4e9d"/>
<circle cx="536" cy="439.98" r="1.22" fill="#1f4e9d"/>
<circle cx="551.48" cy="442.1" r="1.22" fill="#1f4e9d"/>
<circle cx="535.19" cy="435.66" r="1.22" fill="#1f4e9d"/>
<circle cx="536.08" cy="437.24" r="1.22" fill="#1f4e9d"/>
<circle cx="545.69" cy="441.22" r="1.22" fill="#1f4e9d"/>
<circle cx="542.23" cy="459.48" r="1.22" fill="#1f4e9d"/>
<circle cx="535.42" cy="448.17" r="1.22" fill="#1f4e9d"/>
<circle cx="540.97" cy="434.57" r="1.22" fill="#1f4e9d"/>
<circle cx="545.51" cy="439.74" r="1.22" fill="#1f4e9d"/>
<circle cx="537.73" cy="444.54" r="1.22" fill="#1f4e9d"/>
<circle cx="541.6" cy="442.5" r="1.22" fill="#1f4e9d"/>
<circle cx="539.21" cy="445.03" r="1.22" fill="#1f4e9d"/>
<circle cx="544" cy="444.22" r="1.22" fill="#1f4e9d"/>
<circle cx="551.04" cy="450.55" r="1.22" fill="#1f4e9d"/>
<circle cx="545.54" cy="436.53" r="1.22" fill="#1f4e9d"/>
<circle cx="548.6" cy="449.54" r="1.22" fill="#1f4e9d"/>
<circle cx="549.72" cy="441.56" r="1.22" fill="#1f4e9d"/>
<circle cx="534.95" cy="443.93" r="1.22" fill="#1f4e9d"/>
<circle cx="536.53" cy="440.43" r="1.22" fill="#1f4e9d"/>
<circle cx="549.77" cy="443.8" r="1.22" fill="#1f4e9d"/>
<circle cx="543.75" cy="453.52" r="1.22" fill="#1f4e9d"/>
<circle cx="542.36" cy="453.4" r="1.22" fill="#1f4e9d"/>
<circle cx="550.58" cy="458.19" r="1.22" fill="#1f4e9d"/>
<circle cx="539.36" cy="438.23" r="1.22" fill="#1f4e9d"/>
<circle cx="543.52" cy="450.3" r="1.22" fill="#1f4e9d"/>
<circle cx="549.41" cy="451.32" r="1.22" fill="#1f4e9d"/>
<circle cx="547.74" cy="448.75" r="1.22" fill="#1f4e9d"/>
<circle cx="535.94" cy="477.35" r="1.22" fill="#1f4e9d"/>
<circle cx="539.5" cy="474.77" r="1.22" fill="#1f4e9d"/>
<circle cx="550.55" cy="472.63" r="1.22" fill="#1f4e9d"/>
<circle cx="545.99" cy="468.34" r="1.22" fill="#1f4e9d"/>
<circle cx="541.99" cy="476.92" r="1.22" fill="#1f4e9d"/>
<line x1="600" y1="442" x2="600" y2="461.3" stroke="#e41a1c" stroke-width="0.7"/>
<line x1="600" y1="482.2" x2="600" y2="507.89" stroke="#e41a1c" stroke-width="0.7"/>
<rect x="583.3" y="461.3" width="33.4" height="20.89" fill="none" stroke="#e41a1c" stroke-width="0.75"/>
<line x1="583.3" y1="470.1" x2="616.7" y2="470.1" stroke="#e41a1c" stroke-width="0.9"/>
<circle cx="601.88" cy="489.86" r="1.22" fill="#e41a1c"/>
<circle cx="591.91" cy="461.67" r="1.22" fill="#e41a1c"/>
<circle cx="602.53" cy="477.92" r="1.22" fill="#e41a1c"/>
<circle cx="606.14" cy="448.99" r="1.22" fill="#e41a1c"/>
<circle cx="594.55" cy="469.62" r="1.22" fill="#e41a1c"/>
<circle cx="608.18" cy="476.14" r="1.22" fill="#e41a1c"/>
<circle cx="593.9" cy="456.42" r="1.22" fill="#e41a1c"/>
<circle cx="598.89" cy="475" r="1.22" fill="#e41a1c"/>
<circle cx="598.85" cy="504.37" r="1.22" fill="#e41a1c"/>
<circle cx="608.52" cy="497.69" r="1.22" fill="#e41a1c"/>
<circle cx="599.64" cy="450.47" r="1.22" fill="#e41a1c"/>
<circle cx="604.37" cy="455.75" r="1.22" fill="#e41a1c"/>
<circle cx="604.09" cy="479.81" r="1.22" fill="#e41a1c"/>
<circle cx="596" cy="469.48" r="1.22" fill="#e41a1c"/>
<circle cx="599.27" cy="453.67" r="1.22" fill="#e41a1c"/>
<circle cx="599.28" cy="469.41" r="1.22" fill="#e41a1c"/>
<circle cx="596.9" cy="474.24" r="1.22" fill="#e41a1c"/>
<circle cx="594.44" cy="470.45" r="1.22" fill="#e41a1c"/>
<circle cx="593.82" cy="478.03" r="1.22" fill="#e41a1c"/>
<circle cx="608.99" cy="481.66" r="1.22" fill="#e41a1c"/>
<circle cx="607.85" cy="466.9" r="1.22" fill="#e41a1c"/>
<circle cx="593.76" cy="480.56" r="1.22" fill="#e41a1c"/>
<circle cx="609.08" cy="474.77" r="1.22" fill="#e41a1c"/>
<circle cx="597.07" cy="466.33" r="1.22" fill="#e41a1c"/>
<circle cx="604.78" cy="454.53" r="1.22" fill="#e41a1c"/>
<circle cx="599.4" cy="477.2" r="1.22" fill="#e41a1c"/>
<circle cx="599.49" cy="484.3" r="1.22" fill="#e41a1c"/>
<circle cx="598.63" cy="458.47" r="1.22" fill="#e41a1c"/>
<circle cx="591.41" cy="474.61" r="1.22" fill="#e41a1c"/>
<circle cx="600.38" cy="470.92" r="1.22" fill="#e41a1c"/>
<circle cx="595.47" cy="475.13" r="1.22" fill="#e41a1c"/>
<circle cx="607.73" cy="466.83" r="1.22" fill="#e41a1c"/>
<circle cx="602.42" cy="445.38" r="1.22" fill="#e41a1c"/>
<circle cx="595.98" cy="456.86" r="1.22" fill="#e41a1c"/>
<circle cx="606.2" cy="446.82" r="1.22" fill="#e41a1c"/>
<circle cx="601.53" cy="471.46" r="1.22" fill="#e41a1c"/>
<circle cx="602.49" cy="478.24" r="1.22" fill="#e41a1c"/>
<circle cx="604.36" cy="495.93" r="1.22" fill="#e41a1c"/>
<circle cx="604.23" cy="463.05" r="1.22" fill="#e41a1c"/>
<circle cx="594.78" cy="477.31" r="1.22" fill="#e41a1c"/>
<circle cx="606.77" cy="461.72" r="1.22" fill="#e41a1c"/>
<circle cx="604.46" cy="467.88" r="1.22" fill="#e41a1c"/>
<circle cx="604.77" cy="468.18" r="1.22" fill="#e41a1c"/>
<circle cx="604.48" cy="467.78" r="1.22" fill="#e41a1c"/>
<circle cx="595.11" cy="465.68" r="1.22" fill="#e41a1c"/>
<circle cx="608.85" cy="472.84" r="1.22" fill="#e41a1c"/>
<circle cx="604.18" cy="478.38" r="1.22" fill="#e41a1c"/>
<circle cx="607.65" cy="461.14" r="1.22" fill="#e41a1c"/>
<circle cx="596.03" cy="468.25" r="1.22" fill="#e41a1c"/>
<circle cx="596.45" cy="480.09" r="1.22" fill="#e41a1c"/>
<circle cx="607.01" cy="466.92" r="1.22" fill="#e41a1c"/>
<circle cx="609.16" cy="476.75" r="1.22" fill="#e41a1c"/>
<circle cx="603.65" cy="492.17" r="1.22" fill="#e41a1c"/>
<circle cx="593.54" cy="472.28" r="1.22" fill="#e41a1c"/>
<circle cx="596.1" cy="485.31" r="1.22" fill="#e41a1c"/>
<circle cx="600.79" cy="474.75" r="1.22" fill="#e41a1c"/>
<circle cx="590.97" cy="489.74" r="1.22" fill="#e41a1c"/>
<circle cx="597.01" cy="471.07" r="1.22" fill="#e41a1c"/>
<circle cx="601.22" cy="446.05" r="1.22" fill="#e41a1c"/>
<circle cx="607.84" cy="470.63" r="1.22" fill="#e41a1c"/>
<circle cx="603.49" cy="467.32" r="1.22" fill="#e41a1c"/>
<circle cx="607.22" cy="482.7" r="1.22" fill="#e41a1c"/>
<circle cx="594.59" cy="459.27" r="1.22" fill="#e41a1c"/>
<circle cx="606.84" cy="468.93" r="1.22" fill="#e41a1c"/>
<circle cx="594.82" cy="496.58" r="1.22" fill="#e41a1c"/>
<circle cx="595.43" cy="471.84" r="1.22" fill="#e41a1c"/>
<circle cx="602.9" cy="498.82" r="1.22" fill="#e41a1c"/>
<circle cx="595.3" cy="465.31" r="1.22" fill="#e41a1c"/>
<circle cx="591.03" cy="446.51" r="1.22" fill="#e41a1c"/>
<circle cx="603.71" cy="456.56" r="1.22" fill="#e41a1c"/>
<circle cx="591.99" cy="471.46" r="1.22" fill="#e41a1c"/>
<circle cx="602.56" cy="466.92" r="1.22" fill="#e41a1c"/>
<circle cx="592.7" cy="465.48" r="1.22" fill="#e41a1c"/>
<circle cx="600.12" cy="467.88" r="1.22" fill="#e41a1c"/>
<circle cx="607.34" cy="463.13" r="1.22" fill="#e41a1c"/>
<circle cx="598.5" cy="495.31" r="1.22" fill="#e41a1c"/>
<circle cx="594.56" cy="469.48" r="1.22" fill="#e41a1c"/>
<circle cx="607.2" cy="450.91" r="1.22" fill="#e41a1c"/>
<circle cx="607.68" cy="475.49" r="1.22" fill="#e41a1c"/>
<circle cx="599.53" cy="473.17" r="1.22" fill="#e41a1c"/>
<circle cx="604.39" cy="469.5" r="1.22" fill="#e41a1c"/>
<circle cx="595.3" cy="462.49" r="1.22" fill="#e41a1c"/>
<circle cx="591.16" cy="504.07" r="1.22" fill="#e41a1c"/>
<circle cx="594.94" cy="488.15" r="1.22" fill="#e41a1c"/>
<circle cx="601.78" cy="458.73" r="1.22" fill="#e41a1c"/>
<circle cx="605.23" cy="479.02" r="1.22" fill="#e41a1c"/>
<circle cx="593.46" cy="460" r="1.22" fill="#e41a1c"/>
<circle cx="593.4" cy="471.74" r="1.22" fill="#e41a1c"/>
<circle cx="596.28" cy="470.2" r="1.22" fill="#e41a1c"/>
<circle cx="595.58" cy="474.34" r="1.22" fill="#e41a1c"/>
<circle cx="597.26" cy="473.51" r="1.22" fill="#e41a1c"/>
<circle cx="604.59" cy="507.4" r="1.22" fill="#e41a1c"/>
<circle cx="597.5" cy="472.5" r="1.22" fill="#e41a1c"/>
<circle cx="604.49" cy="448.11" r="1.22" fill="#e41a1c"/>
<circle cx="602.82" cy="453.84" r="1.22" fill="#e41a1c"/>
<circle cx="607.63" cy="469.29" r="1.22" fill="#e41a1c"/>
<circle cx="601.64" cy="467.91" r="1.22" fill="#e41a1c"/>
<circle cx="608.69" cy="460.43" r="1.22" fill="#e41a1c"/>
<circle cx="597.67" cy="492.32" r="1.22" fill="#e41a1c"/>
<circle cx="600.85" cy="463.99" r="1.22" fill="#e41a1c"/>
<circle cx="594.48" cy="477.6" r="1.22" fill="#e41a1c"/>
<circle cx="594.56" cy="446.71" r="1.22" fill="#e41a1c"/>
<circle cx="597.27" cy="508.67" r="1.22" fill="#e41a1c"/>
<circle cx="606.51" cy="520.25" r="1.22" fill="#e41a1c"/>
<line x1="637.3" y1="450.58" x2="637.3" y2="475.29" stroke="#1f4e9d" stroke-width="0.7"/>
<line x1="637.3" y1="493.39" x2="637.3" y2="513.51" stroke="#1f4e9d" stroke-width="0.7"/>
<rect x="620.6" y="475.29" width="33.4" height="18.1" fill="none" stroke="#1f4e9d" stroke-width="0.75"/>
<line x1="620.6" y1="482.2" x2="654" y2="482.2" stroke="#1f4e9d" stroke-width="0.9"/>
<circle cx="636.41" cy="479.05" r="1.22" fill="#1f4e9d"/>
<circle cx="644.14" cy="488.85" r="1.22" fill="#1f4e9d"/>
<circle cx="628.6" cy="473.28" r="1.22" fill="#1f4e9d"/>
<circle cx="634.2" cy="463.15" r="1.22" fill="#1f4e9d"/>
<circle cx="640.94" cy="483.04" r="1.22" fill="#1f4e9d"/>
<circle cx="631.27" cy="513.02" r="1.22" fill="#1f4e9d"/>
<circle cx="628.28" cy="475.25" r="1.22" fill="#1f4e9d"/>
<circle cx="634.11" cy="484.78" r="1.22" fill="#1f4e9d"/>
<circle cx="640.92" cy="497.76" r="1.22" fill="#1f4e9d"/>
<circle cx="643.96" cy="470" r="1.22" fill="#1f4e9d"/>
<circle cx="631.55" cy="486.45" r="1.22" fill="#1f4e9d"/>
<circle cx="639.02" cy="486.93" r="1.22" fill="#1f4e9d"/>
<circle cx="644.1" cy="498.43" r="1.22" fill="#1f4e9d"/>
<circle cx="642.14" cy="485.6" r="1.22" fill="#1f4e9d"/>
<circle cx="639.82" cy="477.45" r="1.22" fill="#1f4e9d"/>
<circle cx="637.13" cy="458.12" r="1.22" fill="#1f4e9d"/>
<circle cx="632.29" cy="508.45" r="1.22" fill="#1f4e9d"/>
<circle cx="633.17" cy="463.76" r="1.22" fill="#1f4e9d"/>
<circle cx="638.48" cy="479.66" r="1.22" fill="#1f4e9d"/>
<circle cx="633.67" cy="481.5" r="1.22" fill="#1f4e9d"/>
<circle cx="641.02" cy="465.41" r="1.22" fill="#1f4e9d"/>
<circle cx="632.66" cy="501.34" r="1.22" fill="#1f4e9d"/>
<circle cx="639.57" cy="468.73" r="1.22" fill="#1f4e9d"/>
<circle cx="631.98" cy="499.26" r="1.22" fill="#1f4e9d"/>
<circle cx="640.73" cy="483.67" r="1.22" fill="#1f4e9d"/>
<circle cx="644.38" cy="492.52" r="1.22" fill="#1f4e9d"/>
<circle cx="644.5" cy="468.18" r="1.22" fill="#1f4e9d"/>
<circle cx="635.81" cy="466.99" r="1.22" fill="#1f4e9d"/>
<circle cx="645.16" cy="490.95" r="1.22" fill="#1f4e9d"/>
<circle cx="630.67" cy="493.72" r="1.22" fill="#1f4e9d"/>
<circle cx="635.32" cy="489.36" r="1.22" fill="#1f4e9d"/>
<circle cx="633.35" cy="488.99" r="1.22" fill="#1f4e9d"/>
<circle cx="635.27" cy="454.46" r="1.22" fill="#1f4e9d"/>
<circle cx="629.12" cy="458.15" r="1.22" fill="#1f4e9d"/>
<circle cx="634.73" cy="481.88" r="1.22" fill="#1f4e9d"/>
<circle cx="639.07" cy="463.29" r="1.22" fill="#1f4e9d"/>
<circle cx="641.9" cy="498.75" r="1.22" fill="#1f4e9d"/>
<circle cx="636.28" cy="493.41" r="1.22" fill="#1f4e9d"/>
<circle cx="645.09" cy="482.39" r="1.22" fill="#1f4e9d"/>
<circle cx="640.52" cy="472.41" r="1.22" fill="#1f4e9d"/>
<circle cx="641.73" cy="489.57" r="1.22" fill="#1f4e9d"/>
<circle cx="643.53" cy="451.11" r="1.22" fill="#1f4e9d"/>
<circle cx="634.64" cy="477.99" r="1.22" fill="#1f4e9d"/>
<circle cx="642.16" cy="476.32" r="1.22" fill="#1f4e9d"/>
<circle cx="636.97" cy="486.76" r="1.22" fill="#1f4e9d"/>
<circle cx="633.39" cy="473.37" r="1.22" fill="#1f4e9d"/>
<circle cx="640.42" cy="482.04" r="1.22" fill="#1f4e9d"/>
<circle cx="641.1" cy="475.11" r="1.22" fill="#1f4e9d"/>
<circle cx="629" cy="468.67" r="1.22" fill="#1f4e9d"/>
<circle cx="641.23" cy="490.61" r="1.22" fill="#1f4e9d"/>
<circle cx="645.66" cy="505.35" r="1.22" fill="#1f4e9d"/>
<circle cx="628.71" cy="501.43" r="1.22" fill="#1f4e9d"/>
<circle cx="645.5" cy="487.42" r="1.22" fill="#1f4e9d"/>
<circle cx="635.93" cy="501.64" r="1.22" fill="#1f4e9d"/>
<circle cx="645.23" cy="506.14" r="1.22" fill="#1f4e9d"/>
<circle cx="635.33" cy="470.01" r="1.22" fill="#1f4e9d"/>
<circle cx="636.47" cy="477.04" r="1.22" fill="#1f4e9d"/>
<circle cx="640.17" cy="492.42" r="1.22" fill="#1f4e9d"/>
<circle cx="633.65" cy="474.14" r="1.22" fill="#1f4e9d"/>
<circle cx="632.4" cy="483.19" r="1.22" fill="#1f4e9d"/>
<circle cx="640.18" cy="472.58" r="1.22" fill="#1f4e9d"/>
<circle cx="634.33" cy="493.82" r="1.22" fill="#1f4e9d"/>
<circle cx="628.57" cy="480.56" r="1.22" fill="#1f4e9d"/>
<circle cx="633.45" cy="474.47" r="1.22" fill="#1f4e9d"/>
<circle cx="644.59" cy="481.41" r="1.22" fill="#1f4e9d"/>
<circle cx="641.64" cy="470.21" r="1.22" fill="#1f4e9d"/>
<circle cx="630.56" cy="491.13" r="1.22" fill="#1f4e9d"/>
<circle cx="637.47" cy="461.66" r="1.22" fill="#1f4e9d"/>
<circle cx="639.14" cy="470.55" r="1.22" fill="#1f4e9d"/>
<circle cx="631.3" cy="484.78" r="1.22" fill="#1f4e9d"/>
<circle cx="643.23" cy="503.96" r="1.22" fill="#1f4e9d"/>
<circle cx="646.03" cy="481.83" r="1.22" fill="#1f4e9d"/>
<circle cx="640.21" cy="496.33" r="1.22" fill="#1f4e9d"/>
<circle cx="642.59" cy="482.41" r="1.22" fill="#1f4e9d"/>
<circle cx="635.55" cy="478.57" r="1.22" fill="#1f4e9d"/>
<circle cx="632.67" cy="472.74" r="1.22" fill="#1f4e9d"/>
<circle cx="640.55" cy="486.35" r="1.22" fill="#1f4e9d"/>
<circle cx="644.19" cy="472.53" r="1.22" fill="#1f4e9d"/>
<circle cx="641.63" cy="484.47" r="1.22" fill="#1f4e9d"/>
<circle cx="630.87" cy="477.02" r="1.22" fill="#1f4e9d"/>
<circle cx="646.46" cy="485.62" r="1.22" fill="#1f4e9d"/>
<circle cx="644.76" cy="483.83" r="1.22" fill="#1f4e9d"/>
<circle cx="640.8" cy="499.22" r="1.22" fill="#1f4e9d"/>
<circle cx="632.04" cy="489.6" r="1.22" fill="#1f4e9d"/>
<circle cx="631.27" cy="483.55" r="1.22" fill="#1f4e9d"/>
<circle cx="630.25" cy="461.02" r="1.22" fill="#1f4e9d"/>
<circle cx="642.51" cy="492.58" r="1.22" fill="#1f4e9d"/>
<circle cx="638.22" cy="482.85" r="1.22" fill="#1f4e9d"/>
<circle cx="646.29" cy="477.96" r="1.22" fill="#1f4e9d"/>
<circle cx="631.3" cy="471.69" r="1.22" fill="#1f4e9d"/>
<circle cx="634.74" cy="513.1" r="1.22" fill="#1f4e9d"/>
<circle cx="633.26" cy="471.84" r="1.22" fill="#1f4e9d"/>
<circle cx="643.75" cy="522.82" r="1.22" fill="#1f4e9d"/>
<circle cx="642.18" cy="526.25" r="1.22" fill="#1f4e9d"/>
<circle cx="641.5" cy="539.12" r="1.22" fill="#1f4e9d"/>
<circle cx="637.22" cy="551.14" r="1.22" fill="#1f4e9d"/>
<rect x="29.6" y="621.8" width="204.9" height="60.6" fill="none" stroke="#bdbdbd" stroke-width="1"/>
<line x1="127.8" y1="621.8" x2="127.8" y2="682.4" stroke="#aaa" stroke-width="0.5" stroke-dasharray="1.2,1"/>
<line x1="29.6" y1="677.4" x2="234.5" y2="677.4" stroke="#bbb" stroke-width="0.5" stroke-dasharray="1.2,1"/>
<line x1="26.8" y1="680.3" x2="29.6" y2="680.3" stroke="#999" stroke-width="0.6"/>
<text x="23.5" y="680.3" font-size="4" fill="#151515" text-anchor="middle" transform="rotate(-90 23.5 680.3)">0</text>
<line x1="26.8" y1="666.5" x2="29.6" y2="666.5" stroke="#999" stroke-width="0.6"/>
<text x="23.5" y="666.5" font-size="4" fill="#151515" text-anchor="middle" transform="rotate(-90 23.5 666.5)">5</text>
<line x1="26.8" y1="652.7" x2="29.6" y2="652.7" stroke="#999" stroke-width="0.6"/>
<text x="23.5" y="652.7" font-size="4" fill="#151515" text-anchor="middle" transform="rotate(-90 23.5 652.7)">10</text>
<line x1="26.8" y1="638.9" x2="29.6" y2="638.9" stroke="#999" stroke-width="0.6"/>
<text x="23.5" y="638.9" font-size="4" fill="#151515" text-anchor="middle" transform="rotate(-90 23.5 638.9)">15</text>
<line x1="26.8" y1="625.1" x2="29.6" y2="625.1" stroke="#999" stroke-width="0.6"/>
<text x="23.5" y="625.1" font-size="4" fill="#151515" text-anchor="middle" transform="rotate(-90 23.5 625.1)">20</text>
<text x="16.4" y="652.4" font-size="4.2" fill="#151515" text-anchor="middle" transform="rotate(-90 16.4 652.4)">Risk score</text>
<line x1="35.9" y1="682.4" x2="35.9" y2="685" stroke="#999" stroke-width="0.6"/>
<text x="35.9" y="688" font-size="4" fill="#151515" text-anchor="middle">0</text>
<line x1="83.8" y1="682.4" x2="83.8" y2="685" stroke="#999" stroke-width="0.6"/>
<text x="83.8" y="688" font-size="4" fill="#151515" text-anchor="middle">50</text>
<line x1="131.7" y1="682.4" x2="131.7" y2="685" stroke="#999" stroke-width="0.6"/>
<text x="131.7" y="688" font-size="4" fill="#151515" text-anchor="middle">100</text>
<line x1="179.6" y1="682.4" x2="179.6" y2="685" stroke="#999" stroke-width="0.6"/>
<text x="179.6" y="688" font-size="4" fill="#151515" text-anchor="middle">150</text>
<line x1="227.5" y1="682.4" x2="227.5" y2="685" stroke="#999" stroke-width="0.6"/>
<text x="227.5" y="688" font-size="4" fill="#151515" text-anchor="middle">200</text>
<text x="130" y="696" font-size="4.2" fill="#151515" text-anchor="middle">Patients (increasing risk score)</text>
<polyline points="36.86,680.3 37.82,680.28 38.77,680.26 39.73,680.24 40.69,680.22 41.65,680.19 42.61,680.17 43.56,680.15 44.52,680.13 45.48,680.11 46.44,680.09 47.4,680.07 48.35,680.05 49.31,680.02 50.27,680 51.23,679.98 52.19,679.96 53.14,679.94 54.1,679.92 55.06,679.9 56.02,679.88 56.98,679.85 57.93,679.83 58.89,679.81 59.85,679.79 60.81,679.77 61.77,679.75 62.72,679.73 63.68,679.71 64.64,679.68 65.6,679.66 66.56,679.64 67.51,679.62 68.47,679.6 69.43,679.58 70.39,679.56 71.35,679.54 72.3,679.51 73.26,679.49 74.22,679.47 75.18,679.44 76.14,679.4 77.09,679.37 78.05,679.33 79.01,679.3 79.97,679.26 80.93,679.23 81.88,679.2 82.84,679.16 83.8,679.13 84.76,679.09 85.72,679.06 86.67,679.02 87.63,678.99 88.59,678.95 89.55,678.92 90.51,678.89 91.46,678.85 92.42,678.82 93.38,678.78 94.34,678.75 95.3,678.71 96.25,678.68 97.21,678.64 98.17,678.61 99.13,678.57 100.09,678.54 101.04,678.51 102,678.47 102.96,678.44 103.92,678.4 104.88,678.37 105.83,678.33 106.79,678.3 107.75,678.26 108.71,678.23 109.67,678.2 110.62,678.16 111.58,678.13 112.54,678.09 113.5,678.06 114.46,678.02 115.41,677.99 116.37,677.95 117.33,677.92 118.29,677.88 119.25,677.85 120.2,677.82 121.16,677.78 122.12,677.75 123.08,677.71 124.04,677.68 124.99,677.64 125.95,677.61 126.91,677.57 127.87,677.54" fill="none" stroke="#2a54a3" stroke-width="1.35" stroke-linejoin="round"/>
<polyline points="128.83,677.52 129.78,677.49 130.74,677.47 131.7,677.44 132.66,677.42 133.62,677.4 134.57,677.37 135.53,677.35 136.49,677.32 137.45,677.3 138.41,677.28 139.36,677.25 140.32,677.23 141.28,677.2 142.24,677.18 143.2,677.16 144.15,677.13 145.11,677.11 146.07,677.08 147.03,677.06 147.99,677.04 148.94,677.01 149.9,676.99 150.86,676.93 151.82,676.88 152.78,676.83 153.73,676.77 154.69,676.72 155.65,676.67 156.61,676.61 157.57,676.56 158.52,676.51 159.48,676.45 160.44,676.4 161.4,676.35 162.36,676.29 163.31,676.24 164.27,676.19 165.23,676.13 166.19,676.08 167.15,676.03 168.1,675.97 169.06,675.92 170.02,675.87 170.98,675.81 171.94,675.76 172.89,675.71 173.85,675.65 174.81,675.6 175.77,675.55 176.73,675.49 177.68,675.44 178.64,675.39 179.6,675.33 180.56,675.13 181.52,674.94 182.47,674.74 183.43,674.54 184.39,674.35 185.35,674.15 186.31,673.95 187.26,673.75 188.22,673.56 189.18,673.36 190.14,673.16 191.1,672.97 192.05,672.77 193.01,672.57 193.97,672.37 194.93,672.18 195.89,671.98 196.84,671.78 197.8,671.59 198.76,671.39 199.72,671.19 200.68,670.97 201.63,670.75 202.59,670.53 203.55,670.32 204.51,670.1 205.47,669.88 206.42,669.66 207.38,669.44 208.34,669.22 209.3,669 210.26,668.78 211.21,668.56 212.17,668.43" fill="none" stroke="#e41a1c" stroke-width="1.35" stroke-linejoin="round"/>
<circle cx="213.13" cy="666.5" r="0.75" fill="#e41a1c"/>
<circle cx="214.09" cy="663.74" r="0.75" fill="#e41a1c"/>
<circle cx="215.05" cy="662.91" r="0.75" fill="#e41a1c"/>
<circle cx="216" cy="662.08" r="0.75" fill="#e41a1c"/>
<circle cx="216.96" cy="659.88" r="0.75" fill="#e41a1c"/>
<circle cx="217.92" cy="659.32" r="0.75" fill="#e41a1c"/>
<circle cx="218.88" cy="657.67" r="0.75" fill="#e41a1c"/>
<circle cx="219.84" cy="655.46" r="0.75" fill="#e41a1c"/>
<circle cx="220.79" cy="652.7" r="0.75" fill="#e41a1c"/>
<circle cx="221.75" cy="651.87" r="0.75" fill="#e41a1c"/>
<circle cx="222.71" cy="651.6" r="0.75" fill="#e41a1c"/>
<circle cx="223.67" cy="651.04" r="0.75" fill="#e41a1c"/>
<circle cx="224.63" cy="644.42" r="0.75" fill="#e41a1c"/>
<circle cx="225.58" cy="642.49" r="0.75" fill="#e41a1c"/>
<circle cx="226.54" cy="640.28" r="0.75" fill="#e41a1c"/>
<circle cx="227.5" cy="624.27" r="0.75" fill="#e41a1c"/>
<rect x="29.3" y="709.5" width="205.2" height="59.8" fill="none" stroke="#bdbdbd" stroke-width="1"/>
<line x1="127.8" y1="709.5" x2="127.8" y2="769.3" stroke="#aaa" stroke-width="0.5" stroke-dasharray="1.2,1"/>
<line x1="26.5" y1="767.4" x2="29.3" y2="767.4" stroke="#999" stroke-width="0.6"/>
<text x="23.5" y="767.4" font-size="3.6" fill="#151515" text-anchor="middle" transform="rotate(-90 23.5 767.4)">0</text>
<line x1="26.5" y1="759.52" x2="29.3" y2="759.52" stroke="#999" stroke-width="0.6"/>
<text x="23.5" y="759.52" font-size="3.6" fill="#151515" text-anchor="middle" transform="rotate(-90 23.5 759.52)">2</text>
<line x1="26.5" y1="751.64" x2="29.3" y2="751.64" stroke="#999" stroke-width="0.6"/>
<text x="23.5" y="751.64" font-size="3.6" fill="#151515" text-anchor="middle" transform="rotate(-90 23.5 751.64)">4</text>
<line x1="26.5" y1="743.76" x2="29.3" y2="743.76" stroke="#999" stroke-width="0.6"/>
<text x="23.5" y="743.76" font-size="3.6" fill="#151515" text-anchor="middle" transform="rotate(-90 23.5 743.76)">6</text>
<line x1="26.5" y1="735.88" x2="29.3" y2="735.88" stroke="#999" stroke-width="0.6"/>
<text x="23.5" y="735.88" font-size="3.6" fill="#151515" text-anchor="middle" transform="rotate(-90 23.5 735.88)">8</text>
<line x1="26.5" y1="728" x2="29.3" y2="728" stroke="#999" stroke-width="0.6"/>
<text x="23.5" y="728" font-size="3.6" fill="#151515" text-anchor="middle" transform="rotate(-90 23.5 728)">10</text>
<line x1="26.5" y1="720.12" x2="29.3" y2="720.12" stroke="#999" stroke-width="0.6"/>
<text x="23.5" y="720.12" font-size="3.6" fill="#151515" text-anchor="middle" transform="rotate(-90 23.5 720.12)">12</text>
<line x1="26.5" y1="712.24" x2="29.3" y2="712.24" stroke="#999" stroke-width="0.6"/>
<text x="23.5" y="712.24" font-size="3.6" fill="#151515" text-anchor="middle" transform="rotate(-90 23.5 712.24)">14</text>
<text x="16.4" y="739.4" font-size="4.2" fill="#151515" text-anchor="middle" transform="rotate(-90 16.4 739.4)">Survival time (day)</text>
<line x1="35.9" y1="769.3" x2="35.9" y2="772" stroke="#999" stroke-width="0.6"/>
<text x="35.9" y="775.6" font-size="4" fill="#151515" text-anchor="middle">0</text>
<line x1="83.8" y1="769.3" x2="83.8" y2="772" stroke="#999" stroke-width="0.6"/>
<text x="83.8" y="775.6" font-size="4" fill="#151515" text-anchor="middle">50</text>
<line x1="131.7" y1="769.3" x2="131.7" y2="772" stroke="#999" stroke-width="0.6"/>
<text x="131.7" y="775.6" font-size="4" fill="#151515" text-anchor="middle">100</text>
<line x1="179.6" y1="769.3" x2="179.6" y2="772" stroke="#999" stroke-width="0.6"/>
<text x="179.6" y="775.6" font-size="4" fill="#151515" text-anchor="middle">150</text>
<line x1="227.5" y1="769.3" x2="227.5" y2="772" stroke="#999" stroke-width="0.6"/>
<text x="227.5" y="775.6" font-size="4" fill="#151515" text-anchor="middle">200</text>
<text x="130" y="783" font-size="4.2" fill="#151515" text-anchor="middle">Patients (increasing risk score)</text>
<circle cx="58.12" cy="712.44" r="1.05" fill="#2a54a3"/>
<circle cx="80.09" cy="723.88" r="1.05" fill="#2a54a3"/>
<circle cx="80.91" cy="724.7" r="1.05" fill="#2a54a3"/>
<circle cx="81.83" cy="732.06" r="1.05" fill="#2a54a3"/>
<circle cx="56.08" cy="736.45" r="1.05" fill="#2a54a3"/>
<circle cx="38.71" cy="741.56" r="1.05" fill="#2a54a3"/>
<circle cx="41.77" cy="740.95" r="1.05" fill="#2a54a3"/>
<circle cx="75.19" cy="735.12" r="1.05" fill="#2a54a3"/>
<circle cx="69.36" cy="740.23" r="1.05" fill="#2a54a3"/>
<circle cx="78.05" cy="740.03" r="1.05" fill="#2a54a3"/>
<circle cx="70.39" cy="744.12" r="1.05" fill="#2a54a3"/>
<circle cx="82.85" cy="747.9" r="1.05" fill="#2a54a3"/>
<circle cx="98.49" cy="741.25" r="1.05" fill="#2a54a3"/>
<circle cx="96.14" cy="746.06" r="1.05" fill="#2a54a3"/>
<circle cx="36.97" cy="754.85" r="1.05" fill="#2a54a3"/>
<circle cx="42.8" cy="752.49" r="1.05" fill="#2a54a3"/>
<circle cx="47.6" cy="753.82" r="1.05" fill="#2a54a3"/>
<circle cx="51.28" cy="752.19" r="1.05" fill="#2a54a3"/>
<circle cx="58.84" cy="753.01" r="1.05" fill="#2a54a3"/>
<circle cx="63.74" cy="753.82" r="1.05" fill="#2a54a3"/>
<circle cx="74.17" cy="752.29" r="1.05" fill="#2a54a3"/>
<circle cx="77.03" cy="751.17" r="1.05" fill="#2a54a3"/>
<circle cx="79.07" cy="754.54" r="1.05" fill="#2a54a3"/>
<circle cx="88.78" cy="750.96" r="1.05" fill="#2a54a3"/>
<circle cx="95.22" cy="751.68" r="1.05" fill="#2a54a3"/>
<circle cx="97.26" cy="753.31" r="1.05" fill="#2a54a3"/>
<circle cx="98.49" cy="756.58" r="1.05" fill="#2a54a3"/>
<circle cx="37.99" cy="761.69" r="1.05" fill="#2a54a3"/>
<circle cx="40.24" cy="759.95" r="1.05" fill="#2a54a3"/>
<circle cx="41.06" cy="759.95" r="1.05" fill="#2a54a3"/>
<circle cx="43.82" cy="762.71" r="1.05" fill="#2a54a3"/>
<circle cx="48.42" cy="757.3" r="1.05" fill="#2a54a3"/>
<circle cx="46.58" cy="758.63" r="1.05" fill="#2a54a3"/>
<circle cx="50.25" cy="760.16" r="1.05" fill="#2a54a3"/>
<circle cx="52.3" cy="757.81" r="1.05" fill="#2a54a3"/>
<circle cx="49.44" cy="763.22" r="1.05" fill="#2a54a3"/>
<circle cx="53.32" cy="761.69" r="1.05" fill="#2a54a3"/>
<circle cx="54.55" cy="762.41" r="1.05" fill="#2a54a3"/>
<circle cx="54.04" cy="763.22" r="1.05" fill="#2a54a3"/>
<circle cx="57.1" cy="758.12" r="1.05" fill="#2a54a3"/>
<circle cx="59.86" cy="759.65" r="1.05" fill="#2a54a3"/>
<circle cx="61.19" cy="758.12" r="1.05" fill="#2a54a3"/>
<circle cx="68.34" cy="758.12" r="1.05" fill="#2a54a3"/>
<circle cx="67.32" cy="760.67" r="1.05" fill="#2a54a3"/>
<circle cx="65.79" cy="762" r="1.05" fill="#2a54a3"/>
<circle cx="64.56" cy="764.04" r="1.05" fill="#2a54a3"/>
<circle cx="71.41" cy="759.65" r="1.05" fill="#2a54a3"/>
<circle cx="73.14" cy="760.36" r="1.05" fill="#2a54a3"/>
<circle cx="72.43" cy="762.71" r="1.05" fill="#2a54a3"/>
<circle cx="76.01" cy="759.85" r="1.05" fill="#2a54a3"/>
<circle cx="84.69" cy="755.56" r="1.05" fill="#2a54a3"/>
<circle cx="85.71" cy="756.07" r="1.05" fill="#2a54a3"/>
<circle cx="87.76" cy="759.14" r="1.05" fill="#2a54a3"/>
<circle cx="91.33" cy="757.4" r="1.05" fill="#2a54a3"/>
<circle cx="94.2" cy="758.42" r="1.05" fill="#2a54a3"/>
<circle cx="83.98" cy="762.71" r="1.05" fill="#2a54a3"/>
<circle cx="86.74" cy="762" r="1.05" fill="#2a54a3"/>
<circle cx="90.31" cy="762.71" r="1.05" fill="#2a54a3"/>
<circle cx="89.8" cy="765.06" r="1.05" fill="#2a54a3"/>
<circle cx="92.36" cy="765.06" r="1.05" fill="#2a54a3"/>
<circle cx="93.17" cy="766.8" r="1.05" fill="#2a54a3"/>
<circle cx="44.33" cy="767.31" r="1.05" fill="#2a54a3"/>
<circle cx="45.55" cy="765.78" r="1.05" fill="#2a54a3"/>
<circle cx="61.7" cy="766.8" r="1.05" fill="#2a54a3"/>
<circle cx="62.72" cy="766.8" r="1.05" fill="#2a54a3"/>
<circle cx="66.6" cy="766.8" r="1.05" fill="#2a54a3"/>
<circle cx="99.25" cy="741.25" r="1.05" fill="#2a54a3"/>
<circle cx="103.95" cy="746.87" r="1.05" fill="#2a54a3"/>
<circle cx="105.99" cy="749.94" r="1.05" fill="#2a54a3"/>
<circle cx="109.77" cy="751.98" r="1.05" fill="#2a54a3"/>
<circle cx="112.53" cy="750.45" r="1.05" fill="#2a54a3"/>
<circle cx="113.35" cy="752.19" r="1.05" fill="#2a54a3"/>
<circle cx="114.37" cy="738.7" r="1.05" fill="#2a54a3"/>
<circle cx="116.42" cy="740.74" r="1.05" fill="#2a54a3"/>
<circle cx="118.25" cy="747.69" r="1.05" fill="#2a54a3"/>
<circle cx="121.32" cy="750.45" r="1.05" fill="#2a54a3"/>
<circle cx="122.34" cy="750.96" r="1.05" fill="#2a54a3"/>
<circle cx="118.97" cy="755.25" r="1.05" fill="#2a54a3"/>
<circle cx="125.1" cy="756.58" r="1.05" fill="#2a54a3"/>
<circle cx="126.12" cy="731.85" r="1.05" fill="#2a54a3"/>
<circle cx="130.52" cy="736.35" r="1.05" fill="#2a54a3"/>
<circle cx="135.32" cy="745.65" r="1.05" fill="#2a54a3"/>
<circle cx="131.74" cy="754.54" r="1.05" fill="#2a54a3"/>
<circle cx="132.56" cy="757.81" r="1.05" fill="#2a54a3"/>
<circle cx="136.65" cy="755.87" r="1.05" fill="#2a54a3"/>
<circle cx="137.87" cy="756.28" r="1.05" fill="#2a54a3"/>
<circle cx="138.9" cy="759.34" r="1.05" fill="#2a54a3"/>
<circle cx="144.01" cy="757.3" r="1.05" fill="#2a54a3"/>
<circle cx="145.03" cy="747.08" r="1.05" fill="#2a54a3"/>
<circle cx="150.65" cy="747.9" r="1.05" fill="#2a54a3"/>
<circle cx="148.91" cy="751.98" r="1.05" fill="#2a54a3"/>
<circle cx="155.45" cy="739.21" r="1.05" fill="#2a54a3"/>
<circle cx="157.49" cy="744.32" r="1.05" fill="#2a54a3"/>
<circle cx="160.36" cy="743.81" r="1.05" fill="#2a54a3"/>
<circle cx="154.53" cy="753.01" r="1.05" fill="#2a54a3"/>
<circle cx="152.69" cy="756.07" r="1.05" fill="#2a54a3"/>
<circle cx="163.42" cy="753.52" r="1.05" fill="#2a54a3"/>
<circle cx="164.24" cy="753.52" r="1.05" fill="#2a54a3"/>
<circle cx="166.49" cy="757.6" r="1.05" fill="#2a54a3"/>
<circle cx="164.95" cy="759.14" r="1.05" fill="#2a54a3"/>
<circle cx="100.07" cy="756.58" r="1.05" fill="#2a54a3"/>
<circle cx="102.11" cy="757.6" r="1.05" fill="#2a54a3"/>
<circle cx="104.97" cy="756.58" r="1.05" fill="#2a54a3"/>
<circle cx="101.09" cy="761.69" r="1.05" fill="#2a54a3"/>
<circle cx="102.93" cy="761.69" r="1.05" fill="#2a54a3"/>
<circle cx="106.71" cy="760.98" r="1.05" fill="#2a54a3"/>
<circle cx="108.24" cy="761.69" r="1.05" fill="#2a54a3"/>
<circle cx="110.28" cy="761.69" r="1.05" fill="#2a54a3"/>
<circle cx="111.61" cy="758.63" r="1.05" fill="#2a54a3"/>
<circle cx="115.6" cy="762.2" r="1.05" fill="#2a54a3"/>
<circle cx="117.44" cy="764.45" r="1.05" fill="#2a54a3"/>
<circle cx="120.3" cy="760.36" r="1.05" fill="#2a54a3"/>
<circle cx="123.36" cy="761.18" r="1.05" fill="#2a54a3"/>
<circle cx="126.63" cy="761.69" r="1.05" fill="#2a54a3"/>
<circle cx="128.17" cy="762.2" r="1.05" fill="#2a54a3"/>
<circle cx="129.5" cy="762.71" r="1.05" fill="#2a54a3"/>
<circle cx="133.28" cy="763.43" r="1.05" fill="#2a54a3"/>
<circle cx="134.6" cy="765.27" r="1.05" fill="#2a54a3"/>
<circle cx="139.92" cy="763.22" r="1.05" fill="#2a54a3"/>
<circle cx="141.45" cy="764.04" r="1.05" fill="#2a54a3"/>
<circle cx="142.78" cy="762" r="1.05" fill="#2a54a3"/>
<circle cx="146.05" cy="762" r="1.05" fill="#2a54a3"/>
<circle cx="147.07" cy="764.04" r="1.05" fill="#2a54a3"/>
<circle cx="147.89" cy="759.65" r="1.05" fill="#2a54a3"/>
<circle cx="149.93" cy="765.06" r="1.05" fill="#2a54a3"/>
<circle cx="153.71" cy="759.65" r="1.05" fill="#2a54a3"/>
<circle cx="156.47" cy="759.95" r="1.05" fill="#2a54a3"/>
<circle cx="159.54" cy="762.71" r="1.05" fill="#2a54a3"/>
<circle cx="161.17" cy="760.36" r="1.05" fill="#2a54a3"/>
<circle cx="158.52" cy="765.27" r="1.05" fill="#2a54a3"/>
<circle cx="162.4" cy="765.78" r="1.05" fill="#2a54a3"/>
<circle cx="165.67" cy="765.78" r="1.05" fill="#2a54a3"/>
<circle cx="187.99" cy="711.62" r="1.05" fill="#2a54a3"/>
<circle cx="200.25" cy="722.55" r="1.05" fill="#2a54a3"/>
<circle cx="201.28" cy="730.32" r="1.05" fill="#2a54a3"/>
<circle cx="223.25" cy="720.51" r="1.05" fill="#2a54a3"/>
<circle cx="226.11" cy="728.79" r="1.05" fill="#2a54a3"/>
<circle cx="193.82" cy="736.15" r="1.05" fill="#2a54a3"/>
<circle cx="189.83" cy="739.52" r="1.05" fill="#2a54a3"/>
<circle cx="216.6" cy="737.98" r="1.05" fill="#2a54a3"/>
<circle cx="167.86" cy="740.23" r="1.05" fill="#2a54a3"/>
<circle cx="168.88" cy="741.25" r="1.05" fill="#2a54a3"/>
<circle cx="195.66" cy="750.96" r="1.05" fill="#2a54a3"/>
<circle cx="210.98" cy="748.92" r="1.05" fill="#2a54a3"/>
<circle cx="206.08" cy="751.78" r="1.05" fill="#2a54a3"/>
<circle cx="225.29" cy="751.27" r="1.05" fill="#2a54a3"/>
<circle cx="178.28" cy="754.03" r="1.05" fill="#2a54a3"/>
<circle cx="182.17" cy="753.01" r="1.05" fill="#2a54a3"/>
<circle cx="183.19" cy="756.28" r="1.05" fill="#2a54a3"/>
<circle cx="185.44" cy="757.6" r="1.05" fill="#2a54a3"/>
<circle cx="186.25" cy="757.3" r="1.05" fill="#2a54a3"/>
<circle cx="175.53" cy="756.89" r="1.05" fill="#2a54a3"/>
<circle cx="167.04" cy="757.3" r="1.05" fill="#2a54a3"/>
<circle cx="196.47" cy="754.54" r="1.05" fill="#2a54a3"/>
<circle cx="199.54" cy="755.05" r="1.05" fill="#2a54a3"/>
<circle cx="203.32" cy="755.36" r="1.05" fill="#2a54a3"/>
<circle cx="205.36" cy="757.09" r="1.05" fill="#2a54a3"/>
<circle cx="207.92" cy="756.89" r="1.05" fill="#2a54a3"/>
<circle cx="206.9" cy="757.91" r="1.05" fill="#2a54a3"/>
<circle cx="213.85" cy="757.6" r="1.05" fill="#2a54a3"/>
<circle cx="215.79" cy="753.52" r="1.05" fill="#2a54a3"/>
<circle cx="219.67" cy="755.56" r="1.05" fill="#2a54a3"/>
<circle cx="221.2" cy="756.89" r="1.05" fill="#2a54a3"/>
<circle cx="224.27" cy="757.4" r="1.05" fill="#2a54a3"/>
<circle cx="220.69" cy="758.63" r="1.05" fill="#2a54a3"/>
<circle cx="222.22" cy="758.63" r="1.05" fill="#2a54a3"/>
<circle cx="202.3" cy="758.63" r="1.05" fill="#2a54a3"/>
<circle cx="204.34" cy="759.95" r="1.05" fill="#2a54a3"/>
<circle cx="190.85" cy="759.65" r="1.05" fill="#2a54a3"/>
<circle cx="179.31" cy="760.36" r="1.05" fill="#2a54a3"/>
<circle cx="181.35" cy="759.95" r="1.05" fill="#2a54a3"/>
<circle cx="184.21" cy="761.39" r="1.05" fill="#2a54a3"/>
<circle cx="170.93" cy="762.2" r="1.05" fill="#2a54a3"/>
<circle cx="171.95" cy="763.74" r="1.05" fill="#2a54a3"/>
<circle cx="173.69" cy="762.71" r="1.05" fill="#2a54a3"/>
<circle cx="176.24" cy="764.25" r="1.05" fill="#2a54a3"/>
<circle cx="177.77" cy="764.04" r="1.05" fill="#2a54a3"/>
<circle cx="180.33" cy="764.25" r="1.05" fill="#2a54a3"/>
<circle cx="194.84" cy="763.02" r="1.05" fill="#2a54a3"/>
<circle cx="197.9" cy="764.25" r="1.05" fill="#2a54a3"/>
<circle cx="198.52" cy="764.45" r="1.05" fill="#2a54a3"/>
<circle cx="208.94" cy="761.18" r="1.05" fill="#2a54a3"/>
<circle cx="210.17" cy="762.41" r="1.05" fill="#2a54a3"/>
<circle cx="212.01" cy="762" r="1.05" fill="#2a54a3"/>
<circle cx="214.87" cy="763.43" r="1.05" fill="#2a54a3"/>
<circle cx="217.63" cy="764.76" r="1.05" fill="#2a54a3"/>
<circle cx="218.65" cy="765.78" r="1.05" fill="#2a54a3"/>
<circle cx="227.33" cy="763.74" r="1.05" fill="#2a54a3"/>
<circle cx="169.9" cy="766.29" r="1.05" fill="#2a54a3"/>
<circle cx="172.97" cy="767.31" r="1.05" fill="#2a54a3"/>
<circle cx="186.97" cy="767.31" r="1.05" fill="#2a54a3"/>
<circle cx="191.77" cy="766.8" r="1.05" fill="#2a54a3"/>
<circle cx="192.79" cy="766.49" r="1.05" fill="#2a54a3"/>
<circle cx="151.67" cy="762" r="1.05" fill="#e41a1c"/>
<circle cx="174.71" cy="747.39" r="1.05" fill="#e41a1c"/>
<circle cx="189.01" cy="765.06" r="1.05" fill="#e41a1c"/>
<circle cx="212.82" cy="765.06" r="1.05" fill="#e41a1c"/>
<path d="M292.25 627.1 H417.05 V648.77 H341.04 V634.29 H301.83 V631.7 H292.25 Z" fill="#f8c8b3"/>
<polyline points="285.5,626.2 417.05,626.2" fill="none" stroke="#6f7cc0" stroke-width="1.2" stroke-linejoin="round"/>
<polyline points="292.25,626.2 292.25,628.45 301.83,628.45 301.83,630.13 341.04,630.13 341.04,636.31 417.05,636.31" fill="none" stroke="#e3342a" stroke-width="1.1" stroke-linejoin="round"/>
<line x1="277.5" y1="620.2" x2="277.5" y2="745.3" stroke="#4a4a4a" stroke-width="1"/>
<line x1="277.5" y1="745.3" x2="456.5" y2="745.3" stroke="#4a4a4a" stroke-width="1"/>
<line x1="275.6" y1="626.2" x2="277.5" y2="626.2" stroke="#444" stroke-width="0.6"/>
<text x="275.2" y="626.2" font-size="4.4" fill="#111" text-anchor="end">1.00</text>
<line x1="275.6" y1="654.27" x2="277.5" y2="654.27" stroke="#444" stroke-width="0.6"/>
<text x="275.2" y="654.27" font-size="4.4" fill="#111" text-anchor="end">0.75</text>
<line x1="275.6" y1="682.35" x2="277.5" y2="682.35" stroke="#444" stroke-width="0.6"/>
<text x="275.2" y="682.35" font-size="4.4" fill="#111" text-anchor="end">0.50</text>
<line x1="275.6" y1="710.42" x2="277.5" y2="710.42" stroke="#444" stroke-width="0.6"/>
<text x="275.2" y="710.42" font-size="4.4" fill="#111" text-anchor="end">0.25</text>
<line x1="275.6" y1="738.5" x2="277.5" y2="738.5" stroke="#444" stroke-width="0.6"/>
<text x="275.2" y="738.5" font-size="4.4" fill="#111" text-anchor="end">0.00</text>
<line x1="285.5" y1="744.9" x2="285.5" y2="747.4" stroke="#333" stroke-width="0.6"/>
<text x="285.5" y="750.3" font-size="4.2" fill="#151515" text-anchor="middle">0</text>
<line x1="339.95" y1="744.9" x2="339.95" y2="747.4" stroke="#333" stroke-width="0.6"/>
<text x="339.95" y="750.3" font-size="4.2" fill="#151515" text-anchor="middle">5</text>
<line x1="394.4" y1="744.9" x2="394.4" y2="747.4" stroke="#333" stroke-width="0.6"/>
<text x="394.4" y="750.3" font-size="4.2" fill="#151515" text-anchor="middle">10</text>
<line x1="448.85" y1="744.9" x2="448.85" y2="747.4" stroke="#333" stroke-width="0.6"/>
<text x="448.85" y="750.3" font-size="4.2" fill="#151515" text-anchor="middle">15</text>
<text x="367.2" y="754.8" font-size="5" fill="#111" text-anchor="middle">Time (Years)</text>
<text x="262.8" y="682.9" font-size="5" fill="#111" text-anchor="middle" transform="rotate(-90 262.8 682.9)">Survival probability</text>
<text x="289" y="716.8" font-size="7" fill="#111">p = 0.046</text>
<text x="415" y="660.5" font-size="5" fill="#111">HR=0 (0&#160;&#160;&#160;0)</text>
<rect x="420.2" y="632.4" width="7.4" height="7.4" fill="#f8c8b3" stroke="none" stroke-width="1"/>
<line x1="420.2" y1="636.1" x2="427.6" y2="636.1" stroke="#e3342a" stroke-width="1.1"/>
<rect x="420.2" y="640.7" width="7.4" height="7" fill="#c3c8e6" stroke="none" stroke-width="1"/>
<line x1="420.2" y1="644.2" x2="427.6" y2="644.2" stroke="#3b55a5" stroke-width="1.1"/>
<text x="430.7" y="636.1" font-size="5.2" fill="#111">high</text>
<text x="430.7" y="644.2" font-size="5.2" fill="#111">low</text>
<text x="274.3" y="764.5" font-size="6" fill="#111">Number at risk</text>
<text x="274" y="772.9" font-size="4.8" fill="#e3342a" text-anchor="end">high</text>
<text x="274" y="780.8" font-size="4.8" fill="#3b55a5" text-anchor="end">low</text>
<text x="283.5" y="772.9" font-size="6" fill="#111" text-anchor="middle">104</text>
<text x="283.5" y="780.8" font-size="6" fill="#111" text-anchor="middle">96</text>
<text x="338.45" y="772.9" font-size="6" fill="#111" text-anchor="middle">17</text>
<text x="338.45" y="780.8" font-size="6" fill="#111" text-anchor="middle">18</text>
<text x="394.4" y="772.9" font-size="6" fill="#111" text-anchor="middle">3</text>
<text x="394.4" y="780.8" font-size="6" fill="#111" text-anchor="middle">3</text>
<text x="450.35" y="772.9" font-size="6" fill="#111" text-anchor="middle">0</text>
<text x="450.35" y="780.8" font-size="6" fill="#111" text-anchor="middle">0</text>
<text x="592.2" y="619" font-size="6.2" fill="#000" text-anchor="middle" font-weight="bold" class="sf">ROC curve, Method=NNE</text>
<rect x="499.6" y="626.4" width="184.7" height="151.1" fill="none" stroke="#999" stroke-width="0.8"/>
<line x1="507" y1="771.4" x2="677.3" y2="631.4" stroke="#efe6e6" stroke-width="0.5"/>
<line x1="497" y1="771.4" x2="499.6" y2="771.4" stroke="#777" stroke-width="0.6"/>
<text x="493.6" y="771.4" font-size="5.2" fill="#000" text-anchor="middle" font-weight="bold" class="sf" transform="rotate(-90 493.6 771.4)">0.0</text>
<line x1="507" y1="777.5" x2="507" y2="780" stroke="#777" stroke-width="0.6"/>
<text x="507" y="783.2" font-size="5.2" fill="#000" text-anchor="middle" font-weight="bold" class="sf">0.0</text>
<line x1="497" y1="743.4" x2="499.6" y2="743.4" stroke="#777" stroke-width="0.6"/>
<text x="493.6" y="743.4" font-size="5.2" fill="#000" text-anchor="middle" font-weight="bold" class="sf" transform="rotate(-90 493.6 743.4)">0.2</text>
<line x1="541.06" y1="777.5" x2="541.06" y2="780" stroke="#777" stroke-width="0.6"/>
<text x="541.06" y="783.2" font-size="5.2" fill="#000" text-anchor="middle" font-weight="bold" class="sf">0.2</text>
<line x1="497" y1="715.4" x2="499.6" y2="715.4" stroke="#777" stroke-width="0.6"/>
<text x="493.6" y="715.4" font-size="5.2" fill="#000" text-anchor="middle" font-weight="bold" class="sf" transform="rotate(-90 493.6 715.4)">0.4</text>
<line x1="575.12" y1="777.5" x2="575.12" y2="780" stroke="#777" stroke-width="0.6"/>
<text x="575.12" y="783.2" font-size="5.2" fill="#000" text-anchor="middle" font-weight="bold" class="sf">0.4</text>
<line x1="497" y1="687.4" x2="499.6" y2="687.4" stroke="#777" stroke-width="0.6"/>
<text x="493.6" y="687.4" font-size="5.2" fill="#000" text-anchor="middle" font-weight="bold" class="sf" transform="rotate(-90 493.6 687.4)">0.6</text>
<line x1="609.18" y1="777.5" x2="609.18" y2="780" stroke="#777" stroke-width="0.6"/>
<text x="609.18" y="783.2" font-size="5.2" fill="#000" text-anchor="middle" font-weight="bold" class="sf">0.6</text>
<line x1="497" y1="659.4" x2="499.6" y2="659.4" stroke="#777" stroke-width="0.6"/>
<text x="493.6" y="659.4" font-size="5.2" fill="#000" text-anchor="middle" font-weight="bold" class="sf" transform="rotate(-90 493.6 659.4)">0.8</text>
<line x1="643.24" y1="777.5" x2="643.24" y2="780" stroke="#777" stroke-width="0.6"/>
<text x="643.24" y="783.2" font-size="5.2" fill="#000" text-anchor="middle" font-weight="bold" class="sf">0.8</text>
<line x1="497" y1="631.4" x2="499.6" y2="631.4" stroke="#777" stroke-width="0.6"/>
<text x="493.6" y="631.4" font-size="5.2" fill="#000" text-anchor="middle" font-weight="bold" class="sf" transform="rotate(-90 493.6 631.4)">1.0</text>
<line x1="677.3" y1="777.5" x2="677.3" y2="780" stroke="#777" stroke-width="0.6"/>
<text x="677.3" y="783.2" font-size="5.2" fill="#000" text-anchor="middle" font-weight="bold" class="sf">1.0</text>
<text x="485.2" y="702.2" font-size="6" fill="#000" text-anchor="middle" font-weight="bold" class="sf" transform="rotate(-90 485.2 702.2)">sensitivity</text>
<text x="592.2" y="789.5" font-size="6" fill="#000" text-anchor="middle" font-weight="bold" class="sf">specificity</text>
<polyline points="507,771.4 508.32,771.61 509.65,770.96 510.97,771.57 512.3,771.04 513.62,771.56 514.95,771.19 516.27,771.85 517.6,771.2 518.92,771.4 518.92,729.4 520.62,729.97 522.33,729.59 524.03,730.1 525.45,730.49 526.87,730.04 528.29,730.65 529.71,730.17 531.13,730.85 532.54,730.8 534.25,731.01 535.95,730.66 537.65,730.8 539.36,728 541.06,728 541.06,687.4 542.76,685.3 544.13,685.8 545.49,685.6 546.85,686.56 548.21,686.17 549.58,686.7 551.28,687.1 552.98,686.95 554.68,687.4 556.39,687.15 558.09,686 559.51,685.8 560.93,684.97 562.35,685.2 563.77,684.26 565.19,684.49 566.61,683.9 568.31,684.02 570.01,683.14 571.71,683.2 573.42,683.2 573.42,626.9 575.12,626.9 576.82,626.9 578.53,627.2 579.89,627.8 581.25,627.58 582.61,628.2 583.98,627.89 585.34,628.6 586.7,628.75 588.06,628.12 589.43,628.61 590.79,627.72 592.15,627.9 593.57,628.38 594.99,627.72 596.41,628.47 597.83,628.12 599.25,628.89 600.66,628.6 602.08,629.24 603.5,629.16 604.92,630.17 606.34,630.11 607.76,631.29 609.18,631.4 610.49,631.94 611.8,631.21 613.11,632.02 614.42,631.63 615.73,632.12 617.04,631.74 618.35,632.45 619.66,632.1 620.97,632.79 622.28,632.18 623.59,632.94 624.9,632.49 626.21,632.8 627.52,633.07 628.83,632.77 630.14,633.2 631.45,632.8 632.76,633.34 634.07,632.87 635.38,633.57 636.69,632.81 638,633.47 639.31,633.08 640.62,633.58 641.93,633.1 643.24,633.5 644.6,634.22 645.96,633.86 647.33,634.72 648.69,634.39 650.05,634.9 651.41,634.62 652.78,633.68 654.14,633.88 655.5,633.03 656.86,632.8 658.19,633.07 659.51,632.59 660.84,633.06 662.16,632.52 663.49,633.07 664.81,632.48 666.14,633.03 667.46,632.64 668.78,632.8 670.2,632.73 671.62,632.16 673.04,632.4 674.46,631.62 675.88,632.02 677.3,631.4" fill="none" stroke="#2f55a8" stroke-width="0.65" stroke-linejoin="round"/>
<polyline points="507,771.4 508.32,771.65 509.65,771.18 510.97,771.56 512.3,771.04 513.62,771.52 514.95,771.14 516.27,771.77 517.6,771.26 518.92,771.4 518.92,702.8 520.62,703.54 522.33,703.44 524.03,704.2 525.45,704.56 526.87,704.44 528.29,705.22 529.71,704.89 531.13,705.69 532.54,705.6 534.25,705.76 535.95,705.41 537.65,705.6 539.36,701.4 541.06,701.4 541.06,635.6 542.76,630 544.47,630.85 546.17,631.4 547.53,632.22 548.89,632.14 550.26,633.37 551.62,633.3 552.98,634.2 554.68,631.4 556.39,630.93 558.09,630 559.79,629.63 561.5,628.6 563.2,628.28 564.9,627.47 566.61,627.2 568.31,627.51 570.01,627.2 571.71,627.52 573.42,626.96 575.12,627.2 576.82,627.81 578.53,627.94 580.23,628.6 581.55,628.93 582.88,628.71 584.2,629.41 585.53,629.05 586.85,629.75 588.18,629.17 589.5,629.82 590.83,629.62 592.15,630 593.57,630.26 594.99,629.87 596.41,630.24 597.83,629.63 599.25,630.15 600.66,630 602.08,630.52 603.5,630.31 604.92,630.98 606.34,630.56 607.76,631.34 609.18,631.4 610.49,631.63 611.8,631.47 613.11,631.99 614.42,631.71 615.73,632.08 617.04,631.79 618.35,632.53 619.66,632.02 620.97,632.6 622.28,632.18 623.59,632.73 624.9,632.41 626.21,632.8 627.52,633.02 628.83,632.62 630.14,633.35 631.45,632.88 632.76,633.34 634.07,632.83 635.38,633.34 636.69,633.04 638,633.68 639.31,632.94 640.62,633.55 641.93,633.13 643.24,633.5 644.66,634 646.08,633.55 647.5,634.14 648.92,633.83 650.34,634.31 651.75,634.2 653.46,634.04 655.16,632.98 656.86,632.8 658.19,633.14 659.51,632.66 660.84,633.02 662.16,632.44 663.49,633.08 664.81,632.55 666.14,633.03 667.46,632.4 668.78,632.8 670.2,632.85 671.62,632.21 673.04,632.44 674.46,631.65 675.88,631.87 677.3,631.4" fill="none" stroke="#e03030" stroke-width="0.6" stroke-linejoin="round"/>
<line x1="604.5" y1="748.9" x2="609.2" y2="748.9" stroke="#e88a8a" stroke-width="0.7"/>
<text x="613.3" y="748.9" font-size="4.75" fill="#000" font-weight="bold" class="sf">AUC of 1 year = 0.867</text>
<line x1="604.5" y1="753.45" x2="609.2" y2="753.45" stroke="#7fc97f" stroke-width="0.7"/>
<text x="613.3" y="753.45" font-size="4.75" fill="#000" font-weight="bold" class="sf">AUC of 3 year = 0.768</text>
<line x1="604.5" y1="758" x2="609.2" y2="758" stroke="#9cb6e0" stroke-width="0.7"/>
<text x="613.3" y="758" font-size="4.75" fill="#000" font-weight="bold" class="sf">AUC of 5 year = 0.768</text>
</svg></body></html>
